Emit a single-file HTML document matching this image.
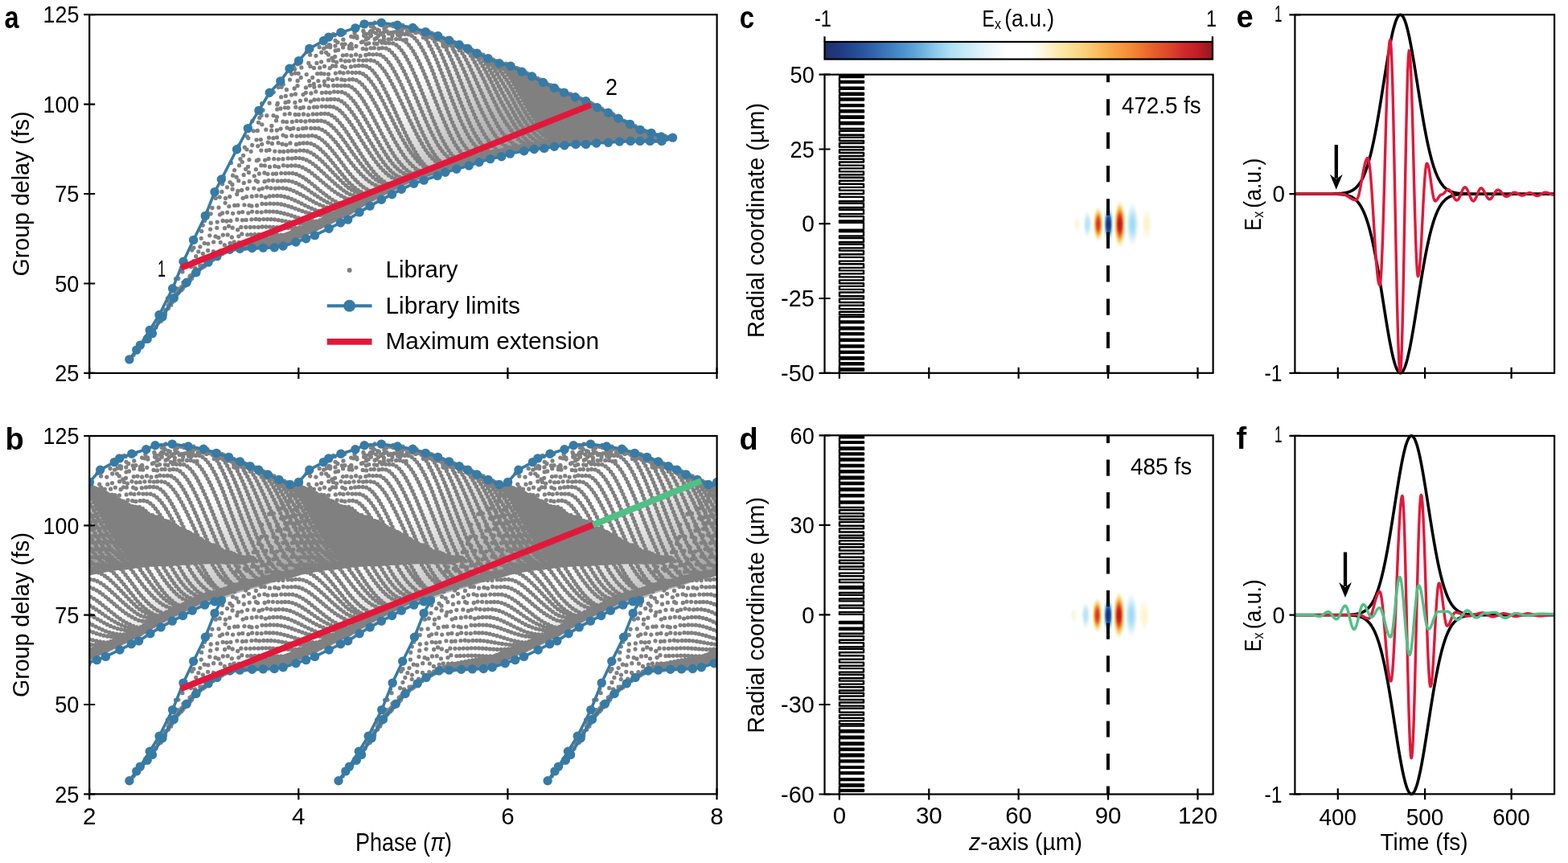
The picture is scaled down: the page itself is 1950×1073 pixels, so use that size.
<!DOCTYPE html>
<html><head><meta charset="utf-8"><title>figure</title>
<style>html,body{margin:0;padding:0;background:#fff;}body{width:1950px;height:1073px;overflow:hidden;}svg{display:block;}</style>
</head><body>
<svg width="1950" height="1073" viewBox="0 0 1950 1073" font-family="'Liberation Sans', Arial, sans-serif">
<defs><linearGradient id="dens" gradientUnits="userSpaceOnUse" x1="495" y1="125" x2="600" y2="215"><stop offset="0" stop-color="#808080" stop-opacity="0"/><stop offset="1" stop-color="#808080" stop-opacity="0.75"/></linearGradient>
<g id="lib"><path d="M160.9 446.9L169.8 435.1L174.3 429.3L186.2 410.5L198 391.5L214.6 358.8L228 325.3L240.6 298.4L255.3 268.4L267 238.6L275.3 223L294.5 185.7L308.3 159.6L321.9 137.4L335.2 115.2L348.8 100.9L360 85.2L371.5 75.6L384.8 60.4L402.3 50.8L408.8 46.1L423.9 40.4L441.9 34.9L453.1 29.9L474.3 28.3L494.2 31.2L513.3 34.5L529.2 39.6L544.6 44.6L558.6 50.2L571.1 55.8L581.8 60.5L593 66.1L607 72.6L620.9 78.7L634.9 82.1L648.9 89.1L661.5 95L675.4 102.5L689.4 109.5L701.5 115.1L715.4 120.7L728.6 125.7L742.6 133.8L756.5 140.2L769.1 147.2L783.5 154.4L796.1 161.4L810 165.4L822.3 170L836.6 171.1L822.9 175.4L808.4 175.4L796 175.4L784.2 175.4L770.5 176L756.5 177.2L741.7 178L728.6 179.4L716 179.4L702 180.8L689.4 182.2L676.8 184.4L664.3 185.5L651.7 187.8L634.3 191.1L623.7 194.8L609.7 197.6L595.8 201.8L583.2 206L567.8 210.2L553.8 214.3L544 218.5L527.2 224.1L514.7 228.3L499.3 235.3L487.5 241.7L474.4 248.3L460.1 256.1L447 263.9L432.7 273.1L423.5 277L409.1 284.2L391.5 292.6L380.6 296.8L368 301L352.1 306L341.2 307.7L327.3 308.1L313.5 308.5L298.4 309.3L285.8 310.2L269.9 318.6L259 326.1L243.9 338.7L232.2 351.3L216.2 370.6L202 394L189.4 414.6L183.2 421.4L160.9 446.9Z" fill="url(#dens)"/><path d="M166.1 441.3h0M175.2 427.7h0M185.9 416.8h0M188.3 416.5h0M193.4 405.9h0M196.3 401.5h0M198.9 397.2h0M202 393.3h0M205.8 387.1h0M209.2 383.5h0M210.5 377.7h0M214 373h0M217 368.7h0M221.1 364.5h0M224 360.6h0M227.3 356.5h0M230.8 352.9h0M233.9 349.5h0M237 346.1h0M240.1 342.7h0M243.2 339.4h0M246.7 336.3h0M250.1 333.3h0M253.6 330.2h0M257.1 327.2h0M260.6 324.3h0M264.2 321.5h0M267.9 318.6h0M271.6 316h0M275.5 313.5h0M279.4 311h0M283.2 308.5h0M287.2 306.4h0M291.7 305.3h0M296.1 304.1h0M300.6 303h0M305.1 301.9h0M309.5 300.8h0M314 299.7h0M318.5 298.8h0M323 297.9h0M327.5 297h0M332.1 296.3h0M336.6 295.8h0M341.2 295.3h0M345.7 294.4h0M350.2 293.4h0M354.6 292h0M358.9 290.4h0M363.2 288.8h0M367.6 287.3h0M371.9 285.7h0M376.2 284.1h0M380.5 282.4h0M384.7 280.6h0M389 278.9h0M393.2 277.1h0M397.4 275.1h0M401.5 273.1h0M405.6 271.1h0M409.8 269.1h0M413.9 267h0M418 265h0M422.1 263h0M426.3 261.1h0M430.6 259.3h0M434.7 257.2h0M438.6 254.8h0M442.5 252.4h0M446.4 249.9h0M450.3 247.6h0M454.3 245.3h0M458.3 243h0M462.4 240.8h0M466.4 238.7h0M470.5 236.6h0M474.6 234.5h0M478.8 232.6h0M483 230.6h0M487.1 228.7h0M491.3 226.7h0M495.4 224.6h0M499.5 222.6h0M503.8 220.8h0M508 219h0M512.3 217.3h0M516.6 215.7h0M521 214.4h0M525.4 213.1h0M529.8 211.8h0M534.2 210.5h0M538.6 209.2h0M543.1 207.9h0M547.4 206.4h0M551.7 204.8h0M556.1 203.4h0M560.5 202.3h0M565 201.2h0M569.5 200.1h0M574 199.1h0M578.4 198.1h0M582.9 197.1h0M587.4 195.8h0M591.8 194.6h0M596.2 193.3h0M600.7 192.2h0M605.1 191.1h0M609.6 189.9h0M614.1 189.2h0M618.7 188.5h0M623.2 187.7h0M627.6 186.4h0M632 185h0M636.5 184h0M641 183.3h0M645.6 182.6h0M650.1 182h0M654.7 181.3h0M659.2 180.7h0M663.8 180h0M668.4 179.8h0M673 179.5h0M677.6 179.2h0M682.1 178.6h0M686.7 178h0M691.3 177.5h0M695.9 177.2h0M700.4 176.8h0M705 176.5h0M709.6 176.2h0M714.2 175.9h0M718.8 175.8h0M723.4 175.9h0M728 176h0M732.6 175.8h0M737.2 175.5h0M741.8 175.2h0M746.4 175.1h0M751 175h0M755.6 174.9h0M760.2 174.7h0M764.8 174.5h0M769.4 174.3h0M774 174.2h0M778.6 174.2h0M783.2 174.1h0M787.7 174.2h0M792.3 174.4h0M796.9 174.5h0M801.5 174.6h0M806.1 174.7h0M810.7 174.8h0M815.3 174.9h0M819.9 175h0M824.5 174.6h0M828.9 173.3h0M833.3 172.1h0M172.1 435.5h0M181.1 421.4h0M185.5 417.3h0M188.8 412.2h0M193.5 407.3h0M198.3 400.1h0M200.1 399.4h0M203.6 393h0M210.7 379.5h0M212.7 375.6h0M214.6 370.6h0M218.5 365.4h0M223.1 362.4h0M226 357.8h0M229.5 354.1h0M232.9 350.4h0M236.3 346.9h0M239.7 343.3h0M242.8 339.8h0M246.2 336.7h0M249.7 333.8h0M253.2 330.8h0M256.7 327.8h0M260.3 324.9h0M264 322.1h0M267.7 319.4h0M271.4 316.8h0M275.4 314.4h0M279.3 311.9h0M283.2 309.5h0M287.2 307.5h0M291.7 306.5h0M296.2 305.5h0M300.7 304.5h0M305.2 303.5h0M309.7 302.5h0M314.2 301.5h0M318.7 300.6h0M323.2 299.7h0M327.7 298.9h0M332.3 298.1h0M336.8 297.4h0M341.4 297h0M345.9 296h0M350.4 295.1h0M354.8 293.7h0M359.1 292.1h0M363.4 290.6h0M367.8 289.1h0M372.1 287.5h0M376.4 285.9h0M380.7 284.3h0M384.9 282.5h0M389.2 280.8h0M393.4 279h0M397.6 277h0M401.7 275h0M405.9 273h0M410 270.9h0M414.1 268.9h0M418.2 266.9h0M422.4 264.8h0M426.6 263h0M430.8 261.2h0M434.9 259.1h0M438.8 256.6h0M442.7 254.2h0M446.6 251.7h0M450.5 249.4h0M454.5 247.1h0M458.5 244.8h0M462.6 242.6h0M466.6 240.5h0M470.7 238.4h0M474.8 236.3h0M479 234.3h0M483.1 232.4h0M487.3 230.4h0M491.4 228.3h0M495.5 226.3h0M499.6 224.2h0M503.9 222.4h0M508.1 220.7h0M512.4 218.9h0M516.7 217.3h0M521.1 216h0M525.5 214.7h0M529.9 213.3h0M534.3 212h0M538.7 210.7h0M543.1 209.4h0M547.4 207.8h0M551.7 206.2h0M556.1 204.8h0M560.6 203.6h0M565 202.5h0M569.5 201.4h0M574 200.4h0M578.4 199.3h0M582.9 198.3h0M587.3 197h0M591.8 195.7h0M596.2 194.5h0M600.6 193.3h0M605.1 192.1h0M609.5 191h0M614.1 190.2h0M618.6 189.5h0M623.1 188.7h0M627.6 187.4h0M631.9 186h0M636.4 184.9h0M640.9 184.2h0M645.5 183.5h0M650 182.8h0M654.6 182.1h0M659.1 181.5h0M663.7 180.8h0M668.3 180.5h0M672.9 180.2h0M677.5 179.9h0M682 179.3h0M686.6 178.7h0M691.1 178.1h0M695.7 177.8h0M700.3 177.4h0M704.9 177.1h0M709.5 176.7h0M714.1 176.4h0M718.7 176.3h0M723.3 176.4h0M727.9 176.5h0M732.5 176.2h0M737 175.9h0M741.6 175.6h0M746.2 175.5h0M750.8 175.4h0M755.4 175.2h0M760 175h0M764.6 174.8h0M769.2 174.6h0M773.8 174.4h0M778.4 174.4h0M783 174.3h0M787.6 174.4h0M792.2 174.5h0M796.8 174.7h0M801.4 174.7h0M806 174.8h0M810.6 174.9h0M815.2 175h0M819.8 175.1h0M824.3 174.7h0M828.8 173.4h0M833.2 172.1h0M183.2 417.2h0M198.4 396.3h0M203.1 391.6h0M205.6 390.5h0M209.7 382.5h0M212.3 378.1h0M216.4 370.5h0M219.1 369h0M223.3 362.2h0M225.7 356.9h0M229.2 355.3h0M233.2 349.8h0M236.5 346.3h0M240.2 342.6h0M243.4 339.2h0M247.2 335.9h0M250.8 333h0M254.3 330h0M257.8 327h0M261.5 324.3h0M265.2 321.6h0M268.9 318.9h0M272.8 316.5h0M276.8 314.2h0M280.8 311.9h0M284.7 309.5h0M289.1 308.3h0M293.6 307.5h0M298.2 306.7h0M302.7 305.9h0M307.2 305.1h0M311.8 304.3h0M316.3 303.5h0M320.8 302.8h0M325.4 302.1h0M329.9 301.4h0M334.5 300.7h0M339 300.1h0M343.6 299.4h0M348.1 298.5h0M352.6 297.5h0M356.9 296h0M361.2 294.4h0M365.6 293h0M370 291.5h0M374.3 289.9h0M378.6 288.4h0M382.9 286.7h0M387.2 285h0M391.4 283.3h0M395.6 281.3h0M399.7 279.3h0M403.9 277.3h0M408 275.3h0M412.1 273.3h0M416.3 271.2h0M420.4 269.2h0M424.5 267.2h0M428.8 265.4h0M433 263.6h0M436.9 261.1h0M440.8 258.7h0M444.7 256.2h0M448.6 253.8h0M452.5 251.5h0M456.5 249.2h0M460.5 246.9h0M464.6 244.7h0M468.7 242.6h0M472.7 240.5h0M476.8 238.4h0M481 236.4h0M485.1 234.4h0M489.3 232.4h0M493.4 230.3h0M497.4 228.2h0M501.6 226.3h0M505.8 224.4h0M510.1 222.6h0M514.3 220.8h0M518.7 219.4h0M523.1 218h0M527.5 216.7h0M531.9 215.3h0M536.3 214h0M540.7 212.6h0M545 211.2h0M549.3 209.5h0M553.6 207.8h0M558 206.6h0M562.5 205.4h0M566.9 204.3h0M571.4 203.1h0M575.8 202.1h0M580.3 201h0M584.8 199.8h0M589.2 198.5h0M593.6 197.1h0M598 195.9h0M602.4 194.7h0M606.9 193.5h0M611.3 192.4h0M615.9 191.6h0M620.4 190.8h0M624.9 189.8h0M629.3 188.4h0M633.6 187h0M638.2 186.1h0M642.7 185.4h0M647.2 184.7h0M651.8 183.9h0M656.3 183.2h0M660.9 182.5h0M665.4 181.9h0M670 181.6h0M674.6 181.3h0M679.2 180.8h0M683.7 180.2h0M688.3 179.5h0M692.8 179h0M697.4 178.6h0M702 178.2h0M706.6 177.8h0M711.2 177.5h0M715.8 177.1h0M720.4 177.1h0M725 177.2h0M729.6 177.2h0M734.1 176.8h0M738.7 176.5h0M743.3 176.2h0M747.9 176h0M752.5 175.9h0M757.1 175.7h0M761.7 175.4h0M766.3 175.1h0M770.9 174.9h0M775.5 174.8h0M780.1 174.7h0M784.7 174.6h0M789.3 174.7h0M793.9 174.8h0M798.5 174.9h0M803.1 174.9h0M807.7 175h0M812.3 175h0M816.9 175.1h0M821.5 175.2h0M826 174.3h0M830.4 173h0M834.8 171.6h0M184.2 417.1h0M201 396.6h0M202.7 394.4h0M205 387.3h0M209 383.3h0M212.7 379.2h0M216.9 371h0M218.4 368h0M222.4 362.5h0M227.3 358.8h0M230.9 354.6h0M233.8 349.7h0M237.5 345.4h0M241.5 341h0M244.2 338.1h0M248.9 334.6h0M252.5 331.5h0M256.1 328.5h0M259.7 325.6h0M263.5 322.9h0M267.2 320.3h0M271 317.7h0M275 315.4h0M279 313.1h0M282.9 310.7h0M287 308.8h0M291.6 308h0M296.1 307.2h0M300.6 306.3h0M305.1 305.4h0M309.6 304.5h0M314.2 303.6h0M318.7 302.7h0M323.2 301.9h0M327.7 301h0M332.2 300.1h0M336.8 299.3h0M341.3 298.7h0M345.8 297.5h0M350.2 296.5h0M354.6 295.1h0M358.9 293.6h0M363.3 292h0M367.7 290.6h0M372 289h0M376.3 287.4h0M380.6 285.8h0M384.8 284h0M389.1 282.4h0M393.3 280.5h0M397.5 278.5h0M401.6 276.5h0M405.8 274.5h0M409.9 272.5h0M414 270.5h0M418.2 268.4h0M422.3 266.4h0M426.5 264.5h0M430.7 262.8h0M434.8 260.6h0M438.7 258.2h0M442.6 255.7h0M446.5 253.3h0M450.4 250.9h0M454.4 248.6h0M458.4 246.3h0M462.4 244.1h0M466.5 242h0M470.6 239.9h0M474.7 237.7h0M478.8 235.8h0M483 233.8h0M487.1 231.8h0M491.2 229.8h0M495.3 227.7h0M499.4 225.6h0M503.7 223.8h0M507.9 222h0M512.1 220.2h0M516.5 218.6h0M520.9 217.3h0M525.3 215.9h0M529.7 214.6h0M534.1 213.3h0M538.5 211.9h0M542.9 210.6h0M547.2 209h0M551.5 207.3h0M555.8 205.9h0M560.3 204.7h0M564.7 203.6h0M569.2 202.5h0M573.7 201.4h0M578.1 200.3h0M582.6 199.3h0M587 198h0M591.5 196.7h0M595.9 195.4h0M600.3 194.2h0M604.8 193h0M609.2 191.9h0M613.7 191h0M618.3 190.3h0M622.8 189.5h0M627.2 188.2h0M631.6 186.8h0M636 185.6h0M640.6 184.9h0M645.1 184.2h0M649.7 183.5h0M654.2 182.8h0M658.8 182.1h0M663.3 181.4h0M667.9 181.1h0M672.5 180.8h0M677.1 180.5h0M681.6 179.9h0M686.2 179.2h0M690.7 178.6h0M695.3 178.3h0M699.9 177.9h0M704.5 177.5h0M709.1 177.2h0M713.7 176.8h0M718.3 176.7h0M722.9 176.8h0M727.5 176.8h0M732.1 176.6h0M736.6 176.3h0M741.2 175.9h0M745.8 175.8h0M750.4 175.6h0M755 175.5h0M759.6 175.3h0M764.2 175h0M768.8 174.8h0M773.4 174.6h0M778 174.5h0M782.6 174.4h0M787.2 174.5h0M791.8 174.6h0M796.4 174.7h0M801 174.8h0M805.6 174.9h0M810.2 174.9h0M814.8 175h0M819.4 175.1h0M823.9 174.8h0M828.4 173.5h0M832.8 172.2h0M194 406.7h0M203 393.1h0M205.7 385.1h0M216.5 369.2h0M220.7 365.5h0M225.1 360.7h0M228.9 355.7h0M232.5 351.4h0M235.5 347.5h0M239.9 342.3h0M242.4 339.5h0M247.3 335h0M250.7 332.3h0M255.1 329.4h0M258.8 326.4h0M262.6 323.6h0M266.4 321h0M270.1 318.3h0M274.1 316.1h0M278.1 313.8h0M282.1 311.4h0M286 309.1h0M290.5 308.3h0M295.1 307.3h0M299.5 306.4h0M304 305.4h0M308.5 304.3h0M313 303.2h0M317.4 302.1h0M321.9 301h0M326.4 299.8h0M330.8 298.7h0M335.3 297.5h0M339.8 296.5h0M344.2 295.3h0M348.6 294h0M353 292.5h0M357.2 290.8h0M361.5 289.1h0M365.8 287.6h0M370.2 286.1h0M374.5 284.4h0M378.8 282.8h0M383 281h0M387.3 279.3h0M391.5 277.6h0M395.7 275.6h0M399.8 273.6h0M404 271.6h0M408.1 269.6h0M412.2 267.5h0M416.4 265.5h0M420.5 263.5h0M424.6 261.5h0M428.9 259.7h0M433.1 257.9h0M437 255.5h0M440.9 253h0M444.8 250.6h0M448.7 248.2h0M452.7 245.9h0M456.7 243.6h0M460.7 241.4h0M464.8 239.3h0M468.9 237.2h0M473 235.1h0M477.1 233.1h0M481.3 231.1h0M485.5 229.2h0M489.6 227.2h0M493.8 225.2h0M497.9 223.1h0M502.1 221.2h0M506.3 219.5h0M510.6 217.7h0M514.8 216h0M519.2 214.7h0M523.7 213.4h0M528.1 212.1h0M532.5 210.8h0M536.9 209.5h0M541.3 208.2h0M545.7 206.8h0M550 205.2h0M554.3 203.6h0M558.8 202.5h0M563.3 201.4h0M567.7 200.3h0M572.2 199.3h0M576.7 198.3h0M581.2 197.3h0M585.6 196.1h0M590.1 194.9h0M594.5 193.6h0M598.9 192.5h0M603.4 191.3h0M607.9 190.2h0M612.4 189.3h0M616.9 188.6h0M621.4 187.9h0M625.9 186.8h0M630.3 185.4h0M634.7 184.1h0M639.3 183.4h0M643.8 182.8h0M648.4 182.1h0M652.9 181.4h0M657.5 180.8h0M662 180.2h0M666.6 179.7h0M671.2 179.5h0M675.8 179.3h0M680.4 178.8h0M684.9 178.2h0M689.5 177.6h0M694.1 177.2h0M698.7 176.9h0M703.2 176.6h0M707.8 176.2h0M712.4 175.9h0M717 175.7h0M721.6 175.8h0M726.2 175.9h0M730.8 175.9h0M735.4 175.6h0M740 175.3h0M744.6 175.1h0M749.2 175h0M753.8 174.9h0M758.4 174.8h0M763 174.6h0M767.6 174.4h0M772.2 174.2h0M776.8 174.2h0M781.4 174.1h0M786 174.2h0M790.6 174.3h0M795.2 174.5h0M799.8 174.6h0M804.4 174.7h0M809 174.7h0M813.6 174.8h0M818.2 175h0M822.8 175.1h0M827.2 173.8h0M831.6 172.5h0M836 171.3h0M196.3 397.3h0M204.2 389.8h0M205.7 386.2h0M209.2 379.7h0M214.4 375.5h0M215.6 370.8h0M220.8 364.1h0M224.1 361.1h0M227.7 354.9h0M232.6 350.9h0M236.7 348.3h0M239.3 342.4h0M244.8 338.7h0M248 335.2h0M252.4 331.3h0M257.2 327.7h0M260.8 324.6h0M265 321.9h0M268.8 319.3h0M272.8 317h0M276.8 314.8h0M280.8 312.5h0M284.8 310.2h0M289.2 309.1h0M293.7 308.4h0M298.3 307.6h0M302.8 306.7h0M307.3 305.8h0M311.8 304.8h0M316.3 303.9h0M320.8 302.9h0M325.3 301.9h0M329.8 300.8h0M334.2 299.8h0M338.7 298.8h0M343.2 297.6h0M347.6 296.3h0M351.9 294.9h0M356.2 293h0M360.4 291.2h0M364.7 289.6h0M369.1 288.1h0M373.4 286.5h0M377.7 284.9h0M381.9 283.2h0M386.2 281.4h0M390.5 279.8h0M394.7 277.8h0M398.8 275.8h0M402.9 273.8h0M407.1 271.8h0M411.2 269.8h0M415.3 267.8h0M419.4 265.7h0M423.6 263.7h0M427.8 261.9h0M432.1 260.1h0M436 257.8h0M439.9 255.4h0M443.8 252.9h0M447.7 250.5h0M451.7 248.2h0M455.7 245.9h0M459.7 243.6h0M463.8 241.5h0M467.8 239.3h0M471.9 237.2h0M476 235.2h0M480.2 233.2h0M484.4 231.3h0M488.5 229.3h0M492.6 227.2h0M496.7 225.2h0M500.9 223.2h0M505.1 221.4h0M509.4 219.7h0M513.6 217.9h0M518 216.5h0M522.4 215.1h0M526.8 213.8h0M531.2 212.5h0M535.6 211.2h0M540 209.9h0M544.4 208.6h0M548.7 206.9h0M553 205.3h0M557.5 204h0M561.9 202.9h0M566.4 201.8h0M570.9 200.7h0M575.3 199.7h0M579.8 198.6h0M584.3 197.6h0M588.7 196.3h0M593.1 195h0M597.6 193.8h0M602 192.6h0M606.5 191.5h0M610.9 190.4h0M615.5 189.7h0M620 189h0M624.5 188.1h0M628.9 186.7h0M633.3 185.3h0M637.8 184.4h0M642.4 183.7h0M646.9 183.1h0M651.5 182.4h0M656 181.7h0M660.6 181h0M665.1 180.5h0M669.7 180.2h0M674.3 180h0M678.9 179.6h0M683.4 178.9h0M688 178.3h0M692.6 177.9h0M697.2 177.5h0M701.8 177.1h0M706.3 176.8h0M710.9 176.5h0M715.5 176.2h0M720.1 176.2h0M724.7 176.3h0M729.3 176.3h0M733.9 176h0M738.5 175.7h0M743.1 175.5h0M747.7 175.3h0M752.3 175.2h0M756.9 175.1h0M761.5 174.9h0M766.1 174.6h0M770.7 174.4h0M775.3 174.4h0M779.9 174.3h0M784.5 174.3h0M789.1 174.4h0M793.7 174.5h0M798.3 174.6h0M802.9 174.7h0M807.5 174.8h0M812.1 174.9h0M816.7 175h0M821.3 175.1h0M825.7 174.3h0M830.2 173h0M834.6 171.7h0M199.6 391.6h0M210.5 375.5h0M215.2 373.9h0M213.1 371.1h0M222.8 363.2h0M226.9 358.4h0M231 353.5h0M234.9 349.4h0M243.1 339.3h0M246.8 336.3h0M251.7 332.5h0M255.6 328.8h0M260.2 326.2h0M264.2 322.6h0M267.9 319.7h0M272.2 317.4h0M276.3 315.2h0M280.4 313h0M284.4 310.8h0M288.8 309.7h0M293.4 309.2h0M297.9 308.7h0M302.5 308.2h0M307.1 307.6h0M311.6 307h0M316.2 306.4h0M320.7 305.8h0M325.3 305.2h0M329.8 304.5h0M334.4 303.9h0M339 303.2h0M343.5 302.3h0M347.9 301.2h0M352.4 300h0M356.6 298.3h0M360.9 296.7h0M365.2 295.1h0M369.6 293.6h0M373.9 292h0M378.2 290.5h0M382.5 288.8h0M386.8 287.1h0M391.1 285.4h0M395.3 283.5h0M399.4 281.5h0M403.6 279.5h0M407.7 277.5h0M411.8 275.5h0M415.9 273.4h0M420.1 271.4h0M424.2 269.4h0M428.4 267.6h0M432.7 265.8h0M436.6 263.3h0M440.5 260.9h0M444.3 258.4h0M448.2 256h0M452.2 253.6h0M456.2 251.3h0M460.2 249h0M464.2 246.9h0M468.3 244.7h0M472.4 242.6h0M476.5 240.5h0M480.6 238.5h0M484.7 236.5h0M488.9 234.4h0M492.9 232.3h0M497 230.2h0M501.2 228.2h0M505.4 226.3h0M509.6 224.5h0M513.8 222.7h0M518.2 221.2h0M522.6 219.8h0M526.9 218.4h0M531.3 217.1h0M535.7 215.7h0M540.1 214.3h0M544.5 212.9h0M548.8 211.2h0M553 209.5h0M557.4 208.2h0M561.9 207h0M566.3 205.8h0M570.8 204.6h0M575.2 203.5h0M579.7 202.4h0M584.1 201.2h0M588.5 199.9h0M592.9 198.5h0M597.3 197.2h0M601.8 196h0M606.2 194.7h0M610.7 193.6h0M615.2 192.8h0M619.7 192h0M624.2 191h0M628.6 189.6h0M632.9 188.2h0M637.4 187.2h0M642 186.4h0M646.5 185.7h0M651 184.9h0M655.6 184.1h0M660.1 183.4h0M664.7 182.7h0M669.3 182.4h0M673.8 182.1h0M678.4 181.6h0M683 180.9h0M687.5 180.2h0M692.1 179.7h0M696.7 179.3h0M701.2 178.8h0M705.8 178.4h0M710.4 178.1h0M715 177.7h0M719.6 177.6h0M724.2 177.7h0M728.8 177.7h0M733.4 177.3h0M738 176.9h0M742.5 176.6h0M747.1 176.4h0M751.7 176.2h0M756.3 176.1h0M760.9 175.8h0M765.5 175.5h0M770.1 175.2h0M774.7 175h0M779.3 174.9h0M783.9 174.8h0M788.5 174.8h0M793.1 174.9h0M797.7 175h0M802.3 175h0M806.9 175.1h0M811.5 175.1h0M816.1 175.2h0M820.7 175.2h0M825.2 174.5h0M829.6 173.2h0M834 171.9h0M214 375.7h0M216.3 370.9h0M221.5 364.4h0M223.5 361.9h0M228.7 356.2h0M233.3 350.9h0M238.6 346.2h0M242.9 339.5h0M245 336.5h0M252.5 332.1h0M254.5 331h0M258.5 325.4h0M263.7 322.4h0M267.9 320.2h0M272.5 317.3h0M276.6 315h0M280.8 312.8h0M284.8 310.6h0M289.3 309.7h0M293.9 309.1h0M298.4 308.4h0M302.9 307.6h0M307.5 306.7h0M312 305.8h0M316.4 304.8h0M320.9 303.8h0M325.4 302.6h0M329.8 301.5h0M334.3 300.2h0M338.7 299h0M343.1 297.7h0M347.4 296h0M351.7 294.4h0M355.8 292.3h0M359.9 290.2h0M364 288.2h0M368.3 286.4h0M372.5 284.6h0M376.7 282.9h0M381 281.2h0M385.3 279.3h0M389.5 277.7h0M393.7 275.8h0M397.9 273.8h0M402 271.8h0M406.1 269.8h0M410.3 267.7h0M414.4 265.7h0M418.5 263.7h0M422.7 261.6h0M426.9 259.8h0M431.1 258.1h0M435.2 255.9h0M439.1 253.5h0M443 251h0M446.9 248.6h0M450.8 246.2h0M454.8 243.9h0M458.8 241.7h0M462.9 239.5h0M467 237.4h0M471.1 235.3h0M475.2 233.3h0M479.4 231.3h0M483.5 229.4h0M487.7 227.5h0M491.8 225.4h0M496 223.4h0M500.1 221.4h0M504.4 219.7h0M508.6 217.9h0M512.9 216.2h0M517.2 214.7h0M521.6 213.4h0M526 212.1h0M530.5 210.8h0M534.9 209.5h0M539.3 208.3h0M543.7 207h0M548 205.4h0M552.3 203.8h0M556.8 202.5h0M561.2 201.4h0M565.7 200.3h0M570.2 199.3h0M574.7 198.3h0M579.2 197.3h0M583.6 196.2h0M588.1 195h0M592.5 193.8h0M596.9 192.6h0M601.4 191.4h0M605.9 190.3h0M610.3 189.2h0M614.9 188.5h0M619.4 187.8h0M624 187h0M628.3 185.7h0M632.7 184.3h0M637.2 183.4h0M641.8 182.7h0M646.3 182.1h0M650.9 181.4h0M655.5 180.8h0M660 180.2h0M664.6 179.6h0M669.2 179.3h0M673.8 179.1h0M678.3 178.8h0M682.9 178.2h0M687.5 177.6h0M692 177.2h0M696.6 176.8h0M701.2 176.5h0M705.8 176.2h0M710.4 175.9h0M715 175.6h0M719.6 175.6h0M724.2 175.7h0M728.8 175.8h0M733.4 175.5h0M738 175.2h0M742.6 175h0M747.2 174.9h0M751.8 174.8h0M756.4 174.7h0M761 174.5h0M765.5 174.3h0M770.1 174.1h0M774.7 174.1h0M779.3 174.1h0M783.9 174h0M788.5 174.2h0M793.1 174.4h0M797.7 174.5h0M802.3 174.6h0M806.9 174.7h0M811.5 174.8h0M816.1 174.9h0M820.7 175h0M825.2 174.4h0M829.7 173.1h0M834.1 171.8h0M208.4 371h0M221.2 364.7h0M225.7 360.7h0M230.1 355.4h0M233.8 348.6h0M237.5 343.6h0M244.5 337.9h0M247.6 335.4h0M252.3 332.3h0M256 328.5h0M266 320.8h0M269.7 318.6h0M275.2 316h0M279.3 313.7h0M283.5 311.4h0M287.8 310h0M292.4 309.6h0M296.9 309h0M301.5 308.5h0M306.1 307.8h0M310.6 307.1h0M315.1 306.3h0M319.7 305.5h0M324.2 304.6h0M328.7 303.6h0M333.2 302.6h0M337.6 301.6h0M342.1 300.4h0M346.4 298.9h0M350.8 297.4h0M354.9 295.5h0M359 293.4h0M363.2 291.4h0M367.4 289.6h0M371.6 287.7h0M375.8 285.9h0M380.1 284.1h0M384.3 282.3h0M388.6 280.6h0M392.8 278.8h0M397 276.9h0M401.1 274.9h0M405.3 272.8h0M409.4 270.8h0M413.5 268.8h0M417.6 266.7h0M421.8 264.7h0M426 262.8h0M430.2 261.1h0M434.3 259h0M438.2 256.6h0M442.1 254.1h0M446 251.7h0M450 249.3h0M453.9 247h0M457.9 244.7h0M462 242.5h0M466 240.4h0M470.1 238.3h0M474.2 236.2h0M478.4 234.2h0M482.5 232.3h0M486.7 230.3h0M490.8 228.3h0M494.9 226.2h0M499 224.1h0M503.3 222.3h0M507.5 220.6h0M511.8 218.8h0M516.1 217.1h0M520.5 215.8h0M524.9 214.5h0M529.3 213.2h0M533.7 211.9h0M538.1 210.6h0M542.5 209.3h0M546.8 207.7h0M551.1 206.1h0M555.5 204.6h0M560 203.5h0M564.4 202.4h0M568.9 201.3h0M573.4 200.2h0M577.8 199.2h0M582.3 198.2h0M586.8 196.9h0M591.2 195.7h0M595.6 194.4h0M600.1 193.2h0M604.5 192.1h0M609 190.9h0M613.5 190.1h0M618 189.4h0M622.6 188.6h0M627 187.3h0M631.4 186h0M635.8 184.8h0M640.4 184.1h0M644.9 183.4h0M649.4 182.7h0M654 182.1h0M658.5 181.4h0M663.1 180.7h0M667.7 180.4h0M672.3 180.1h0M676.9 179.9h0M681.4 179.3h0M686 178.6h0M690.6 178.1h0M695.1 177.7h0M699.7 177.3h0M704.3 177h0M708.9 176.7h0M713.5 176.3h0M718.1 176.2h0M722.7 176.3h0M727.3 176.4h0M731.9 176.2h0M736.5 175.9h0M741 175.6h0M745.6 175.4h0M750.2 175.3h0M754.8 175.2h0M759.4 175h0M764 174.8h0M768.6 174.5h0M773.2 174.4h0M777.8 174.3h0M782.4 174.3h0M787 174.3h0M791.6 174.5h0M796.2 174.6h0M800.8 174.7h0M805.4 174.8h0M810 174.8h0M814.6 174.9h0M819.2 175h0M823.8 174.8h0M828.2 173.6h0M832.6 172.3h0M221.2 358.9h0M222.6 362.3h0M228.8 355.7h0M233.2 351.1h0M240.2 339.6h0M260.3 324.6h0M264.9 322.9h0M269.7 318.9h0M274 315.4h0M279.5 313.9h0M283.8 311.4h0M288.1 310h0M292.7 309.7h0M297.3 309.2h0M301.9 308.8h0M306.5 308.3h0M311 307.7h0M315.6 307h0M320.1 306.3h0M324.7 305.6h0M329.2 304.8h0M333.7 303.9h0M338.2 303h0M342.7 301.9h0M347 300.4h0M351.4 299h0M355.6 297h0M359.7 295h0M363.9 293.1h0M368.1 291.2h0M372.2 289.3h0M376.4 287.4h0M380.7 285.6h0M384.9 283.7h0M389.1 282h0M393.4 280.2h0M397.5 278.2h0M401.7 276.2h0M405.8 274.2h0M409.9 272.1h0M414 270.1h0M418.2 268.1h0M422.3 266h0M426.5 264.2h0M430.7 262.4h0M434.8 260.3h0M438.7 257.8h0M442.6 255.4h0M446.5 252.9h0M450.4 250.6h0M454.4 248.3h0M458.4 246h0M462.5 243.8h0M466.5 241.7h0M470.6 239.5h0M474.7 237.4h0M478.8 235.4h0M483 233.5h0M487.2 231.5h0M491.3 229.4h0M495.4 227.4h0M499.5 225.3h0M503.7 223.5h0M508 221.7h0M512.2 219.9h0M516.5 218.3h0M520.9 217h0M525.3 215.6h0M529.7 214.3h0M534.1 213h0M538.5 211.6h0M542.9 210.3h0M547.2 208.7h0M551.5 207.1h0M555.9 205.6h0M560.3 204.5h0M564.8 203.3h0M569.3 202.2h0M573.7 201.2h0M578.2 200.1h0M582.7 199h0M587.1 197.8h0M591.5 196.5h0M595.9 195.2h0M600.4 194h0M604.8 192.8h0M609.3 191.7h0M613.8 190.9h0M618.3 190.1h0M622.9 189.3h0M627.3 188h0M631.7 186.6h0M636.1 185.5h0M640.7 184.8h0M645.2 184.1h0M649.7 183.3h0M654.3 182.6h0M658.8 182h0M663.4 181.3h0M668 180.9h0M672.6 180.7h0M677.2 180.4h0M681.7 179.7h0M686.3 179.1h0M690.8 178.5h0M695.4 178.1h0M700 177.8h0M704.6 177.4h0M709.2 177.1h0M713.8 176.7h0M718.3 176.6h0M722.9 176.7h0M727.5 176.8h0M732.1 176.5h0M736.7 176.2h0M741.3 175.8h0M745.9 175.7h0M750.5 175.6h0M755.1 175.4h0M759.7 175.2h0M764.3 175h0M768.9 174.7h0M773.5 174.6h0M778.1 174.5h0M782.7 174.4h0M787.3 174.5h0M791.9 174.6h0M796.5 174.7h0M801.1 174.8h0M805.7 174.9h0M810.3 174.9h0M814.9 175h0M819.5 175.1h0M824 174.8h0M828.4 173.5h0M832.9 172.2h0M218.5 346.7h0M227.9 351.1h0M231.2 350h0M236 343.7h0M241.4 341.8h0M251.3 330.1h0M259.2 326.1h0M263.2 323.1h0M267.3 320.2h0M276.8 315.5h0M280.7 313.2h0M285.9 310.4h0M290 310.1h0M294.9 309.5h0M299.4 309.2h0M304 308.7h0M308.6 308.2h0M313.1 307.5h0M317.7 306.8h0M322.2 306.1h0M326.7 305.2h0M331.2 304.2h0M335.7 303.2h0M340.2 302.1h0M344.5 300.6h0M348.8 299h0M353.1 297.2h0M357.1 295h0M361.2 292.8h0M365.3 290.7h0M369.4 288.7h0M373.5 286.6h0M377.6 284.5h0M381.7 282.5h0M385.9 280.5h0M390.1 278.7h0M394.3 276.8h0M398.4 274.8h0M402.6 272.8h0M406.7 270.8h0M410.8 268.8h0M415 266.7h0M419.1 264.7h0M423.2 262.7h0M427.4 260.9h0M431.7 259.1h0M435.7 256.8h0M439.6 254.4h0M443.5 252h0M447.4 249.5h0M451.3 247.2h0M455.3 244.9h0M459.3 242.6h0M463.4 240.5h0M467.5 238.4h0M471.6 236.3h0M475.7 234.2h0M479.9 232.3h0M484 230.3h0M488.2 228.4h0M492.3 226.3h0M496.4 224.3h0M500.6 222.3h0M504.8 220.5h0M509.1 218.8h0M513.3 217h0M517.7 215.6h0M522.1 214.3h0M526.5 213h0M530.9 211.7h0M535.4 210.4h0M539.8 209.1h0M544.2 207.8h0M548.5 206.1h0M552.8 204.5h0M557.2 203.3h0M561.7 202.2h0M566.1 201.1h0M570.6 200h0M575.1 199h0M579.6 198h0M584.1 196.9h0M588.5 195.6h0M592.9 194.4h0M597.3 193.2h0M601.8 192h0M606.3 190.9h0M610.7 189.8h0M615.3 189.1h0M619.8 188.4h0M624.3 187.5h0M628.7 186.2h0M633.1 184.8h0M637.6 183.9h0M642.2 183.2h0M646.7 182.6h0M651.3 181.9h0M655.8 181.2h0M660.4 180.6h0M664.9 180h0M669.5 179.8h0M674.1 179.6h0M678.7 179.2h0M683.3 178.6h0M687.8 178h0M692.4 177.5h0M697 177.2h0M701.6 176.8h0M706.2 176.5h0M710.8 176.2h0M715.3 175.9h0M719.9 175.9h0M724.5 176h0M729.1 176.1h0M733.7 175.8h0M738.3 175.5h0M742.9 175.2h0M747.5 175.1h0M752.1 175h0M756.7 174.9h0M761.3 174.7h0M765.9 174.5h0M770.5 174.3h0M775.1 174.2h0M779.7 174.2h0M784.3 174.1h0M788.9 174.3h0M793.5 174.5h0M798.1 174.6h0M802.7 174.7h0M807.3 174.7h0M811.9 174.8h0M816.5 174.9h0M821.1 175h0M825.6 174.3h0M830 173h0M834.4 171.7h0M221.8 346.3h0M226.9 337.9h0M237.5 342.5h0M241.1 340.5h0M251.2 331.7h0M257.8 328.3h0M262.3 324.5h0M265.6 321.3h0M272.6 318.2h0M276.6 315h0M281.5 312.6h0M285.4 310.1h0M291.4 309.8h0M295.9 309.5h0M300.6 309.2h0M305.2 308.8h0M309.7 308.3h0M314.3 307.8h0M318.9 307.2h0M323.4 306.5h0M327.9 305.6h0M332.4 304.7h0M336.9 303.7h0M341.4 302.7h0M345.7 301.1h0M350.1 299.5h0M354.2 297.6h0M358.3 295.4h0M362.3 293.2h0M366.4 291.1h0M370.5 289h0M374.6 286.9h0M378.7 284.8h0M382.8 282.7h0M386.9 280.7h0M391.1 278.8h0M395.2 276.7h0M399.3 274.7h0M403.5 272.7h0M407.6 270.7h0M411.7 268.7h0M415.9 266.6h0M420 264.6h0M424.1 262.6h0M428.4 260.8h0M432.6 259h0M436.5 256.6h0M440.4 254.2h0M444.3 251.8h0M448.3 249.3h0M452.2 247h0M456.2 244.7h0M460.2 242.5h0M464.3 240.4h0M468.4 238.3h0M472.5 236.1h0M476.6 234.1h0M480.8 232.2h0M485 230.2h0M489.1 228.3h0M493.2 226.2h0M497.3 224.1h0M501.5 222.2h0M505.8 220.5h0M510 218.7h0M514.3 216.9h0M518.7 215.6h0M523.1 214.3h0M527.5 213h0M531.9 211.7h0M536.3 210.4h0M540.7 209.1h0M545.1 207.7h0M549.4 206h0M553.7 204.4h0M558.2 203.3h0M562.6 202.2h0M567.1 201.1h0M571.6 200h0M576 199h0M580.5 198h0M585 196.8h0M589.4 195.6h0M593.8 194.3h0M598.3 193.1h0M602.7 192h0M607.2 190.8h0M611.7 189.9h0M616.2 189.1h0M620.8 188.4h0M625.3 187.4h0M629.6 186h0M634 184.7h0M638.6 183.9h0M643.1 183.3h0M647.7 182.6h0M652.2 181.9h0M656.8 181.2h0M661.3 180.6h0M665.9 180.1h0M670.5 179.9h0M675.1 179.6h0M679.7 179.2h0M684.2 178.6h0M688.8 177.9h0M693.4 177.6h0M697.9 177.2h0M702.5 176.8h0M707.1 176.5h0M711.7 176.2h0M716.3 175.9h0M720.9 176h0M725.5 176.1h0M730.1 176.1h0M734.7 175.8h0M739.3 175.5h0M743.9 175.3h0M748.5 175.2h0M753.1 175.1h0M757.7 174.9h0M762.3 174.7h0M766.9 174.5h0M771.4 174.3h0M776 174.3h0M780.6 174.2h0M785.2 174.2h0M789.8 174.4h0M794.4 174.5h0M799 174.6h0M803.6 174.7h0M808.2 174.8h0M812.8 174.9h0M817.4 175h0M822 175.1h0M826.5 174h0M830.9 172.8h0M835.3 171.5h0M225.5 332.8h0M237.5 331.7h0M242.6 333.1h0M248.9 330.3h0M255.4 329h0M261.7 325h0M264.3 322.2h0M269.8 319.1h0M275.2 316.1h0M280.9 312.9h0M284.7 310.2h0M291.1 310h0M295.8 309.5h0M300.4 309.1h0M305.1 308.9h0M309.6 308.6h0M314.2 308.2h0M318.8 307.8h0M323.4 307.4h0M328 306.9h0M332.5 306.3h0M337.1 305.6h0M341.6 304.9h0M346 303.6h0M350.4 302.3h0M354.7 300.6h0M358.9 298.6h0M363.1 296.7h0M367.2 294.8h0M371.4 292.9h0M375.6 291h0M379.8 289.1h0M383.9 287.1h0M388.1 285.1h0M392.3 283.2h0M396.4 281.1h0M400.5 279.1h0M404.6 277.1h0M408.8 275.1h0M412.9 273h0M417 271h0M421.1 269h0M425.3 267h0M429.6 265.2h0M433.7 263.3h0M437.6 260.8h0M441.5 258.4h0M445.4 255.9h0M449.3 253.5h0M453.3 251.2h0M457.3 248.9h0M461.3 246.6h0M465.3 244.5h0M469.4 242.4h0M473.5 240.2h0M477.6 238.2h0M481.8 236.2h0M485.9 234.2h0M490 232.2h0M494.1 230.1h0M498.2 227.9h0M502.4 226.1h0M506.6 224.2h0M510.8 222.4h0M515.1 220.6h0M519.5 219.3h0M523.9 217.9h0M528.3 216.6h0M532.7 215.2h0M537.1 213.9h0M541.5 212.5h0M545.8 211h0M550.1 209.3h0M554.4 207.7h0M558.8 206.5h0M563.3 205.3h0M567.7 204.1h0M572.2 203.1h0M576.7 202h0M581.1 200.9h0M585.6 199.6h0M590 198.3h0M594.4 197h0M598.8 195.7h0M603.2 194.5h0M607.7 193.3h0M612.2 192.3h0M616.7 191.6h0M621.2 190.8h0M625.7 189.7h0M630.1 188.2h0M634.4 186.8h0M639 186.1h0M643.5 185.3h0M648 184.6h0M652.6 183.9h0M657.1 183.2h0M661.7 182.4h0M666.2 181.9h0M670.8 181.6h0M675.4 181.3h0M680 180.8h0M684.5 180.1h0M689.1 179.4h0M693.7 179h0M698.3 178.6h0M702.8 178.2h0M707.4 177.8h0M712 177.4h0M716.6 177.1h0M721.2 177.2h0M725.8 177.3h0M730.4 177.2h0M735 176.8h0M739.6 176.4h0M744.1 176.2h0M748.7 176h0M753.3 175.9h0M757.9 175.7h0M762.5 175.4h0M767.1 175.1h0M771.7 174.9h0M776.3 174.8h0M780.9 174.7h0M785.5 174.6h0M790.1 174.7h0M794.7 174.8h0M799.3 174.9h0M803.9 174.9h0M808.5 175h0M813.1 175.1h0M817.7 175.1h0M822.3 175.2h0M826.7 174h0M831.1 172.7h0M835.6 171.4h0M230.5 323.6h0M240.8 324.6h0M243.7 318.7h0M252.1 320.8h0M260.6 320.3h0M266.4 320.9h0M272.1 318.3h0M274.1 313.1h0M281.3 311.9h0M286.7 310.2h0M292.2 309.8h0M296.3 308.8h0M301.6 309.1h0M306.3 308.9h0M310.9 308.6h0M315.5 308.3h0M320.1 308h0M324.6 307.7h0M329.2 307.3h0M333.8 306.8h0M338.4 306.3h0M342.9 305.5h0M347.4 304.4h0M351.8 303.2h0M356 301.4h0M360.3 299.6h0M364.5 297.8h0M368.7 296h0M372.9 294.2h0M377.1 292.3h0M381.3 290.4h0M385.5 288.4h0M389.7 286.6h0M393.8 284.5h0M397.9 282.4h0M402 280.4h0M406.2 278.4h0M410.3 276.3h0M414.4 274.3h0M418.5 272.3h0M422.7 270.2h0M426.9 268.4h0M431.1 266.6h0M435.1 264.4h0M439 261.9h0M442.9 259.5h0M446.8 257h0M450.7 254.6h0M454.7 252.3h0M458.7 250h0M462.7 247.8h0M466.8 245.6h0M470.8 243.5h0M474.9 241.3h0M479.1 239.3h0M483.2 237.3h0M487.3 235.3h0M491.4 233.2h0M495.5 231.1h0M499.6 229h0M503.8 227.1h0M508 225.3h0M512.2 223.5h0M516.5 221.8h0M520.9 220.4h0M525.3 219.1h0M529.7 217.7h0M534.1 216.3h0M538.5 214.9h0M542.9 213.5h0M547.2 211.9h0M551.4 210.2h0M555.8 208.7h0M560.2 207.5h0M564.7 206.3h0M569.1 205.1h0M573.6 204h0M578 202.9h0M582.5 201.8h0M586.9 200.4h0M591.3 199.1h0M595.7 197.7h0M600.1 196.5h0M604.5 195.3h0M609 194h0M613.5 193.1h0M618 192.3h0M622.5 191.5h0M626.9 190.2h0M631.3 188.8h0M635.7 187.5h0M640.3 186.8h0M644.8 186h0M649.3 185.2h0M653.9 184.5h0M658.4 183.7h0M663 183h0M667.5 182.6h0M672.1 182.2h0M676.7 181.9h0M681.3 181.2h0M685.8 180.5h0M690.4 179.9h0M694.9 179.5h0M699.5 179h0M704.1 178.6h0M708.7 178.2h0M713.3 177.8h0M717.9 177.6h0M722.5 177.7h0M727.1 177.7h0M731.7 177.5h0M736.2 177.1h0M740.8 176.7h0M745.4 176.5h0M750 176.3h0M754.6 176.1h0M759.2 175.9h0M763.8 175.6h0M768.4 175.3h0M773 175.1h0M777.6 175h0M782.2 174.8h0M786.8 174.8h0M791.4 174.9h0M796 175h0M800.6 175h0M805.2 175.1h0M809.8 175.1h0M814.4 175.1h0M819 175.2h0M823.5 175h0M827.9 173.7h0M832.3 172.4h0M238.8 311h0M246.8 312.9h0M252.3 315.3h0M258.6 311.5h0M265.4 312.7h0M273.7 311.8h0M278.4 313.1h0M284.2 311.2h0M287.7 310.8h0M295 310h0M299.7 309.3h0M304.5 309.3h0M309.2 308.8h0M313.8 308.5h0M318.4 308.2h0M323 307.9h0M327.6 307.4h0M332.2 306.8h0M336.7 306.2h0M341.3 305.4h0M345.7 304.1h0M350 302.7h0M354.3 300.9h0M358.4 298.8h0M362.5 296.7h0M366.6 294.6h0M370.7 292.5h0M374.7 290.4h0M378.8 288.3h0M382.9 286.1h0M386.9 283.9h0M391 281.8h0M395 279.5h0M399 277.2h0M403 275h0M407.1 272.9h0M411.2 270.9h0M415.4 268.8h0M419.5 266.8h0M423.6 264.8h0M427.9 263h0M432.1 261.2h0M436 258.9h0M439.9 256.4h0M443.8 254h0M447.7 251.5h0M451.7 249.2h0M455.7 246.9h0M459.7 244.6h0M463.8 242.5h0M467.8 240.4h0M471.9 238.3h0M476 236.2h0M480.2 234.2h0M484.4 232.3h0M488.5 230.3h0M492.6 228.2h0M496.7 226.1h0M500.9 224.2h0M505.1 222.4h0M509.3 220.6h0M513.6 218.8h0M517.9 217.4h0M522.4 216h0M526.8 214.7h0M531.2 213.4h0M535.6 212.1h0M540 210.7h0M544.4 209.4h0M548.7 207.7h0M553 206.1h0M557.4 204.8h0M561.8 203.7h0M566.3 202.6h0M570.8 201.5h0M575.2 200.4h0M579.7 199.4h0M584.2 198.3h0M588.6 197h0M593 195.7h0M597.4 194.4h0M601.9 193.3h0M606.3 192.1h0M610.8 191h0M615.4 190.3h0M619.9 189.5h0M624.4 188.6h0M628.8 187.2h0M633.2 185.8h0M637.7 184.9h0M642.2 184.2h0M646.8 183.5h0M651.3 182.8h0M655.9 182.2h0M660.4 181.5h0M665 180.9h0M669.6 180.6h0M674.1 180.4h0M678.7 179.9h0M683.3 179.3h0M687.8 178.7h0M692.4 178.2h0M697 177.8h0M701.6 177.5h0M706.2 177.1h0M710.8 176.8h0M715.3 176.4h0M719.9 176.5h0M724.5 176.6h0M729.1 176.6h0M733.7 176.3h0M738.3 175.9h0M742.9 175.7h0M747.5 175.5h0M752.1 175.4h0M756.7 175.3h0M761.3 175h0M765.9 174.8h0M770.5 174.6h0M775.1 174.5h0M779.7 174.4h0M784.3 174.3h0M788.9 174.5h0M793.5 174.6h0M798.1 174.7h0M802.7 174.8h0M807.3 174.8h0M811.9 174.9h0M816.5 175h0M821.1 175.1h0M825.6 174.3h0M830 173h0M834.4 171.8h0M240.8 307.9h0M248.9 306.8h0M254.2 302.4h0M258.8 303.1h0M265.6 300.9h0M274.2 301.3h0M279.3 304.7h0M286.1 302.5h0M291.1 301h0M297.2 301.3h0M302.1 301.1h0M307.4 301.3h0M311.9 300.9h0M317 300.9h0M321.6 300.8h0M326.2 300.7h0M330.8 300.5h0M335.4 300.3h0M340 300.1h0M344.6 299.7h0M349.1 299.2h0M353.7 298.6h0M358.2 297.5h0M362.6 296.3h0M367 295h0M371.3 293.3h0M375.4 291.2h0M379.4 289h0M383.4 286.8h0M387.5 284.6h0M391.5 282.4h0M395.5 280.1h0M399.5 277.7h0M403.5 275.5h0M407.5 273.3h0M411.6 271.1h0M415.7 269.1h0M419.8 267h0M424 265h0M428.2 263.3h0M432.4 261.5h0M436.4 259.1h0M440.3 256.6h0M444.2 254.2h0M448.1 251.8h0M452 249.4h0M456 247.1h0M460 244.9h0M464.1 242.7h0M468.2 240.6h0M472.2 238.5h0M476.4 236.4h0M480.5 234.5h0M484.7 232.5h0M488.8 230.5h0M492.9 228.4h0M497 226.3h0M501.2 224.4h0M505.4 222.6h0M509.7 220.8h0M513.9 219h0M518.3 217.6h0M522.7 216.3h0M527.1 214.9h0M531.5 213.6h0M535.9 212.3h0M540.3 210.9h0M544.7 209.6h0M549 207.9h0M553.3 206.2h0M557.7 205h0M562.2 203.9h0M566.6 202.7h0M571.1 201.7h0M575.6 200.6h0M580 199.5h0M584.5 198.4h0M588.9 197.1h0M593.3 195.8h0M597.7 194.6h0M602.2 193.4h0M606.6 192.2h0M611.1 191.2h0M615.7 190.4h0M620.2 189.7h0M624.7 188.7h0M629.1 187.3h0M633.5 185.9h0M638 185.1h0M642.5 184.4h0M647.1 183.7h0M651.6 183h0M656.2 182.3h0M660.7 181.6h0M665.3 181h0M669.9 180.8h0M674.4 180.5h0M679 180h0M683.6 179.4h0M688.1 178.8h0M692.7 178.3h0M697.3 177.9h0M701.9 177.6h0M706.5 177.2h0M711 176.9h0M715.6 176.5h0M720.2 176.6h0M724.8 176.7h0M729.4 176.7h0M734 176.3h0M738.6 176h0M743.2 175.7h0M747.8 175.6h0M752.4 175.5h0M757 175.3h0M761.6 175.1h0M766.2 174.8h0M770.8 174.6h0M775.4 174.5h0M780 174.4h0M784.6 174.4h0M789.2 174.5h0M793.8 174.6h0M798.4 174.7h0M803 174.8h0M807.6 174.9h0M812.2 174.9h0M816.8 175h0M821.4 175.1h0M825.8 174.3h0M830.3 173h0M834.7 171.7h0M250.2 296.3h0M260.8 292.8h0M268 293.9h0M271.8 295.4h0M277.3 292.2h0M283.1 291.9h0M288.3 295h0M296.8 293.8h0M300.8 290.9h0M307.7 291.8h0M312.1 291.6h0M316.9 291.5h0M321.9 291.4h0M326.5 291.4h0M331.1 291.4h0M335.7 291.6h0M340.3 291.8h0M344.9 292h0M349.5 292.1h0M354.1 292.1h0M358.7 291.8h0M363.2 291.4h0M367.8 290.8h0M372.3 290h0M376.8 288.9h0M381.2 287.6h0M385.5 286h0M389.8 284.3h0M393.9 282.3h0M397.9 280h0M401.9 277.7h0M405.9 275.4h0M409.9 273.2h0M414 271h0M418 268.9h0M422.2 266.8h0M426.4 265h0M430.6 263.2h0M434.7 261.1h0M438.6 258.6h0M442.5 256.2h0M446.4 253.7h0M450.3 251.4h0M454.3 249h0M458.3 246.8h0M462.3 244.6h0M466.4 242.4h0M470.5 240.3h0M474.5 238.2h0M478.7 236.2h0M482.9 234.2h0M487 232.2h0M491.1 230.2h0M495.2 228.1h0M499.3 226h0M503.5 224.2h0M507.8 222.4h0M512 220.6h0M516.3 219h0M520.7 217.6h0M525.1 216.3h0M529.5 214.9h0M533.9 213.6h0M538.3 212.3h0M542.7 210.9h0M547 209.3h0M551.3 207.7h0M555.7 206.2h0M560.1 205.1h0M564.6 203.9h0M569 202.8h0M573.5 201.7h0M578 200.6h0M582.4 199.5h0M586.9 198.3h0M591.3 197h0M595.7 195.7h0M600.1 194.5h0M604.6 193.3h0M609 192.1h0M613.5 191.3h0M618.1 190.5h0M622.6 189.7h0M627 188.4h0M631.4 187h0M635.8 185.9h0M640.4 185.1h0M644.9 184.4h0M649.5 183.7h0M654 183h0M658.6 182.3h0M663.1 181.6h0M667.7 181.2h0M672.3 181h0M676.9 180.7h0M681.4 180h0M686 179.4h0M690.5 178.8h0M695.1 178.4h0M699.7 178h0M704.3 177.6h0M708.9 177.3h0M713.5 176.9h0M718.1 176.8h0M722.7 176.8h0M727.3 176.9h0M731.8 176.7h0M736.4 176.3h0M741 176h0M745.6 175.8h0M750.2 175.7h0M754.8 175.6h0M759.4 175.3h0M764 175.1h0M768.6 174.8h0M773.2 174.7h0M777.8 174.6h0M782.4 174.5h0M787 174.5h0M791.6 174.6h0M796.2 174.8h0M800.8 174.8h0M805.4 174.9h0M810 174.9h0M814.6 175h0M819.2 175.1h0M823.7 174.9h0M828.2 173.6h0M832.6 172.3h0M250.6 287.4h0M252.2 280h0M261.6 285.1h0M269.8 283.3h0M279.5 283.7h0M284.5 281.2h0M289.2 283.2h0M295.6 285.7h0M299.8 282.4h0M305.8 282.5h0M311.2 282.5h0M316.2 282.3h0M321.3 282.4h0M326.1 282h0M330.8 282h0M335.4 282.1h0M340 282.4h0M344.6 282.7h0M349.1 283.1h0M353.7 283.4h0M358.3 283.6h0M362.9 283.6h0M367.5 283.4h0M372.1 283h0M376.7 282.4h0M381.2 281.5h0M385.6 280.3h0M390 278.9h0M394.3 277.2h0M398.4 275.3h0M402.5 273.2h0M406.6 271h0M410.6 268.7h0M414.6 266.5h0M418.6 264.3h0M422.7 262.1h0M426.9 260.3h0M431.2 258.5h0M435.2 256.3h0M439.1 253.9h0M443 251.5h0M446.9 249h0M450.9 246.7h0M454.9 244.4h0M458.9 242.1h0M462.9 240h0M467 237.9h0M471.1 235.8h0M475.2 233.7h0M479.4 231.8h0M483.6 229.9h0M487.7 227.9h0M491.9 225.9h0M496 223.8h0M500.1 221.8h0M504.4 220.1h0M508.6 218.3h0M512.9 216.6h0M517.2 215.1h0M521.6 213.8h0M526 212.5h0M530.5 211.2h0M534.9 209.9h0M539.3 208.6h0M543.7 207.3h0M548 205.7h0M552.3 204.1h0M556.7 202.8h0M561.2 201.7h0M565.7 200.6h0M570.2 199.6h0M574.6 198.6h0M579.1 197.6h0M583.6 196.5h0M588 195.3h0M592.5 194.1h0M596.9 192.8h0M601.4 191.7h0M605.8 190.6h0M610.3 189.5h0M614.8 188.8h0M619.4 188.1h0M623.9 187.3h0M628.3 185.9h0M632.7 184.5h0M637.2 183.6h0M641.8 183h0M646.3 182.3h0M650.9 181.6h0M655.4 181h0M660 180.3h0M664.5 179.7h0M669.1 179.5h0M673.7 179.3h0M678.3 179h0M682.9 178.4h0M687.4 177.8h0M692 177.3h0M696.6 177h0M701.2 176.6h0M705.8 176.3h0M710.3 176h0M714.9 175.7h0M719.5 175.7h0M724.1 175.8h0M728.7 175.9h0M733.3 175.6h0M737.9 175.3h0M742.5 175.1h0M747.1 175h0M751.7 174.9h0M756.3 174.8h0M760.9 174.6h0M765.5 174.4h0M770.1 174.2h0M774.7 174.1h0M779.3 174.1h0M783.9 174.1h0M788.5 174.2h0M793.1 174.4h0M797.7 174.5h0M802.3 174.6h0M806.9 174.7h0M811.5 174.8h0M816.1 174.9h0M820.7 175h0M825.2 174.4h0M829.6 173.1h0M834 171.8h0M254.5 274.4h0M262.2 277.2h0M270.2 276.1h0M277.1 274.5h0M281.9 275h0M286.9 274.5h0M294.8 273h0M301.4 273.7h0M306.1 273.4h0M312.8 272.8h0M318.1 272.4h0M322.6 273h0M327.8 272.6h0M332.5 272.6h0M337.1 272.7h0M341.7 273h0M346.3 273.7h0M350.8 274.4h0M355.3 275.2h0M359.9 276h0M364.4 276.7h0M369 277.3h0M373.6 277.8h0M378.1 278h0M382.7 277.9h0M387.3 277.6h0M391.9 277h0M396.3 275.9h0M400.7 274.5h0M405 272.9h0M409.3 271.1h0M413.4 269.1h0M417.6 267.1h0M421.7 265h0M425.8 263h0M430.1 261.2h0M434.2 259.2h0M438.1 256.8h0M442 254.3h0M445.9 251.9h0M449.8 249.5h0M453.8 247.2h0M457.8 244.9h0M461.8 242.7h0M465.9 240.6h0M470 238.5h0M474.1 236.3h0M478.2 234.4h0M482.4 232.4h0M486.6 230.5h0M490.7 228.4h0M494.8 226.4h0M498.9 224.3h0M503.1 222.5h0M507.4 220.7h0M511.6 218.9h0M515.9 217.3h0M520.3 216h0M524.7 214.6h0M529.1 213.3h0M533.5 212h0M537.9 210.7h0M542.3 209.4h0M546.7 207.9h0M551 206.2h0M555.3 204.8h0M559.8 203.6h0M564.2 202.5h0M568.7 201.4h0M573.2 200.3h0M577.7 199.3h0M582.1 198.3h0M586.6 197h0M591 195.8h0M595.4 194.5h0M599.9 193.3h0M604.3 192.2h0M608.8 191h0M613.3 190.2h0M617.8 189.4h0M622.4 188.7h0M626.8 187.5h0M631.2 186.1h0M635.6 184.9h0M640.2 184.2h0M644.7 183.5h0M649.3 182.8h0M653.8 182.1h0M658.4 181.4h0M662.9 180.8h0M667.5 180.4h0M672.1 180.2h0M676.7 179.9h0M681.2 179.3h0M685.8 178.7h0M690.4 178.1h0M695 177.7h0M699.5 177.4h0M704.1 177h0M708.7 176.7h0M713.3 176.4h0M717.9 176.2h0M722.5 176.3h0M727.1 176.4h0M731.7 176.2h0M736.3 175.9h0M740.9 175.6h0M745.5 175.4h0M750.1 175.3h0M754.7 175.2h0M759.2 175h0M763.8 174.8h0M768.4 174.6h0M773 174.4h0M777.6 174.4h0M782.2 174.3h0M786.8 174.3h0M791.4 174.5h0M796 174.6h0M800.6 174.7h0M805.2 174.8h0M809.8 174.8h0M814.4 174.9h0M819 175h0M823.6 174.9h0M828 173.6h0M832.4 172.3h0M258 264.4h0M262.1 265.8h0M273.4 266.8h0M276.6 265h0M282.6 264.1h0M289.6 265.3h0M297 264.3h0M301.7 263.6h0M308.8 264.8h0M313.6 263.1h0M319.7 263.7h0M325.2 263.8h0M330.7 262.9h0M335.3 263.1h0M339.9 263.1h0M344.5 263.5h0M349 264.4h0M353.5 265.5h0M357.9 266.7h0M362.3 268h0M366.7 269.4h0M371.1 270.8h0M375.5 272.1h0M380 273.2h0M384.5 274.1h0M389 274.8h0M393.6 275.1h0M398.2 274.9h0M402.8 274.4h0M407.3 273.5h0M411.7 272.3h0M416.1 270.9h0M420.4 269.2h0M424.6 267.4h0M428.9 265.7h0M433.1 263.9h0M437 261.4h0M440.9 259h0M444.8 256.5h0M448.7 254.1h0M452.6 251.8h0M456.6 249.5h0M460.6 247.2h0M464.7 245h0M468.8 242.9h0M472.8 240.7h0M476.9 238.7h0M481.1 236.7h0M485.2 234.7h0M489.4 232.7h0M493.4 230.6h0M497.5 228.5h0M501.7 226.5h0M505.9 224.7h0M510.2 222.9h0M514.4 221.1h0M518.8 219.7h0M523.2 218.3h0M527.5 216.9h0M531.9 215.6h0M536.3 214.2h0M540.7 212.9h0M545.1 211.4h0M549.4 209.7h0M553.7 208h0M558.1 206.8h0M562.5 205.6h0M567 204.5h0M571.4 203.4h0M575.9 202.3h0M580.4 201.2h0M584.8 200h0M589.2 198.7h0M593.6 197.3h0M598.1 196.1h0M602.5 194.8h0M606.9 193.6h0M611.4 192.6h0M615.9 191.8h0M620.5 191h0M624.9 190h0M629.3 188.6h0M633.7 187.1h0M638.2 186.3h0M642.7 185.5h0M647.3 184.8h0M651.8 184.1h0M656.4 183.3h0M660.9 182.6h0M665.5 182h0M670.1 181.7h0M674.7 181.4h0M679.2 180.9h0M683.8 180.3h0M688.3 179.6h0M692.9 179.1h0M697.5 178.7h0M702.1 178.3h0M706.6 177.9h0M711.2 177.6h0M715.8 177.2h0M720.4 177.2h0M725 177.3h0M729.6 177.3h0M734.2 176.9h0M738.8 176.5h0M743.4 176.2h0M748 176.1h0M752.6 175.9h0M757.2 175.7h0M761.8 175.5h0M766.3 175.2h0M770.9 174.9h0M775.5 174.8h0M780.1 174.7h0M784.7 174.6h0M789.3 174.7h0M793.9 174.8h0M798.5 174.9h0M803.1 174.9h0M807.7 175h0M812.3 175.1h0M816.9 175.1h0M821.5 175.2h0M826 174.3h0M830.4 173h0M834.8 171.6h0M263.9 258.5h0M272 258.1h0M280.1 252.3h0M284.9 256.6h0M291.7 255.4h0M295.8 255.2h0M303.9 254.8h0M310 255.3h0M313 256.1h0M319.5 255.5h0M325.9 253.5h0M330.8 253.6h0M335.8 253.2h0M340.5 253.3h0M345.1 253.4h0M349.6 254h0M354.1 255h0M358.6 256.3h0M362.9 257.7h0M367.2 259.3h0M371.6 260.9h0M375.9 262.4h0M380.2 263.9h0M384.7 265.2h0M389.1 266.4h0M393.6 267.2h0M398.2 267.6h0M402.8 267.6h0M407.4 267.3h0M411.9 266.5h0M416.4 265.5h0M420.8 264.1h0M425.2 262.6h0M429.5 261.1h0M433.7 259.3h0M437.6 256.9h0M441.5 254.4h0M445.4 252h0M449.4 249.6h0M453.3 247.3h0M457.3 245h0M461.4 242.8h0M465.4 240.7h0M469.5 238.5h0M473.6 236.4h0M477.8 234.4h0M481.9 232.5h0M486.1 230.5h0M490.2 228.5h0M494.3 226.4h0M498.4 224.4h0M502.6 222.5h0M506.9 220.8h0M511.1 219h0M515.4 217.3h0M519.8 216h0M524.2 214.6h0M528.6 213.3h0M533 212h0M537.4 210.7h0M541.9 209.4h0M546.2 207.9h0M550.5 206.3h0M554.8 204.8h0M559.3 203.6h0M563.8 202.5h0M568.2 201.4h0M572.7 200.4h0M577.2 199.3h0M581.7 198.3h0M586.1 197.1h0M590.5 195.8h0M594.9 194.5h0M599.4 193.4h0M603.8 192.2h0M608.3 191h0M612.8 190.2h0M617.4 189.4h0M621.9 188.7h0M626.3 187.5h0M630.7 186.1h0M635.1 184.9h0M639.7 184.2h0M644.2 183.5h0M648.8 182.8h0M653.3 182.1h0M657.9 181.5h0M662.4 180.8h0M667 180.4h0M671.6 180.1h0M676.2 179.9h0M680.8 179.3h0M685.3 178.7h0M689.9 178.1h0M694.5 177.7h0M699.1 177.4h0M703.6 177h0M708.2 176.7h0M712.8 176.4h0M717.4 176.2h0M722 176.3h0M726.6 176.4h0M731.2 176.2h0M735.8 175.9h0M740.4 175.6h0M745 175.4h0M749.6 175.3h0M754.2 175.2h0M758.8 175h0M763.4 174.8h0M768 174.6h0M772.5 174.4h0M777.1 174.3h0M781.7 174.3h0M786.3 174.3h0M790.9 174.5h0M795.5 174.6h0M800.1 174.7h0M804.7 174.8h0M809.3 174.8h0M813.9 174.9h0M818.5 175h0M823.1 175h0M827.5 173.7h0M832 172.5h0M836.4 171.2h0M268.2 246.4h0M273.2 245.1h0M280.4 246.4h0M285.7 244.4h0M294.7 241.5h0M302 246.3h0M306.5 244.7h0M313.2 244.2h0M319.1 243.4h0M325 243.7h0M330.3 245.3h0M335.1 244h0M340 243.6h0M344.8 243.5h0M349.4 243.7h0M353.9 244.5h0M358.3 245.7h0M362.6 247.3h0M366.8 249.2h0M371 251.1h0M375.1 253.2h0M379.2 255.3h0M383.4 257.3h0M387.5 259.2h0M391.7 261h0M396.1 262.5h0M400.5 263.7h0M405.1 264.6h0M409.6 265h0M414.2 265h0M418.8 264.6h0M423.3 263.8h0M427.9 262.9h0M432.3 261.7h0M436.4 259.6h0M440.4 257.3h0M444.2 254.8h0M448.2 252.4h0M452.1 250.1h0M456.1 247.8h0M460.1 245.5h0M464.2 243.4h0M468.3 241.2h0M472.3 239.1h0M476.4 237h0M480.6 235.1h0M484.8 233.1h0M488.9 231.1h0M493 229h0M497.1 226.9h0M501.3 225h0M505.5 223.2h0M509.7 221.4h0M514 219.6h0M518.3 218.2h0M522.7 216.8h0M527.1 215.5h0M531.5 214.1h0M535.9 212.8h0M540.3 211.5h0M544.7 210.1h0M549 208.4h0M553.3 206.7h0M557.7 205.5h0M562.2 204.4h0M566.6 203.2h0M571.1 202.1h0M575.6 201.1h0M580 200h0M584.5 198.8h0M588.9 197.5h0M593.3 196.2h0M597.8 195h0M602.2 193.8h0M606.6 192.6h0M611.1 191.6h0M615.6 190.8h0M620.2 190h0M624.7 189.1h0M629.1 187.7h0M633.4 186.3h0M638 185.4h0M642.5 184.7h0M647 184h0M651.6 183.3h0M656.1 182.6h0M660.7 181.9h0M665.2 181.3h0M669.8 181h0M674.4 180.7h0M679 180.3h0M683.5 179.6h0M688.1 179h0M692.7 178.5h0M697.3 178.1h0M701.8 177.8h0M706.4 177.4h0M711 177h0M715.6 176.7h0M720.2 176.7h0M724.8 176.8h0M729.4 176.8h0M734 176.5h0M738.6 176.1h0M743.2 175.9h0M747.8 175.7h0M752.4 175.6h0M757 175.4h0M761.5 175.2h0M766.1 174.9h0M770.7 174.7h0M775.3 174.6h0M779.9 174.5h0M784.5 174.4h0M789.1 174.6h0M793.7 174.7h0M798.3 174.8h0M802.9 174.8h0M807.5 174.9h0M812.1 175h0M816.7 175.1h0M821.3 175.1h0M825.8 174.3h0M830.2 173h0M834.6 171.7h0M269.2 236.9h0M275.9 238.5h0M282.5 232.8h0M289.1 235.2h0M295.8 237.5h0M300.6 236.5h0M307.7 234.5h0M315.8 234.1h0M322.2 235.6h0M326.4 234.3h0M331.8 233h0M337 233.9h0M342.4 234.2h0M346.9 233.8h0M351.9 233.9h0M356.4 234.5h0M360.9 235.7h0M365.2 237.3h0M369.3 239.3h0M373.4 241.4h0M377.4 243.6h0M381.4 246h0M385.4 248.2h0M389.4 250.5h0M393.4 252.7h0M397.6 254.6h0M401.9 256.3h0M406.3 257.8h0M410.7 258.8h0M415.3 259.5h0M419.9 259.7h0M424.5 259.5h0M429.1 259.2h0M433.5 258.3h0M437.7 256.4h0M441.8 254.2h0M445.8 251.9h0M449.7 249.5h0M453.7 247.2h0M457.7 244.9h0M461.7 242.7h0M465.8 240.6h0M469.9 238.5h0M473.9 236.3h0M478.1 234.4h0M482.3 232.4h0M486.4 230.5h0M490.6 228.4h0M494.7 226.4h0M498.8 224.3h0M503 222.5h0M507.2 220.7h0M511.5 218.9h0M515.8 217.3h0M520.2 215.9h0M524.6 214.6h0M529 213.3h0M533.4 212h0M537.8 210.7h0M542.2 209.4h0M546.6 207.9h0M550.9 206.2h0M555.2 204.7h0M559.7 203.6h0M564.1 202.5h0M568.6 201.4h0M573.1 200.3h0M577.6 199.3h0M582 198.2h0M586.5 197h0M590.9 195.8h0M595.3 194.5h0M599.8 193.3h0M604.2 192.2h0M608.7 191h0M613.2 190.2h0M617.7 189.4h0M622.3 188.7h0M626.7 187.5h0M631.1 186.1h0M635.5 184.9h0M640.1 184.2h0M644.6 183.5h0M649.1 182.8h0M653.7 182.1h0M658.2 181.4h0M662.8 180.8h0M667.4 180.4h0M672 180.2h0M676.6 179.9h0M681.1 179.3h0M685.7 178.7h0M690.2 178.1h0M694.8 177.7h0M699.4 177.4h0M704 177h0M708.6 176.7h0M713.2 176.4h0M717.8 176.2h0M722.4 176.3h0M727 176.4h0M731.6 176.2h0M736.2 175.9h0M740.7 175.6h0M745.3 175.4h0M749.9 175.3h0M754.5 175.2h0M759.1 175h0M763.7 174.8h0M768.3 174.6h0M772.9 174.4h0M777.5 174.3h0M782.1 174.3h0M786.7 174.3h0M791.3 174.5h0M795.9 174.6h0M800.5 174.7h0M805.1 174.8h0M809.7 174.8h0M814.3 174.9h0M818.9 175h0M823.5 174.9h0M827.9 173.6h0M832.3 172.4h0M276.6 228.8h0M286 226.6h0M288.9 229.4h0M296.7 224.7h0M303.3 227.4h0M310.2 225.4h0M318.3 224.6h0M320.5 225.9h0M329.1 225.7h0M333.9 224.3h0M339.4 224.5h0M345.1 224.9h0M350.1 224.8h0M354.5 224.6h0M359.1 224.8h0M363.6 225.8h0M367.9 227.4h0M372.1 229.4h0M376.1 231.7h0M379.9 234.1h0M383.8 236.7h0M387.5 239.3h0M391.3 242h0M395.1 244.5h0M399 247h0M403 249.3h0M407 251.5h0M411.2 253.4h0M415.5 255h0M420 256.2h0M424.5 257h0M429.1 257.6h0M433.6 257.6h0M438.1 256.3h0M442.3 254.7h0M446.5 252.6h0M450.5 250.4h0M454.5 248.1h0M458.5 245.9h0M462.5 243.7h0M466.6 241.5h0M470.7 239.4h0M474.8 237.3h0M478.9 235.3h0M483.1 233.4h0M487.3 231.4h0M491.4 229.3h0M495.5 227.3h0M499.6 225.2h0M503.8 223.4h0M508.1 221.6h0M512.3 219.8h0M516.6 218.2h0M521 216.9h0M525.4 215.5h0M529.8 214.2h0M534.2 212.9h0M538.6 211.6h0M543 210.2h0M547.3 208.6h0M551.6 207h0M556 205.6h0M560.5 204.4h0M564.9 203.3h0M569.4 202.2h0M573.8 201.1h0M578.3 200h0M582.8 199h0M587.2 197.7h0M591.6 196.4h0M596 195.1h0M600.5 194h0M604.9 192.8h0M609.4 191.6h0M613.9 190.8h0M618.5 190h0M623 189.3h0M627.4 187.9h0M631.8 186.5h0M636.2 185.4h0M640.8 184.7h0M645.3 184h0M649.9 183.3h0M654.4 182.6h0M659 181.9h0M663.5 181.2h0M668.1 180.9h0M672.7 180.6h0M677.3 180.3h0M681.8 179.7h0M686.4 179.1h0M690.9 178.5h0M695.5 178.1h0M700.1 177.7h0M704.7 177.4h0M709.3 177h0M713.9 176.7h0M718.5 176.6h0M723.1 176.7h0M727.7 176.7h0M732.3 176.5h0M736.8 176.2h0M741.4 175.8h0M746 175.7h0M750.6 175.6h0M755.2 175.4h0M759.8 175.2h0M764.4 175h0M769 174.7h0M773.6 174.6h0M778.2 174.5h0M782.8 174.4h0M787.4 174.5h0M792 174.6h0M796.6 174.7h0M801.2 174.8h0M805.8 174.8h0M810.4 174.9h0M815 175h0M819.6 175.1h0M824.1 174.8h0M828.6 173.5h0M833 172.2h0M278.2 220.1h0M289.6 218.2h0M294.1 220.2h0M303.1 217.4h0M309.4 214.5h0M316.2 218.8h0M322.3 216h0M328.9 215h0M333 216.3h0M339.4 216.1h0M343.6 216h0M349.7 215.3h0M354.9 215.4h0M359.4 215.3h0M364 215.4h0M368.5 216.5h0M372.7 218.3h0M376.8 220.5h0M380.6 223h0M384.3 225.7h0M387.9 228.6h0M391.5 231.5h0M395 234.4h0M398.6 237.3h0M402.2 240.2h0M405.8 243h0M409.5 245.7h0M413.4 248.3h0M417.3 250.6h0M421.5 252.6h0M425.7 254.5h0M430 256h0M434.5 256.8h0M439.1 256.4h0M443.6 255.5h0M448 254h0M452.2 252.2h0M456.3 250.1h0M460.3 247.8h0M464.3 245.7h0M468.4 243.5h0M472.5 241.4h0M476.6 239.3h0M480.7 237.3h0M484.9 235.3h0M489 233.3h0M493.1 231.2h0M497.2 229h0M501.3 227.1h0M505.6 225.3h0M509.8 223.4h0M514 221.6h0M518.4 220.2h0M522.8 218.8h0M527.1 217.4h0M531.5 216.1h0M535.9 214.7h0M540.3 213.3h0M544.7 211.9h0M549 210.2h0M553.2 208.5h0M557.7 207.3h0M562.1 206.1h0M566.6 204.9h0M571 203.8h0M575.5 202.7h0M580 201.6h0M584.4 200.4h0M588.8 199.1h0M593.2 197.7h0M597.6 196.4h0M602.1 195.2h0M606.5 194h0M611 192.9h0M615.5 192.1h0M620 191.3h0M624.5 190.4h0M628.9 188.9h0M633.3 187.5h0M637.8 186.6h0M642.3 185.8h0M646.8 185.1h0M651.4 184.3h0M655.9 183.6h0M660.5 182.9h0M665 182.2h0M669.6 181.9h0M674.2 181.6h0M678.8 181.2h0M683.3 180.5h0M687.9 179.8h0M692.4 179.3h0M697 178.9h0M701.6 178.5h0M706.2 178.1h0M710.8 177.7h0M715.3 177.3h0M719.9 177.3h0M724.5 177.4h0M729.1 177.4h0M733.7 177h0M738.3 176.7h0M742.9 176.3h0M747.5 176.2h0M752.1 176h0M756.7 175.9h0M761.3 175.6h0M765.9 175.3h0M770.5 175h0M775.1 174.9h0M779.7 174.8h0M784.3 174.7h0M788.9 174.7h0M793.5 174.8h0M798.1 174.9h0M802.7 175h0M807.3 175h0M811.9 175.1h0M816.5 175.1h0M821.1 175.2h0M825.5 174.4h0M830 173.1h0M834.4 171.8h0M291.6 211.6h0M297.5 205.7h0M305.6 210.3h0M308.5 207.3h0M318.3 210.6h0M324.8 205.7h0M329.3 205.9h0M335.5 207.4h0M341.8 206.7h0M346.5 207.6h0M352.4 205.7h0M357.6 206.3h0M362.5 206h0M367.3 205.9h0M371.8 206.6h0M376.2 208.2h0M380.3 210.3h0M384.2 212.7h0M387.9 215.4h0M391.5 218.3h0M395 221.2h0M398.6 224.2h0M402.1 227.2h0M405.6 230.1h0M409.1 233h0M412.8 235.9h0M416.5 238.6h0M420.3 241.1h0M424.3 243.4h0M428.3 245.6h0M432.5 247.5h0M437 248.4h0M441.6 248.5h0M446.2 248h0M450.7 247h0M455 245.5h0M459.2 243.7h0M463.3 241.6h0M467.4 239.5h0M471.5 237.4h0M475.6 235.3h0M479.8 233.3h0M484 231.4h0M488.1 229.4h0M492.2 227.4h0M496.3 225.3h0M500.5 223.3h0M504.7 221.5h0M509 219.8h0M513.2 218h0M517.6 216.5h0M522 215.2h0M526.4 213.9h0M530.8 212.6h0M535.2 211.3h0M539.6 210h0M544 208.6h0M548.3 207h0M552.6 205.4h0M557 204.1h0M561.5 203h0M565.9 201.8h0M570.4 200.8h0M574.9 199.7h0M579.4 198.7h0M583.9 197.6h0M588.3 196.4h0M592.7 195.1h0M597.1 193.9h0M601.6 192.7h0M606 191.5h0M610.5 190.5h0M615 189.7h0M619.6 189h0M624.1 188.1h0M628.5 186.8h0M632.9 185.4h0M637.4 184.5h0M641.9 183.8h0M646.5 183.1h0M651 182.4h0M655.6 181.7h0M660.1 181.1h0M664.7 180.4h0M669.3 180.2h0M673.9 180h0M678.4 179.6h0M683 179h0M687.6 178.3h0M692.1 177.9h0M696.7 177.5h0M701.3 177.2h0M705.9 176.8h0M710.5 176.5h0M715.1 176.2h0M719.7 176.2h0M724.3 176.3h0M728.9 176.3h0M733.5 176h0M738 175.7h0M742.6 175.5h0M747.2 175.3h0M751.8 175.2h0M756.4 175.1h0M761 174.9h0M765.6 174.7h0M770.2 174.4h0M774.8 174.4h0M779.4 174.3h0M784 174.2h0M788.6 174.4h0M793.2 174.5h0M797.8 174.6h0M802.4 174.7h0M807 174.8h0M811.6 174.9h0M816.2 175h0M820.8 175.1h0M825.3 174.4h0M829.7 173.1h0M834.1 171.8h0M287.4 202.4h0M298.9 197.7h0M301.2 201.3h0M309.9 198.6h0M319.3 199.7h0M321.4 198.7h0M329.6 199.1h0M334.1 197.5h0M340.7 197.6h0M346.3 197.8h0M351.9 197.7h0M358.2 196.9h0M363.1 197.1h0M367.7 196.5h0M372.4 196.6h0M376.9 197.3h0M381.2 198.9h0M385.3 201.1h0M389.1 203.7h0M392.7 206.5h0M396.2 209.5h0M399.6 212.6h0M403 215.7h0M406.4 218.9h0M409.7 222h0M413.1 225.1h0M416.5 228.2h0M420 231.2h0M423.6 234h0M427.3 236.8h0M431.1 239.5h0M435.1 241.6h0M439.5 243h0M444 243.9h0M448.6 244.1h0M453.2 243.7h0M457.7 242.8h0M462.1 241.3h0M466.3 239.5h0M470.4 237.4h0M474.5 235.3h0M478.6 233.4h0M482.8 231.4h0M487 229.5h0M491.1 227.4h0M495.2 225.4h0M499.3 223.3h0M503.6 221.5h0M507.8 219.8h0M512.1 218h0M516.4 216.4h0M520.8 215.1h0M525.2 213.8h0M529.6 212.5h0M534 211.2h0M538.4 209.9h0M542.8 208.6h0M547.2 207h0M551.5 205.4h0M555.8 204h0M560.3 202.9h0M564.8 201.8h0M569.2 200.7h0M573.7 199.7h0M578.2 198.6h0M582.7 197.6h0M587.1 196.4h0M591.5 195.1h0M596 193.8h0M600.4 192.7h0M604.9 191.5h0M609.3 190.4h0M613.9 189.6h0M618.4 188.9h0M622.9 188.1h0M627.4 186.9h0M631.7 185.5h0M636.2 184.4h0M640.7 183.7h0M645.3 183h0M649.8 182.3h0M654.4 181.7h0M658.9 181h0M663.5 180.4h0M668.1 180.1h0M672.7 179.8h0M677.3 179.6h0M681.8 178.9h0M686.4 178.3h0M691 177.8h0M695.5 177.4h0M700.1 177.1h0M704.7 176.7h0M709.3 176.4h0M713.9 176.1h0M718.5 176h0M723.1 176.1h0M727.7 176.2h0M732.3 176h0M736.9 175.7h0M741.5 175.4h0M746.1 175.3h0M750.7 175.2h0M755.3 175h0M759.9 174.9h0M764.4 174.6h0M769 174.4h0M773.6 174.3h0M778.2 174.3h0M782.8 174.2h0M787.4 174.3h0M792 174.4h0M796.6 174.6h0M801.2 174.7h0M805.8 174.7h0M810.4 174.8h0M815 174.9h0M819.6 175h0M824.2 174.7h0M828.6 173.4h0M833 172.1h0M294.1 186.4h0M302.6 193.3h0M306.9 185.8h0M312.1 188.3h0M324.8 187.1h0M331.4 187.2h0M335.1 186.6h0M341.8 188.1h0M347.9 188.3h0M352.8 188.5h0M358.1 188h0M363 187.5h0M368 187.8h0M373 187.1h0M377.8 187.2h0M382.3 188h0M386.5 189.8h0M390.4 192.2h0M394.1 194.9h0M397.6 197.9h0M401 201h0M404.3 204.3h0M407.5 207.6h0M410.7 210.9h0M413.8 214.2h0M417 217.6h0M420.2 220.9h0M423.4 224.1h0M426.7 227.4h0M430 230.5h0M433.5 233.5h0M437.4 236h0M441.5 238.2h0M445.7 239.8h0M450.2 241h0M454.8 241.6h0M459.3 241.4h0M463.9 240.7h0M468.3 239.4h0M472.5 237.5h0M476.6 235.5h0M480.8 233.5h0M484.9 231.6h0M489.1 229.6h0M493.2 227.5h0M497.3 225.4h0M501.5 223.5h0M505.7 221.7h0M509.9 219.9h0M514.2 218.2h0M518.6 216.8h0M523 215.5h0M527.4 214.1h0M531.8 212.8h0M536.2 211.5h0M540.6 210.2h0M545 208.8h0M549.3 207.1h0M553.6 205.5h0M558 204.3h0M562.5 203.2h0M566.9 202.1h0M571.4 201h0M575.9 200h0M580.4 198.9h0M584.8 197.8h0M589.2 196.5h0M593.7 195.2h0M598.1 194h0M602.6 192.8h0M607 191.7h0M611.5 190.7h0M616 189.9h0M620.6 189.2h0M625.1 188.2h0M629.4 186.8h0M633.8 185.4h0M638.4 184.6h0M642.9 183.9h0M647.4 183.2h0M652 182.5h0M656.5 181.9h0M661.1 181.2h0M665.7 180.7h0M670.3 180.4h0M674.8 180.2h0M679.4 179.7h0M684 179.1h0M688.5 178.4h0M693.1 178h0M697.7 177.6h0M702.3 177.3h0M706.9 176.9h0M711.5 176.6h0M716 176.3h0M720.6 176.4h0M725.2 176.5h0M729.8 176.4h0M734.4 176.1h0M739 175.8h0M743.6 175.6h0M748.2 175.4h0M752.8 175.3h0M757.4 175.2h0M762 174.9h0M766.6 174.7h0M771.2 174.5h0M775.8 174.4h0M780.4 174.4h0M785 174.3h0M789.6 174.5h0M794.2 174.6h0M798.8 174.7h0M803.4 174.8h0M808 174.8h0M812.6 174.9h0M817.2 175h0M821.8 175.1h0M826.2 174.1h0M830.7 172.8h0M835.1 171.5h0M297.1 181h0M304.3 183.2h0M313.6 180.5h0M320.7 181.6h0M325.7 179.3h0M333.3 177.1h0M338.4 178.5h0M346.1 177.7h0M351.1 179.2h0M355.9 180.1h0M360.9 177.9h0M368.4 179.5h0M372.6 178.4h0M377.4 178h0M382.2 177.9h0M386.8 178.6h0M391 180.4h0M394.9 182.8h0M398.4 185.7h0M401.8 188.9h0M405 192.2h0M408.1 195.6h0M411.1 199.1h0M414 202.6h0M416.9 206.2h0M419.8 209.8h0M422.7 213.4h0M425.6 216.9h0M428.5 220.5h0M431.4 224h0M434.5 227.4h0M437.9 230.6h0M441.4 233.6h0M445.1 236.3h0M449 238.7h0M453.1 240.8h0M457.5 242.2h0M462 243.1h0M466.6 243.2h0M471.1 242.4h0M475.5 241h0M479.6 239.1h0M483.8 237h0M487.9 235h0M492 232.9h0M496.1 230.8h0M500.2 228.7h0M504.4 226.9h0M508.6 225h0M512.8 223.2h0M517.1 221.6h0M521.5 220.2h0M525.9 218.9h0M530.3 217.5h0M534.7 216.1h0M539.1 214.7h0M543.5 213.4h0M547.8 211.7h0M552 209.9h0M556.4 208.5h0M560.8 207.3h0M565.3 206.1h0M569.7 205h0M574.2 203.8h0M578.6 202.7h0M583.1 201.6h0M587.5 200.3h0M591.9 198.9h0M596.3 197.6h0M600.7 196.3h0M605.2 195.1h0M609.6 193.9h0M614.1 193h0M618.6 192.2h0M623.2 191.4h0M627.6 190h0M631.9 188.6h0M636.4 187.4h0M640.9 186.7h0M645.4 185.9h0M650 185.1h0M654.5 184.4h0M659 183.6h0M663.6 182.9h0M668.2 182.5h0M672.8 182.2h0M677.3 181.8h0M681.9 181.1h0M686.4 180.4h0M691 179.8h0M695.6 179.4h0M700.2 179h0M704.7 178.6h0M709.3 178.2h0M713.9 177.8h0M718.5 177.6h0M723.1 177.7h0M727.7 177.8h0M732.3 177.4h0M736.9 177.1h0M741.5 176.7h0M746 176.5h0M750.6 176.3h0M755.2 176.1h0M759.8 175.9h0M764.4 175.5h0M769 175.2h0M773.6 175.1h0M778.2 174.9h0M782.8 174.8h0M787.4 174.8h0M792 174.9h0M796.6 175h0M801.2 175h0M805.8 175.1h0M810.4 175.1h0M815 175.2h0M819.6 175.2h0M824.1 174.9h0M828.6 173.5h0M833 172.2h0M307.4 169.8h0M308.8 171.8h0M319 173.8h0M324.3 173.6h0M334.4 171.2h0M339.9 171.7h0M344.4 170.9h0M352 168.1h0M355.9 169.6h0M362.9 168.7h0M369 169.3h0M373.9 169h0M378.5 169.1h0M383.5 168.9h0M388.2 168.6h0M392.7 169.5h0M396.8 171.5h0M400.6 174.1h0M404.1 177.1h0M407.3 180.4h0M410.4 183.8h0M413.3 187.3h0M416.2 190.9h0M419 194.6h0M421.8 198.2h0M424.5 201.9h0M427.3 205.7h0M430 209.4h0M432.7 213.1h0M435.6 216.6h0M438.6 220.1h0M441.8 223.5h0M445 226.7h0M448.5 229.8h0M452 232.7h0M455.9 235.2h0M459.9 237.3h0M464.2 239h0M468.7 240h0M473.3 240h0M477.8 239.3h0M482.2 237.8h0M486.3 235.8h0M490.4 233.7h0M494.5 231.6h0M498.6 229.5h0M502.8 227.6h0M507 225.7h0M511.2 223.9h0M515.5 222.1h0M519.8 220.8h0M524.2 219.4h0M528.6 218h0M533 216.6h0M537.4 215.2h0M541.8 213.9h0M546.1 212.3h0M550.4 210.6h0M554.7 209h0M559.1 207.8h0M563.6 206.6h0M568 205.4h0M572.5 204.3h0M576.9 203.1h0M581.4 202h0M585.8 200.8h0M590.2 199.4h0M594.6 198.1h0M599 196.8h0M603.5 195.6h0M607.9 194.3h0M612.4 193.3h0M616.9 192.5h0M621.4 191.7h0M625.9 190.6h0M630.2 189.1h0M634.6 187.7h0M639.2 186.9h0M643.7 186.2h0M648.2 185.4h0M652.8 184.6h0M657.3 183.9h0M661.8 183.2h0M666.4 182.6h0M671 182.3h0M675.6 182h0M680.1 181.4h0M684.7 180.7h0M689.2 180h0M693.8 179.6h0M698.4 179.1h0M703 178.7h0M707.6 178.3h0M712.1 177.9h0M716.7 177.6h0M721.3 177.7h0M725.9 177.7h0M730.5 177.6h0M735.1 177.2h0M739.7 176.8h0M744.3 176.5h0M748.9 176.4h0M753.5 176.2h0M758.1 176h0M762.7 175.7h0M767.2 175.4h0M771.8 175.1h0M776.4 175h0M781 174.9h0M785.6 174.8h0M790.2 174.9h0M794.8 175h0M799.4 175h0M804 175h0M808.6 175.1h0M813.2 175.1h0M817.8 175.2h0M822.4 175.2h0M826.9 174h0M831.3 172.7h0M835.7 171.4h0M315.3 162.8h0M320.3 162.4h0M330.8 161.2h0M337.7 162.2h0M344.3 162h0M349.1 160.1h0M357 158.9h0M360.9 160.4h0M364.8 159.5h0M371 160.4h0M376.6 159.7h0M380.8 159.2h0M386.7 159.4h0M391.6 159.4h0M396.3 159.7h0M400.6 161.3h0M404.5 163.7h0M408 166.6h0M411.3 169.8h0M414.4 173.2h0M417.4 176.7h0M420.3 180.3h0M423.1 183.9h0M425.8 187.6h0M428.5 191.3h0M431.2 195.1h0M433.9 198.8h0M436.7 202.4h0M439.6 206h0M442.5 209.6h0M445.6 213h0M448.7 216.4h0M452 219.6h0M455.4 222.7h0M459 225.5h0M462.8 228.1h0M466.9 230.2h0M471.2 231.8h0M475.8 232.6h0M480.4 232.6h0M484.9 231.7h0M489.1 229.9h0M493.2 227.8h0M497.3 225.7h0M501.5 223.8h0M505.7 222h0M510 220.2h0M514.2 218.5h0M518.6 217.1h0M523 215.7h0M527.4 214.4h0M531.8 213.1h0M536.2 211.8h0M540.6 210.5h0M545 209.1h0M549.3 207.4h0M553.6 205.8h0M558 204.6h0M562.5 203.4h0M566.9 202.3h0M571.4 201.2h0M575.9 200.2h0M580.4 199.1h0M584.8 198h0M589.2 196.7h0M593.7 195.4h0M598.1 194.2h0M602.5 193h0M607 191.9h0M611.5 190.9h0M616 190.1h0M620.5 189.4h0M625 188.4h0M629.4 187h0M633.8 185.6h0M638.3 184.8h0M642.9 184.1h0M647.4 183.4h0M652 182.7h0M656.5 182h0M661.1 181.3h0M665.6 180.8h0M670.2 180.5h0M674.8 180.3h0M679.4 179.8h0M683.9 179.2h0M688.5 178.5h0M693.1 178.1h0M697.7 177.7h0M702.2 177.4h0M706.8 177h0M711.4 176.7h0M716 176.4h0M720.6 176.4h0M725.2 176.5h0M729.8 176.5h0M734.4 176.2h0M739 175.9h0M743.6 175.6h0M748.2 175.5h0M752.8 175.4h0M757.4 175.2h0M762 175h0M766.6 174.7h0M771.2 174.5h0M775.8 174.5h0M780.4 174.4h0M785 174.3h0M789.5 174.5h0M794.1 174.6h0M798.7 174.7h0M803.3 174.8h0M807.9 174.8h0M812.5 174.9h0M817.1 175h0M821.7 175.1h0M826.2 174.2h0M830.6 172.9h0M835 171.6h0M313.8 150.4h0M321.4 152.3h0M325.8 154.8h0M337.8 156.5h0M343.5 149.9h0M351.9 151.2h0M356.6 151.6h0M363.3 151.4h0M369 150.4h0M374.3 150.6h0M379.8 151h0M385.3 150.1h0M390 150.4h0M394.8 150.2h0M399.5 150.2h0M404 151.2h0M408.1 153.3h0M411.8 156h0M415.1 159.2h0M418.3 162.6h0M421.2 166.1h0M424.1 169.7h0M426.8 173.4h0M429.5 177.1h0M432.1 180.9h0M434.7 184.7h0M437.3 188.5h0M440 192.2h0M442.7 195.9h0M445.5 199.6h0M448.3 203.3h0M451.1 206.9h0M454.1 210.4h0M457.2 213.8h0M460.4 217.1h0M463.8 220.2h0M467.4 223.1h0M471.2 225.6h0M475.4 227.6h0M479.7 229.1h0M484.3 229.7h0M488.8 229.2h0M493.2 227.7h0M497.3 225.6h0M501.4 223.7h0M505.7 221.9h0M509.9 220.1h0M514.2 218.4h0M518.5 217h0M523 215.6h0M527.4 214.3h0M531.8 213h0M536.2 211.7h0M540.6 210.4h0M545 209h0M549.3 207.3h0M553.5 205.7h0M558 204.5h0M562.4 203.4h0M566.9 202.2h0M571.4 201.2h0M575.9 200.1h0M580.3 199.1h0M584.8 197.9h0M589.2 196.6h0M593.6 195.4h0M598.1 194.1h0M602.5 193h0M607 191.8h0M611.4 190.8h0M616 190h0M620.5 189.3h0M625 188.3h0M629.4 186.9h0M633.8 185.5h0M638.3 184.7h0M642.9 184h0M647.4 183.3h0M651.9 182.6h0M656.5 182h0M661 181.3h0M665.6 180.7h0M670.2 180.5h0M674.8 180.2h0M679.4 179.8h0M683.9 179.1h0M688.5 178.5h0M693.1 178.1h0M697.6 177.7h0M702.2 177.3h0M706.8 177h0M711.4 176.7h0M716 176.3h0M720.6 176.4h0M725.2 176.5h0M729.8 176.5h0M734.4 176.2h0M739 175.8h0M743.6 175.6h0M748.2 175.5h0M752.8 175.4h0M757.4 175.2h0M761.9 175h0M766.5 174.7h0M771.1 174.5h0M775.7 174.4h0M780.3 174.4h0M784.9 174.3h0M789.5 174.5h0M794.1 174.6h0M798.7 174.7h0M803.3 174.8h0M807.9 174.8h0M812.5 174.9h0M817.1 175h0M821.7 175.1h0M826.2 174.2h0M830.6 172.9h0M835 171.6h0M322.8 146.5h0M325.1 143.6h0M331.8 143.7h0M340.1 143.7h0M344.5 145.3h0M354.1 142.1h0M360.3 141.4h0M367.1 142.4h0M371.6 142.5h0M377.5 142h0M383.2 142.8h0M389.1 141.9h0M394.1 141.9h0M399.2 141.5h0M403.8 141.3h0M408.3 141.7h0M412.5 143.6h0M416.3 146.2h0M419.6 149.4h0M422.7 152.8h0M425.6 156.4h0M428.3 160.1h0M430.9 163.9h0M433.5 167.7h0M436 171.6h0M438.5 175.4h0M440.9 179.3h0M443.4 183.2h0M445.9 187h0M448.4 190.9h0M450.9 194.8h0M453.5 198.6h0M456.1 202.4h0M458.8 206.1h0M461.6 209.7h0M464.5 213.3h0M467.5 216.8h0M470.7 220.1h0M474.1 223.2h0M477.7 226h0M481.7 228.4h0M485.9 230.1h0M490.4 230.8h0M495 230.4h0M499.3 228.8h0M503.5 227h0M507.8 225.2h0M512 223.3h0M516.3 221.7h0M520.7 220.3h0M525 218.9h0M529.4 217.5h0M533.8 216.1h0M538.2 214.8h0M542.6 213.4h0M546.9 211.8h0M551.2 210.1h0M555.5 208.6h0M559.9 207.4h0M564.4 206.2h0M568.8 205h0M573.3 203.9h0M577.8 202.7h0M582.2 201.6h0M586.6 200.3h0M591 199h0M595.4 197.6h0M599.9 196.4h0M604.3 195.2h0M608.7 193.9h0M613.2 193h0M617.8 192.2h0M622.3 191.4h0M626.7 190.1h0M631.1 188.7h0M635.5 187.4h0M640 186.7h0M644.6 185.9h0M649.1 185.1h0M653.6 184.4h0M658.2 183.7h0M662.7 182.9h0M667.3 182.5h0M671.9 182.2h0M676.5 181.8h0M681 181.2h0M685.6 180.5h0M690.1 179.8h0M694.7 179.4h0M699.3 179h0M703.9 178.6h0M708.4 178.2h0M713 177.8h0M717.6 177.6h0M722.2 177.6h0M726.8 177.7h0M731.4 177.5h0M736 177.1h0M740.6 176.7h0M745.2 176.4h0M749.8 176.3h0M754.4 176.1h0M759 175.9h0M763.5 175.6h0M768.1 175.3h0M772.7 175h0M777.3 174.9h0M781.9 174.8h0M786.5 174.8h0M791.1 174.9h0M795.7 174.9h0M800.3 175h0M804.9 175h0M809.5 175.1h0M814.1 175.1h0M818.7 175.2h0M823.3 175.1h0M827.7 173.8h0M832.1 172.5h0M325.6 128.6h0M327 137h0M344.7 135.9h0M348.9 135h0M354.4 133.8h0M358.3 134h0M367.8 133.2h0M373.5 134.4h0M377.3 133.5h0M384.4 134h0M390.4 133.2h0M394.5 133.1h0M400.2 132.3h0M405.3 132.5h0M410.2 132.4h0M414.8 132.9h0M418.9 134.8h0M422.6 137.5h0M425.9 140.7h0M429 144.2h0M431.8 147.8h0M434.5 151.5h0M437.2 155.3h0M439.7 159.1h0M442.2 162.9h0M444.7 166.8h0M447.2 170.7h0M449.6 174.6h0M452.1 178.5h0M454.6 182.4h0M457.1 186.2h0M459.6 190.1h0M462.2 193.9h0M464.8 197.6h0M467.6 201.3h0M470.4 204.9h0M473.4 208.4h0M476.5 211.8h0M479.8 215h0M483.3 218h0M487.2 220.5h0M491.4 222.3h0M495.9 223.2h0M500.5 223h0M505 221.9h0M509.2 220.2h0M513.5 218.4h0M517.8 216.9h0M522.2 215.6h0M526.6 214.3h0M531 213h0M535.4 211.7h0M539.8 210.4h0M544.2 209h0M548.5 207.4h0M552.8 205.7h0M557.3 204.5h0M561.7 203.3h0M566.2 202.2h0M570.6 201.1h0M575.1 200.1h0M579.6 199h0M584.1 197.9h0M588.5 196.7h0M592.9 195.4h0M597.3 194.2h0M601.8 193h0M606.2 191.8h0M610.7 190.8h0M615.3 190h0M619.8 189.3h0M624.3 188.4h0M628.7 187h0M633.1 185.6h0M637.6 184.7h0M642.1 184h0M646.7 183.3h0M651.2 182.6h0M655.8 182h0M660.3 181.3h0M664.9 180.7h0M669.5 180.4h0M674.1 180.2h0M678.6 179.8h0M683.2 179.1h0M687.8 178.5h0M692.3 178h0M696.9 177.7h0M701.5 177.3h0M706.1 177h0M710.7 176.6h0M715.3 176.3h0M719.9 176.3h0M724.5 176.4h0M729.1 176.5h0M733.6 176.2h0M738.2 175.8h0M742.8 175.6h0M747.4 175.4h0M752 175.3h0M756.6 175.2h0M761.2 175h0M765.8 174.7h0M770.4 174.5h0M775 174.4h0M779.6 174.4h0M784.2 174.3h0M788.8 174.4h0M793.4 174.6h0M798 174.7h0M802.6 174.7h0M807.2 174.8h0M811.8 174.9h0M816.4 175h0M821 175.1h0M825.5 174.4h0M829.9 173.1h0M834.3 171.8h0M335.1 128.2h0M344.8 130.1h0M345.3 128.3h0M355 127.4h0M358.9 126.5h0M366.9 127.4h0M373.4 125.3h0M380.5 124h0M386.3 126.1h0M390.9 124h0M395.9 123.8h0M401.5 123.6h0M407 123.7h0M411.5 123.4h0M416.1 123.3h0M420.7 123.9h0M424.8 125.9h0M428.4 128.7h0M431.7 132h0M434.6 135.5h0M437.4 139.2h0M440.1 142.9h0M442.6 146.7h0M445.1 150.6h0M447.5 154.5h0M449.9 158.5h0M452.2 162.4h0M454.6 166.4h0M456.9 170.4h0M459.2 174.3h0M461.6 178.3h0M463.9 182.2h0M466.3 186.1h0M468.8 190h0M471.3 193.9h0M473.9 197.7h0M476.6 201.4h0M479.4 205.1h0M482.4 208.6h0M485.5 212h0M488.9 215.1h0M492.6 217.8h0M496.7 219.9h0M501.1 221.2h0M505.6 221.7h0M510.2 220.8h0M514.4 219.1h0M518.8 217.7h0M523.2 216.4h0M527.6 215.1h0M532 213.7h0M536.4 212.4h0M540.8 211.1h0M545.2 209.7h0M549.5 208h0M553.8 206.3h0M558.2 205.2h0M562.7 204h0M567.1 202.9h0M571.6 201.8h0M576.1 200.7h0M580.6 199.7h0M585 198.5h0M589.4 197.2h0M593.8 195.9h0M598.3 194.7h0M602.7 193.5h0M607.2 192.3h0M611.6 191.3h0M616.2 190.5h0M620.7 189.8h0M625.2 188.8h0M629.6 187.4h0M633.9 186h0M638.5 185.2h0M643 184.5h0M647.6 183.8h0M652.1 183.1h0M656.7 182.4h0M661.2 181.7h0M665.8 181.1h0M670.4 180.9h0M675 180.6h0M679.5 180.1h0M684.1 179.5h0M688.6 178.8h0M693.2 178.4h0M697.8 178h0M702.4 177.6h0M707 177.3h0M711.6 176.9h0M716.1 176.6h0M720.7 176.7h0M725.3 176.8h0M729.9 176.7h0M734.5 176.4h0M739.1 176h0M743.7 175.8h0M748.3 175.7h0M752.9 175.5h0M757.5 175.4h0M762.1 175.1h0M766.7 174.9h0M771.3 174.6h0M775.9 174.6h0M780.5 174.5h0M785.1 174.4h0M789.7 174.6h0M794.3 174.7h0M798.9 174.8h0M803.5 174.8h0M808.1 174.9h0M812.7 175h0M817.3 175h0M821.9 175.1h0M826.3 174.1h0M830.7 172.8h0M835.1 171.5h0M334.7 115.4h0M340.3 114.6h0M349.6 120.7h0M355.3 119.4h0M362.5 118.1h0M367.5 117h0M377 117.6h0M380.3 115.3h0M386.9 116h0M392.8 113.9h0M400.3 115.3h0M405.4 115h0M410.3 115.2h0M415.5 114.1h0M420.3 114.3h0M425.1 114.5h0M429.3 116.1h0M433.1 118.7h0M436.4 121.9h0M439.4 125.4h0M442.2 129h0M444.9 132.8h0M447.4 136.6h0M449.8 140.5h0M452.2 144.5h0M454.5 148.4h0M456.8 152.4h0M459.1 156.4h0M461.3 160.5h0M463.6 164.5h0M465.8 168.5h0M468.1 172.5h0M470.4 176.5h0M472.7 180.4h0M475.1 184.4h0M477.5 188.3h0M480 192.2h0M482.5 196h0M485.2 199.7h0M488.1 203.3h0M491.1 206.8h0M494.4 210h0M498 212.9h0M501.8 215.4h0M506 217.3h0M510.5 218.2h0M515.1 217.7h0M519.5 216.6h0M523.9 215.3h0M528.3 213.9h0M532.7 212.6h0M537.2 211.3h0M541.6 210h0M545.9 208.5h0M550.2 206.9h0M554.5 205.3h0M559 204.2h0M563.4 203h0M567.9 201.9h0M572.4 200.9h0M576.9 199.8h0M581.3 198.8h0M585.8 197.6h0M590.2 196.3h0M594.6 195h0M599.1 193.8h0M603.5 192.7h0M608 191.5h0M612.5 190.6h0M617 189.8h0M621.5 189.1h0M626 188h0M630.4 186.6h0M634.8 185.2h0M639.3 184.5h0M643.9 183.8h0M648.4 183.1h0M653 182.4h0M657.5 181.8h0M662.1 181.1h0M666.6 180.7h0M671.2 180.4h0M675.8 180.1h0M680.4 179.6h0M684.9 179h0M689.5 178.3h0M694.1 178h0M698.7 177.6h0M703.3 177.2h0M707.8 176.9h0M712.4 176.6h0M717 176.3h0M721.6 176.4h0M726.2 176.5h0M730.8 176.4h0M735.4 176.1h0M740 175.7h0M744.6 175.6h0M749.2 175.4h0M753.8 175.3h0M758.4 175.1h0M763 174.9h0M767.6 174.7h0M772.2 174.5h0M776.8 174.4h0M781.4 174.3h0M786 174.4h0M790.6 174.5h0M795.2 174.6h0M799.8 174.7h0M804.4 174.8h0M809 174.9h0M813.6 174.9h0M818.2 175h0M822.8 175.1h0M827.2 173.9h0M831.6 172.6h0M836 171.3h0M346.2 108.6h0M350.1 108.3h0M356.4 111.5h0M366.1 110h0M370 106.7h0M380.4 108.9h0M385.4 106.3h0M390.8 108.2h0M397.5 106.9h0M403.7 105.8h0M408.1 106.9h0M414.7 106.4h0M419.5 106.4h0M424.2 106.6h0M428.9 106.4h0M433.5 106.7h0M437.6 108.6h0M441.2 111.5h0M444.4 114.8h0M447.3 118.4h0M450 122.1h0M452.5 125.9h0M454.9 129.8h0M457.3 133.8h0M459.6 137.8h0M461.8 141.8h0M464 145.9h0M466.1 149.9h0M468.3 154h0M470.4 158.1h0M472.6 162.1h0M474.7 166.2h0M476.9 170.3h0M479.1 174.3h0M481.3 178.3h0M483.6 182.3h0M485.9 186.3h0M488.3 190.2h0M490.8 194.1h0M493.5 197.8h0M496.3 201.5h0M499.3 205h0M502.4 208.4h0M505.8 211.5h0M509.5 214.2h0M513.6 216.1h0M518 217.4h0M522.6 217.5h0M527.1 216.3h0M531.5 214.9h0M535.9 213.6h0M540.3 212.3h0M544.6 210.9h0M548.9 209.2h0M553.2 207.5h0M557.6 206.2h0M562.1 205.1h0M566.5 203.9h0M571 202.8h0M575.5 201.7h0M579.9 200.6h0M584.4 199.5h0M588.8 198.2h0M593.2 196.9h0M597.6 195.6h0M602.1 194.4h0M606.5 193.2h0M611 192.1h0M615.5 191.3h0M620 190.6h0M624.5 189.6h0M628.9 188.2h0M633.3 186.8h0M637.8 185.9h0M642.3 185.2h0M646.9 184.4h0M651.4 183.7h0M656 183h0M660.5 182.3h0M665.1 181.7h0M669.7 181.4h0M674.3 181.1h0M678.8 180.7h0M683.4 180h0M687.9 179.3h0M692.5 178.8h0M697.1 178.4h0M701.7 178.1h0M706.3 177.7h0M710.8 177.3h0M715.4 177h0M720 177h0M724.6 177.1h0M729.2 177.1h0M733.8 176.7h0M738.4 176.4h0M743 176.1h0M747.6 175.9h0M752.2 175.8h0M756.8 175.6h0M761.4 175.3h0M766 175.1h0M770.6 174.8h0M775.2 174.7h0M779.8 174.6h0M784.3 174.5h0M788.9 174.6h0M793.5 174.7h0M798.1 174.8h0M802.7 174.9h0M807.3 174.9h0M811.9 175h0M816.5 175.1h0M821.1 175.2h0M825.6 174.4h0M830 173.1h0M834.4 171.7h0M350.2 101.2h0M352.2 104.8h0M360.5 99.1h0M370.1 100.4h0M374.2 96.4h0M384.5 100.6h0M390.3 104.4h0M395.8 100.6h0M403.3 101.2h0M408.2 98.2h0M413.6 99.6h0M419.1 98.1h0M424.8 98.9h0M429 99.6h0M434.3 98.8h0M438.7 98.7h0M443.2 99.7h0M447.1 102.1h0M450.5 105.2h0M453.5 108.6h0M456.3 112.3h0M458.9 116.1h0M461.4 120h0M463.7 123.9h0M466 127.9h0M468.2 132h0M470.4 136h0M472.5 140.1h0M474.7 144.2h0M476.8 148.3h0M478.9 152.4h0M480.9 156.5h0M483 160.5h0M485.2 164.6h0M487.3 168.7h0M489.5 172.7h0M491.8 176.8h0M494.1 180.7h0M496.5 184.7h0M498.9 188.5h0M501.5 192.4h0M504.1 196.1h0M506.9 199.8h0M510 203.2h0M513.3 206.4h0M516.8 209.4h0M520.6 212h0M524.8 213.8h0M529.4 214.2h0M533.8 213.3h0M538.2 212h0M542.7 210.6h0M547 209.1h0M551.3 207.4h0M555.6 205.9h0M560.1 204.8h0M564.5 203.6h0M569 202.5h0M573.5 201.4h0M577.9 200.4h0M582.4 199.3h0M586.8 198h0M591.2 196.7h0M595.7 195.4h0M600.1 194.3h0M604.5 193.1h0M609 191.9h0M613.5 191.1h0M618 190.3h0M622.6 189.5h0M627 188.3h0M631.4 186.8h0M635.8 185.7h0M640.4 184.9h0M644.9 184.2h0M649.4 183.5h0M654 182.8h0M658.5 182.1h0M663.1 181.4h0M667.7 181.1h0M672.3 180.8h0M676.9 180.5h0M681.4 179.9h0M686 179.2h0M690.5 178.6h0M695.1 178.3h0M699.7 177.9h0M704.3 177.5h0M708.9 177.2h0M713.4 176.8h0M718 176.7h0M722.6 176.7h0M727.2 176.8h0M731.8 176.6h0M736.4 176.3h0M741 175.9h0M745.6 175.8h0M750.2 175.6h0M754.8 175.5h0M759.4 175.3h0M764 175h0M768.6 174.8h0M773.2 174.6h0M777.8 174.5h0M782.4 174.5h0M787 174.5h0M791.6 174.6h0M796.2 174.7h0M800.8 174.8h0M805.4 174.9h0M810 174.9h0M814.6 175h0M819.2 175.1h0M823.7 174.9h0M828.1 173.6h0M832.6 172.3h0M362.7 92.1h0M367.3 91.1h0M371.2 91.3h0M381.2 92.6h0M388.7 96.4h0M394.6 91.6h0M399.1 91.4h0M403.1 91.8h0M408.5 92.2h0M417.3 91.1h0M422.7 90h0M427.1 90.8h0M432.7 89.9h0M438 90.3h0M442.5 90.3h0M447.3 90.4h0M451.6 92h0M455.3 94.7h0M458.5 98h0M461.4 101.5h0M464.1 105.3h0M466.6 109.1h0M469 113h0M471.3 117h0M473.6 121h0M475.8 125.1h0M477.9 129.2h0M480 133.3h0M482 137.4h0M484.1 141.5h0M486.2 145.6h0M488.2 149.7h0M490.3 153.8h0M492.4 157.9h0M494.5 162h0M496.7 166h0M498.9 170.1h0M501.2 174.1h0M503.5 178.1h0M505.8 182h0M508.3 185.9h0M510.9 189.7h0M513.7 193.4h0M516.5 197h0M519.5 200.5h0M522.8 203.7h0M526.4 206.5h0M530.5 208.6h0M535 209.6h0M539.5 209h0M544 207.7h0M548.3 206.1h0M552.6 204.4h0M557 203.2h0M561.4 202.1h0M565.9 201h0M570.4 199.9h0M574.9 198.9h0M579.4 197.9h0M583.8 196.8h0M588.3 195.6h0M592.7 194.3h0M597.1 193.1h0M601.6 192h0M606 190.8h0M610.5 189.8h0M615.1 189h0M619.6 188.3h0M624.1 187.5h0M628.5 186.1h0M632.9 184.7h0M637.4 183.8h0M642 183.2h0M646.5 182.5h0M651.1 181.8h0M655.6 181.2h0M660.2 180.5h0M664.7 179.9h0M669.3 179.7h0M673.9 179.5h0M678.5 179.1h0M683.1 178.5h0M687.6 177.9h0M692.2 177.5h0M696.8 177.1h0M701.4 176.8h0M706 176.5h0M710.5 176.1h0M715.1 175.8h0M719.7 175.9h0M724.3 176h0M728.9 176h0M733.5 175.7h0M738.1 175.4h0M742.7 175.2h0M747.3 175.1h0M751.9 175h0M756.5 174.9h0M761.1 174.7h0M765.7 174.5h0M770.3 174.3h0M774.9 174.2h0M779.5 174.2h0M784.1 174.1h0M788.7 174.3h0M793.3 174.4h0M797.9 174.6h0M802.5 174.6h0M807.1 174.7h0M811.7 174.8h0M816.3 174.9h0M820.9 175h0M825.4 174.4h0M829.8 173.1h0M834.2 171.8h0M361.9 86.1h0M365.8 84.4h0M374.8 83.9h0M385.9 82.4h0M390.4 84.4h0M397.7 84.2h0M403.5 82.4h0M410.2 84.7h0M413.6 82h0M417.5 82.2h0M425.7 82.3h0M429.3 83.8h0M436.4 82.9h0M441.6 82.1h0M446.2 81.7h0M451.1 81.7h0M455.6 82.3h0M459.6 84.5h0M463.1 87.6h0M466 91.1h0M468.8 94.8h0M471.3 98.6h0M473.6 102.6h0M475.9 106.6h0M478 110.7h0M480.1 114.8h0M482.2 118.9h0M484.1 123h0M486.1 127.2h0M488.1 131.4h0M490 135.5h0M491.9 139.7h0M493.8 143.9h0M495.8 148.1h0M497.7 152.2h0M499.7 156.4h0M501.6 160.6h0M503.6 164.7h0M505.6 168.8h0M507.7 173h0M509.8 177h0M512 181.1h0M514.3 185.1h0M516.6 189.1h0M519 193h0M521.5 196.8h0M524.2 200.6h0M527.1 204.1h0M530.3 207.4h0M533.9 210.3h0M538 212.4h0M542.5 213.1h0M546.9 212h0M551.2 210.3h0M555.5 208.8h0M560 207.6h0M564.4 206.4h0M568.9 205.2h0M573.3 204.1h0M577.8 202.9h0M582.3 201.8h0M586.7 200.5h0M591.1 199.2h0M595.5 197.8h0M599.9 196.6h0M604.3 195.3h0M608.7 194.1h0M613.3 193.2h0M617.8 192.4h0M622.3 191.5h0M626.7 190.3h0M631.1 188.8h0M635.5 187.6h0M640 186.8h0M644.6 186h0M649.1 185.3h0M653.6 184.5h0M658.2 183.8h0M662.7 183h0M667.3 182.6h0M671.9 182.3h0M676.5 182h0M681 181.3h0M685.6 180.6h0M690.1 179.9h0M694.7 179.5h0M699.3 179.1h0M703.9 178.6h0M708.4 178.3h0M713 177.9h0M717.6 177.6h0M722.2 177.7h0M726.8 177.7h0M731.4 177.5h0M736 177.1h0M740.6 176.7h0M745.2 176.5h0M749.8 176.3h0M754.4 176.2h0M759 175.9h0M763.5 175.6h0M768.1 175.3h0M772.7 175.1h0M777.3 175h0M781.9 174.8h0M786.5 174.8h0M791.1 174.9h0M795.7 175h0M800.3 175h0M804.9 175.1h0M809.5 175.1h0M814.1 175.1h0M818.7 175.2h0M823.3 175.1h0M827.7 173.8h0M832.1 172.5h0M836.5 171.1h0M366.5 86h0M370.2 79.8h0M383.8 78.4h0M393.9 78.4h0M399.6 76.8h0M408.7 74.9h0M414.4 75.6h0M418.6 77.3h0M424.1 74.8h0M429.5 76h0M434.3 75.8h0M440 75h0M446.3 74.8h0M451.5 75.3h0M455.8 74.9h0M460.9 75h0M465.3 75.8h0M469.3 78.2h0M472.6 81.3h0M475.6 84.8h0M478.3 88.5h0M480.9 92.4h0M483.2 96.3h0M485.5 100.3h0M487.7 104.4h0M489.8 108.4h0M491.9 112.5h0M493.9 116.7h0M495.9 120.8h0M497.9 124.9h0M499.9 129.1h0M501.8 133.3h0M503.8 137.4h0M505.7 141.6h0M507.7 145.8h0M509.7 149.9h0M511.7 154h0M513.8 158.2h0M515.8 162.3h0M517.9 166.4h0M520 170.5h0M522.2 174.5h0M524.5 178.5h0M526.8 182.5h0M529.3 186.3h0M531.9 190.1h0M534.8 193.7h0M537.9 197.1h0M541.3 200.2h0M545.2 202.6h0M549.7 203.6h0M554.2 203h0M558.7 201.9h0M563.2 200.8h0M567.6 199.7h0M572.1 198.7h0M576.6 197.7h0M581.1 196.7h0M585.6 195.6h0M590 194.4h0M594.4 193.1h0M598.9 192h0M603.3 190.9h0M607.8 189.7h0M612.3 188.8h0M616.9 188.1h0M621.4 187.4h0M625.9 186.4h0M630.3 185h0M634.7 183.7h0M639.2 183h0M643.8 182.4h0M648.3 181.7h0M652.9 181.1h0M657.4 180.4h0M662 179.8h0M666.6 179.4h0M671.2 179.2h0M675.8 179h0M680.3 178.5h0M684.9 177.9h0M689.5 177.3h0M694 177h0M698.6 176.6h0M703.2 176.3h0M707.8 176h0M712.4 175.7h0M717 175.5h0M721.6 175.6h0M726.2 175.7h0M730.8 175.6h0M735.4 175.4h0M740 175.1h0M744.6 174.9h0M749.2 174.8h0M753.8 174.8h0M758.4 174.6h0M763 174.4h0M767.5 174.2h0M772.1 174.1h0M776.7 174.1h0M781.3 174h0M785.9 174.1h0M790.5 174.2h0M795.1 174.4h0M799.7 174.5h0M804.3 174.6h0M808.9 174.7h0M813.5 174.8h0M818.1 174.9h0M822.7 175h0M827.2 173.8h0M831.6 172.5h0M836 171.3h0M385.7 68.2h0M392.9 69.3h0M399.8 65.2h0M408.4 68.1h0M412.9 72.1h0M416.6 70.5h0M426.4 68.8h0M431.1 68.3h0M436.8 69.2h0M442.6 67.9h0M448.1 69.4h0M454.8 68.5h0M459 67.4h0M463.8 67.8h0M468.4 67.6h0M473 68.2h0M477 70.6h0M480.3 73.7h0M483.2 77.3h0M485.9 81h0M488.3 84.9h0M490.6 88.9h0M492.8 92.9h0M494.9 97h0M497 101.1h0M499 105.3h0M500.9 109.5h0M502.8 113.6h0M504.7 117.9h0M506.5 122.1h0M508.4 126.3h0M510.2 130.5h0M512 134.7h0M513.9 138.9h0M515.7 143.1h0M517.5 147.4h0M519.4 151.6h0M521.2 155.8h0M523.1 160h0M525.1 164.2h0M527 168.3h0M529.1 172.4h0M531.1 176.5h0M533.3 180.6h0M535.6 184.6h0M538 188.5h0M540.5 192.4h0M543.2 196.1h0M546.3 199.5h0M549.8 202.5h0M553.8 204.7h0M558.2 206.1h0M562.7 205.8h0M567.2 204.7h0M571.6 203.5h0M576.1 202.4h0M580.6 201.3h0M585 200.1h0M589.4 198.8h0M593.8 197.5h0M598.2 196.2h0M602.7 195h0M607.1 193.8h0M611.6 192.7h0M616.1 191.9h0M620.6 191.1h0M625.1 190.1h0M629.5 188.7h0M633.9 187.2h0M638.4 186.4h0M642.9 185.7h0M647.5 184.9h0M652 184.2h0M656.6 183.5h0M661.1 182.7h0M665.7 182.2h0M670.2 181.9h0M674.8 181.6h0M679.4 181h0M683.9 180.4h0M688.5 179.7h0M693.1 179.2h0M697.7 178.8h0M702.2 178.4h0M706.8 178h0M711.4 177.6h0M716 177.3h0M720.6 177.3h0M725.2 177.4h0M729.8 177.3h0M734.4 177h0M739 176.6h0M743.5 176.3h0M748.1 176.1h0M752.7 176h0M757.3 175.8h0M761.9 175.5h0M766.5 175.2h0M771.1 175h0M775.7 174.8h0M780.3 174.7h0M784.9 174.7h0M789.5 174.8h0M794.1 174.8h0M798.7 174.9h0M803.3 175h0M807.9 175h0M812.5 175.1h0M817.1 175.1h0M821.7 175.2h0M826.2 174.2h0M830.6 172.9h0M835 171.6h0M381.3 64.6h0M397.2 58.7h0M402.7 60.3h0M410.5 58.7h0M417.1 63h0M420.6 62.2h0M426.6 58.9h0M434.3 60h0M437.8 60.2h0M442.9 57.5h0M451.2 60.6h0M455.6 61.1h0M461.1 59.8h0M465.3 59.7h0M471.1 60.2h0M475.5 59.7h0M480.1 60.1h0M484.1 62.2h0M487.5 65.3h0M490.5 68.8h0M493.2 72.5h0M495.7 76.4h0M498 80.4h0M500.2 84.4h0M502.3 88.5h0M504.4 92.6h0M506.3 96.8h0M508.3 100.9h0M510.2 105.1h0M512.1 109.3h0M513.9 113.5h0M515.7 117.8h0M517.5 122h0M519.3 126.2h0M521.1 130.5h0M522.9 134.7h0M524.7 138.9h0M526.5 143.2h0M528.4 147.4h0M530.2 151.6h0M532.1 155.8h0M534.1 159.9h0M536 164.1h0M538.1 168.2h0M540.2 172.3h0M542.4 176.3h0M544.7 180.3h0M547.3 184.1h0M550 187.8h0M553 191.3h0M556.2 194.6h0M559.8 197.5h0M563.8 199.6h0M568.4 200.2h0M572.9 199.3h0M577.4 198.3h0M581.9 197.3h0M586.3 196.1h0M590.7 194.9h0M595.2 193.6h0M599.6 192.5h0M604.1 191.3h0M608.5 190.2h0M613 189.3h0M617.6 188.6h0M622.1 187.9h0M626.6 186.7h0M631 185.3h0M635.4 184.1h0M639.9 183.5h0M644.5 182.8h0M649 182.1h0M653.6 181.5h0M658.1 180.8h0M662.7 180.2h0M667.3 179.8h0M671.9 179.6h0M676.5 179.4h0M681 178.8h0M685.6 178.2h0M690.2 177.6h0M694.7 177.3h0M699.3 176.9h0M703.9 176.6h0M708.5 176.3h0M713.1 176h0M717.7 175.8h0M722.3 175.9h0M726.9 176h0M731.5 175.9h0M736.1 175.6h0M740.7 175.3h0M745.3 175.1h0M749.9 175h0M754.5 174.9h0M759.1 174.8h0M763.7 174.6h0M768.2 174.4h0M772.8 174.2h0M777.4 174.2h0M782 174.1h0M786.6 174.2h0M791.2 174.4h0M795.8 174.5h0M800.4 174.6h0M805 174.7h0M809.6 174.8h0M814.2 174.9h0M818.8 175h0M823.4 174.9h0M827.8 173.6h0M832.2 172.4h0M406.3 58.2h0M409.3 55.7h0M416.9 57.1h0M419.9 52.7h0M429 54.8h0M434.6 56.7h0M437 55.7h0M449.5 52.6h0M455.3 55h0M458.7 53.8h0M465.6 54h0M468.9 54.5h0M475.2 53.2h0M479.6 53.5h0M484.2 53.7h0M488.9 53.9h0M493 56h0M496.4 59h0M499.4 62.6h0M502 66.3h0M504.5 70.2h0M506.7 74.2h0M508.9 78.3h0M510.9 82.4h0M512.9 86.6h0M514.8 90.8h0M516.7 95h0M518.5 99.2h0M520.3 103.4h0M522 107.7h0M523.8 111.9h0M525.5 116.2h0M527.2 120.5h0M528.9 124.7h0M530.6 129h0M532.3 133.3h0M534 137.6h0M535.8 141.8h0M537.5 146.1h0M539.3 150.3h0M541.1 154.5h0M543 158.8h0M544.9 162.9h0M546.8 167.1h0M548.9 171.2h0M551.1 175.3h0M553.3 179.3h0M555.6 183.2h0M558.1 187.1h0M560.7 190.9h0M563.6 194.5h0M566.8 197.8h0M570.5 200.6h0M574.7 202.2h0M579.3 202.1h0M583.7 200.9h0M588.1 199.6h0M592.5 198.2h0M597 196.9h0M601.4 195.7h0M605.8 194.5h0M610.3 193.3h0M614.8 192.5h0M619.3 191.7h0M623.8 190.8h0M628.2 189.4h0M632.6 188h0M637.1 186.9h0M641.6 186.2h0M646.1 185.4h0M650.7 184.7h0M655.2 183.9h0M659.8 183.2h0M664.3 182.5h0M668.9 182.2h0M673.5 181.9h0M678.1 181.5h0M682.6 180.8h0M687.1 180.1h0M691.7 179.5h0M696.3 179.1h0M700.9 178.7h0M705.5 178.3h0M710 177.9h0M714.6 177.5h0M719.2 177.5h0M723.8 177.5h0M728.4 177.6h0M733 177.2h0M737.6 176.8h0M742.2 176.5h0M746.8 176.3h0M751.4 176.1h0M756 176h0M760.6 175.7h0M765.2 175.4h0M769.7 175.1h0M774.3 174.9h0M778.9 174.8h0M783.5 174.7h0M788.1 174.8h0M792.7 174.9h0M797.3 174.9h0M801.9 175h0M806.5 175h0M811.1 175.1h0M815.7 175.1h0M820.3 175.2h0M824.8 174.6h0M829.3 173.3h0M833.7 172h0M405.6 65.3h0M410.7 56.4h0M425.4 55.1h0M426.9 49.2h0M436.7 54.7h0M444 47.3h0M451.1 51.9h0M455.4 49.1h0M458.2 47.3h0M466.2 48.4h0M472.5 50.8h0M477.3 49.1h0M482.9 48.8h0M486.9 48.4h0M492.6 48.6h0M497.3 48.6h0M501.6 49.9h0M505.3 52.6h0M508.5 56h0M511.2 59.6h0M513.8 63.5h0M516.1 67.4h0M518.3 71.5h0M520.4 75.6h0M522.4 79.7h0M524.3 83.9h0M526.2 88.1h0M528 92.3h0M529.8 96.5h0M531.6 100.8h0M533.3 105h0M535.1 109.3h0M536.8 113.6h0M538.5 117.8h0M540.2 122.1h0M541.9 126.4h0M543.7 130.6h0M545.4 134.9h0M547.2 139.1h0M549 143.4h0M550.9 147.6h0M552.7 151.8h0M554.6 156h0M556.4 160.2h0M558.3 164.4h0M560.3 168.5h0M562.4 172.6h0M564.6 176.7h0M566.9 180.6h0M569.4 184.5h0M572.2 188.2h0M575.3 191.6h0M578.8 194.5h0M582.9 196.6h0M587.4 197h0M591.9 195.8h0M596.3 194.6h0M600.7 193.4h0M605.2 192.2h0M609.6 191.1h0M614.2 190.3h0M618.7 189.6h0M623.2 188.8h0M627.6 187.5h0M632 186.1h0M636.5 185h0M641 184.3h0M645.6 183.6h0M650.1 182.9h0M654.7 182.2h0M659.2 181.5h0M663.8 180.9h0M668.4 180.6h0M673 180.3h0M677.6 180h0M682.1 179.4h0M686.7 178.7h0M691.2 178.2h0M695.8 177.8h0M700.4 177.5h0M705 177.1h0M709.6 176.8h0M714.2 176.4h0M718.8 176.4h0M723.4 176.5h0M728 176.6h0M732.6 176.3h0M737.1 176h0M741.7 175.6h0M746.3 175.5h0M750.9 175.4h0M755.5 175.3h0M760.1 175.1h0M764.7 174.8h0M769.3 174.6h0M773.9 174.5h0M778.5 174.4h0M783.1 174.3h0M787.7 174.4h0M792.3 174.5h0M796.9 174.7h0M801.5 174.7h0M806.1 174.8h0M810.7 174.9h0M815.3 175h0M819.9 175.1h0M824.4 174.7h0M828.8 173.4h0M833.3 172.1h0M414.5 42.5h0M417.1 50.5h0M425.5 42.3h0M436.7 45.3h0M439.8 46h0M451.9 38.5h0M452.6 44.2h0M461.4 44.4h0M468.4 47.3h0M473.5 42.6h0M477.5 45.5h0M483.3 41.7h0M487.9 44.4h0M494.7 43.4h0M498.6 42.9h0M503.5 42.6h0M508 42.8h0M512.2 44.6h0M515.7 47.5h0M518.7 51h0M521.4 54.7h0M523.9 58.7h0M526.1 62.7h0M528.3 66.7h0M530.3 70.9h0M532.2 75h0M534.1 79.2h0M536 83.4h0M537.7 87.7h0M539.4 92h0M541 96.3h0M542.6 100.6h0M544.2 104.9h0M545.8 109.2h0M547.4 113.5h0M549 117.8h0M550.6 122.1h0M552.3 126.4h0M553.9 130.7h0M555.6 135h0M557.3 139.3h0M559 143.6h0M560.7 147.8h0M562.5 152.1h0M564.4 156.3h0M566.3 160.5h0M568.3 164.6h0M570.3 168.7h0M572.5 172.8h0M574.8 176.8h0M577.3 180.6h0M580 184.4h0M582.9 187.9h0M586.3 191h0M590.3 193.3h0M594.8 194.3h0M599.3 193.7h0M603.7 192.5h0M608.2 191.4h0M612.7 190.5h0M617.2 189.7h0M621.8 189h0M626.2 187.8h0M630.6 186.4h0M635 185.2h0M639.6 184.5h0M644.1 183.8h0M648.7 183.1h0M653.2 182.4h0M657.8 181.7h0M662.3 181h0M666.9 180.6h0M671.5 180.4h0M676.1 180.1h0M680.6 179.5h0M685.2 178.9h0M689.7 178.3h0M694.3 177.9h0M698.9 177.6h0M703.5 177.2h0M708.1 176.9h0M712.7 176.5h0M717.3 176.3h0M721.9 176.4h0M726.5 176.5h0M731.1 176.4h0M735.7 176h0M740.2 175.7h0M744.8 175.5h0M749.4 175.4h0M754 175.3h0M758.6 175.1h0M763.2 174.9h0M767.8 174.6h0M772.4 174.5h0M777 174.4h0M781.6 174.3h0M786.2 174.4h0M790.8 174.5h0M795.4 174.6h0M800 174.7h0M804.6 174.8h0M809.2 174.9h0M813.8 174.9h0M818.4 175h0M823 175.1h0M827.4 173.8h0M831.8 172.5h0M416.2 43.9h0M423.2 39.5h0M428.7 40.8h0M452.2 39.6h0M454.2 45.3h0M459.5 41.7h0M463.4 37.8h0M467.7 41.2h0M477.2 40.2h0M485.9 40.6h0M489.7 40.1h0M495.8 38.3h0M499.8 39.3h0M506.2 39.2h0M511.3 39.1h0M516.1 39h0M520.6 39.5h0M524.5 41.9h0M527.7 45.2h0M530.2 49.1h0M532.5 53h0M534.6 57.1h0M536.7 61.2h0M538.6 65.4h0M540.5 69.6h0M542.4 73.8h0M544.2 78h0M545.9 82.3h0M547.6 86.6h0M549.3 90.8h0M551 95.1h0M552.7 99.4h0M554.3 103.7h0M556 108h0M557.6 112.3h0M559.3 116.6h0M560.9 120.9h0M562.6 125.2h0M564.3 129.4h0M566 133.7h0M567.8 137.9h0M569.5 142.2h0M571.4 146.4h0M573.2 150.6h0M575.2 154.8h0M577.2 158.9h0M579.2 163h0M581.4 167.1h0M583.7 171.1h0M586.2 174.9h0M588.9 178.7h0M591.9 182.2h0M595.2 185.3h0M599 188h0M603.3 189.6h0M607.8 189.8h0M612.4 189h0M616.9 188.2h0M621.5 187.5h0M625.9 186.5h0M630.3 185.1h0M634.7 183.8h0M639.3 183.1h0M643.8 182.5h0M648.4 181.8h0M652.9 181.2h0M657.5 180.5h0M662 179.9h0M666.6 179.5h0M671.2 179.3h0M675.8 179.1h0M680.4 178.5h0M684.9 178h0M689.5 177.4h0M694.1 177h0M698.7 176.7h0M703.3 176.4h0M707.9 176.1h0M712.5 175.8h0M717 175.5h0M721.6 175.7h0M726.2 175.8h0M730.8 175.7h0M735.4 175.4h0M740 175.1h0M744.6 175h0M749.2 174.9h0M753.8 174.8h0M758.4 174.7h0M763 174.5h0M767.6 174.3h0M772.2 174.1h0M776.8 174.1h0M781.4 174.1h0M786 174.1h0M790.6 174.3h0M795.2 174.4h0M799.8 174.5h0M804.4 174.6h0M809 174.7h0M813.6 174.8h0M818.2 174.9h0M822.8 175h0M827.2 173.8h0M831.6 172.5h0M836.1 171.3h0M441 41.1h0M443.7 45.3h0M455.3 42.5h0M460 39.8h0M465.3 34.8h0M469.6 36.8h0M481.2 38.9h0M485.1 31.5h0M493.5 39.1h0M497.9 39.3h0M505.1 34.1h0M510.2 35.6h0M512.8 35.2h0M518.1 36.4h0M522.9 38.2h0M527.4 39.1h0M531.6 41h0M535 44.1h0M537.9 47.7h0M540.5 51.5h0M542.8 55.4h0M545 59.5h0M547.1 63.6h0M549 67.8h0M550.9 72h0M552.7 76.2h0M554.5 80.4h0M556.3 84.7h0M558 88.9h0M559.7 93.2h0M561.4 97.5h0M563 101.8h0M564.7 106.1h0M566.3 110.4h0M568 114.7h0M569.6 119h0M571.3 123.2h0M573 127.5h0M574.7 131.8h0M576.5 136h0M578.2 140.3h0M580 144.5h0M581.9 148.7h0M583.8 152.9h0M585.7 157.1h0M587.8 161.2h0M589.9 165.3h0M592.2 169.3h0M594.6 173.2h0M597.2 177h0M600 180.7h0M603 184.1h0M606.5 187.1h0M610.3 189.6h0M614.6 191.3h0M619.2 191.6h0M623.7 190.7h0M628.1 189.3h0M632.4 187.9h0M636.9 186.8h0M641.4 186.1h0M646 185.3h0M650.5 184.6h0M655.1 183.8h0M659.6 183.1h0M664.1 182.4h0M668.7 182.1h0M673.3 181.8h0M677.9 181.4h0M682.5 180.7h0M687 180h0M691.6 179.5h0M696.1 179h0M700.7 178.6h0M705.3 178.2h0M709.9 177.9h0M714.5 177.5h0M719.1 177.4h0M723.7 177.5h0M728.3 177.5h0M732.9 177.2h0M737.4 176.8h0M742 176.4h0M746.6 176.3h0M751.2 176.1h0M755.8 175.9h0M760.4 175.7h0M765 175.4h0M769.6 175.1h0M774.2 174.9h0M778.8 174.8h0M783.4 174.7h0M788 174.8h0M792.6 174.8h0M797.2 174.9h0M801.8 175h0M806.4 175h0M811 175.1h0M815.6 175.1h0M820.2 175.2h0M824.7 174.7h0M829.1 173.3h0M833.5 172h0M442.4 34.6h0M463.5 32.3h0M463.4 39.5h0M466.1 28.2h0M480.4 33.3h0M477.9 35.3h0M488.8 32.6h0M500.1 34.4h0M502.1 34.9h0M505.8 34.3h0M513.1 34.2h0M518.1 34.8h0M522.3 39.1h0M529.5 38.4h0M532 41.1h0M537.2 42.2h0M541.6 43.9h0M545.2 46.7h0M548.2 50.2h0M550.8 54h0M553.2 57.9h0M555.5 61.9h0M557.6 66h0M559.6 70.1h0M561.5 74.3h0M563.4 78.5h0M565.2 82.7h0M567 87h0M568.7 91.2h0M570.5 95.5h0M572.2 99.8h0M573.9 104h0M575.6 108.3h0M577.4 112.6h0M579.1 116.8h0M580.8 121.1h0M582.5 125.4h0M584.3 129.6h0M586.1 133.8h0M587.9 138.1h0M589.7 142.3h0M591.6 146.5h0M593.6 150.6h0M595.7 154.7h0M597.8 158.8h0M600 162.9h0M602.3 166.9h0M604.7 170.8h0M607.3 174.5h0M610.2 178.2h0M613.1 181.7h0M616.4 184.9h0M620.1 187.6h0M624.3 189.4h0M628.9 189.3h0M633.3 187.9h0M637.8 187h0M642.3 186.3h0M646.9 185.5h0M651.4 184.7h0M656 184h0M660.5 183.3h0M665 182.6h0M669.6 182.3h0M674.2 182h0M678.8 181.5h0M683.3 180.8h0M687.9 180.1h0M692.5 179.6h0M697 179.2h0M701.6 178.7h0M706.2 178.4h0M710.8 178h0M715.4 177.6h0M720 177.6h0M724.6 177.6h0M729.2 177.6h0M733.8 177.2h0M738.3 176.9h0M742.9 176.5h0M747.5 176.4h0M752.1 176.2h0M756.7 176h0M761.3 175.7h0M765.9 175.4h0M770.5 175.1h0M775.1 175h0M779.7 174.9h0M784.3 174.7h0M788.9 174.8h0M793.5 174.9h0M798.1 175h0M802.7 175h0M807.3 175.1h0M811.9 175.1h0M816.5 175.2h0M821.1 175.2h0M825.6 174.4h0M830 173.1h0M834.4 171.8h0M460.3 29.6h0M477.9 35.4h0M515.8 36.6h0M515.9 39.6h0M522 38.5h0M536.8 42.2h0M541.6 43.8h0M546.7 46h0M551.1 47.2h0M554.9 49.8h0M558.1 53.2h0M560.8 56.8h0M563.3 60.7h0M565.6 64.7h0M567.8 68.7h0M569.9 72.8h0M572 76.9h0M573.9 81.1h0M575.9 85.3h0M577.7 89.5h0M579.6 93.7h0M581.4 97.9h0M583.2 102.1h0M585 106.4h0M586.8 110.6h0M588.6 114.8h0M590.4 119h0M592.3 123.3h0M594.1 127.5h0M596 131.7h0M598 135.8h0M599.9 140h0M602 144.1h0M604 148.2h0M606.2 152.3h0M608.4 156.3h0M610.7 160.3h0M613.1 164.2h0M615.6 168.1h0M618.3 171.8h0M621.2 175.4h0M624.4 178.6h0M628.2 181.3h0M632.4 183.1h0M636.9 184.2h0M641.5 184.1h0M646 183.4h0M650.6 182.7h0M655.1 182h0M659.7 181.4h0M664.2 180.7h0M668.8 180.5h0M673.4 180.2h0M678 179.9h0M682.5 179.2h0M687.1 178.6h0M691.7 178.1h0M696.3 177.7h0M700.8 177.4h0M705.4 177h0M710 176.7h0M714.6 176.3h0M719.2 176.3h0M723.8 176.4h0M728.4 176.5h0M733 176.2h0M737.6 175.9h0M742.2 175.6h0M746.8 175.5h0M751.4 175.3h0M756 175.2h0M760.6 175h0M765.2 174.8h0M769.7 174.5h0M774.3 174.4h0M778.9 174.4h0M783.5 174.3h0M788.1 174.4h0M792.7 174.5h0M797.3 174.7h0M801.9 174.7h0M806.5 174.8h0M811.1 174.9h0M815.7 175h0M820.3 175.1h0M824.9 174.5h0M829.3 173.2h0M833.7 172h0M461.2 32.6h0M473.2 27.3h0M473.5 41.3h0M471.4 37.9h0M488.8 29.7h0M499 36.2h0M533.7 40h0M534.4 41.4h0M538.9 45.8h0M545.9 48.3h0M550.6 46.8h0M553.5 49.2h0M559.1 50.3h0M563.2 52.5h0M566.8 55.4h0M569.9 58.8h0M572.6 62.5h0M575.1 66.3h0M577.5 70.3h0M579.7 74.3h0M581.8 78.4h0M583.9 82.5h0M585.8 86.7h0M587.8 90.8h0M589.7 95h0M591.6 99.2h0M593.5 103.4h0M595.4 107.6h0M597.3 111.8h0M599.2 116h0M601.1 120.2h0M603 124.4h0M604.9 128.5h0M606.9 132.7h0M608.9 136.8h0M611 140.9h0M613 145h0M615.2 149.1h0M617.4 153.2h0M619.6 157.2h0M622.1 161.1h0M624.7 164.9h0M627.5 168.5h0M630.6 171.9h0M634 175h0M637.4 178.1h0M641.2 180.6h0M645.4 182.4h0M650 183h0M654.6 182.5h0M659.1 181.8h0M663.7 181.1h0M668.2 180.8h0M672.8 180.5h0M677.4 180.2h0M682 179.6h0M686.5 178.9h0M691.1 178.4h0M695.7 178h0M700.3 177.6h0M704.9 177.3h0M709.4 176.9h0M714 176.6h0M718.6 176.5h0M723.2 176.6h0M727.8 176.7h0M732.4 176.4h0M737 176.1h0M741.6 175.8h0M746.2 175.6h0M750.8 175.5h0M755.4 175.4h0M760 175.1h0M764.6 174.9h0M769.2 174.7h0M773.8 174.5h0M778.4 174.5h0M783 174.4h0M787.6 174.5h0M792.2 174.6h0M796.8 174.7h0M801.4 174.8h0M806 174.8h0M810.6 174.9h0M815.1 175h0M819.7 175.1h0M824.3 174.7h0M828.7 173.4h0M833.1 172.1h0M461.4 38.4h0M470.6 44.5h0M493.2 34.1h0M499 34.8h0M514.9 39.1h0M513.2 36.4h0M524.8 38.5h0M532.6 43.9h0M544.6 43.5h0M556.7 49.4h0M558.2 49.8h0M563.8 52.5h0M569 54.7h0M572.7 56.5h0M576.6 58.9h0M580 62h0M582.9 65.5h0M585.5 69.3h0M588 73.2h0M590.3 77.2h0M592.5 81.2h0M594.7 85.3h0M596.8 89.4h0M598.8 93.5h0M600.9 97.6h0M602.9 101.7h0M604.9 105.9h0M606.8 110h0M608.8 114.2h0M610.8 118.3h0M612.8 122.5h0M614.8 126.6h0M616.9 130.7h0M618.9 134.9h0M621 139h0M623.2 143h0M625.6 146.9h0M628 150.9h0M630.5 154.7h0M633.2 158.5h0M635.9 162.2h0M638.6 165.9h0M641.5 169.5h0M644.6 172.8h0M648.1 175.8h0M651.9 178.4h0M656.2 180.2h0M660.7 180.9h0M665.3 180.5h0M669.9 180.3h0M674.5 180h0M679 179.6h0M683.6 179h0M688.1 178.3h0M692.7 177.9h0M697.3 177.5h0M701.9 177.2h0M706.5 176.8h0M711.1 176.5h0M715.7 176.2h0M720.3 176.2h0M724.9 176.3h0M729.5 176.4h0M734 176h0M738.6 175.7h0M743.2 175.5h0M747.8 175.4h0M752.4 175.3h0M757 175.1h0M761.6 174.9h0M766.2 174.7h0M770.8 174.4h0M775.4 174.4h0M780 174.3h0M784.6 174.3h0M789.2 174.4h0M793.8 174.6h0M798.4 174.7h0M803 174.7h0M807.6 174.8h0M812.2 174.9h0M816.8 175h0M821.4 175.1h0M825.9 174.2h0M830.3 172.9h0M834.7 171.7h0M491.8 39.8h0M497.3 44.8h0M526.6 38.6h0M521.9 40h0M530.7 45.1h0M548.6 49.8h0M553.4 49.3h0M566 53.1h0M570.1 54.4h0M573 56.4h0M578.4 58.8h0M582.8 61h0M586.6 63.5h0M589.8 66.8h0M592.7 70.3h0M595.4 74.1h0M597.9 77.9h0M600.3 81.9h0M602.6 85.9h0M604.8 89.9h0M606.9 94h0M609.1 98h0M611.1 102.1h0M613.2 106.3h0M615.2 110.4h0M617.2 114.5h0M619.3 118.7h0M621.3 122.8h0M623.4 126.9h0M625.6 130.9h0M627.9 134.9h0M630.2 138.9h0M632.5 142.9h0M634.9 146.8h0M637.2 150.8h0M639.5 154.7h0M642 158.6h0M644.6 162.4h0M647.4 166.1h0M650.3 169.6h0M653.5 172.9h0M657 175.9h0M660.9 178.4h0M665.1 180.2h0M669.6 181.3h0M674.2 181.2h0M678.8 180.8h0M683.3 180.1h0M687.9 179.4h0M692.4 178.9h0M697 178.5h0M701.6 178.1h0M706.2 177.8h0M710.8 177.4h0M715.3 177h0M719.9 177h0M724.5 177.1h0M729.1 177.1h0M733.7 176.8h0M738.3 176.4h0M742.9 176.1h0M747.5 176h0M752.1 175.8h0M756.7 175.7h0M761.3 175.4h0M765.9 175.1h0M770.5 174.8h0M775.1 174.7h0M779.7 174.6h0M784.3 174.6h0M788.9 174.7h0M793.5 174.8h0M798.1 174.8h0M802.7 174.9h0M807.3 175h0M811.9 175h0M816.5 175.1h0M821.1 175.2h0M825.6 174.4h0M830 173.1h0M834.4 171.8h0M497.3 38.8h0M517 40.7h0M528.7 43.9h0M534.1 42.1h0M542.3 44h0M558 49h0M562.1 51h0M569.8 57.1h0M575.5 56.8h0M583.7 60.7h0M588.3 64h0M592.1 65.8h0M595.8 68.6h0M599 71.9h0M601.8 75.5h0M604.5 79.2h0M607 83.1h0M609.4 87h0M611.7 91h0M614 95h0M616.1 99.1h0M618.3 103.1h0M620.4 107.2h0M622.6 111.2h0M624.8 115.3h0M627.1 119.3h0M629.3 123.3h0M631.6 127.3h0M633.9 131.3h0M636.1 135.3h0M638.3 139.4h0M640.5 143.4h0M642.8 147.4h0M645.2 151.3h0M647.7 155.1h0M650.4 158.9h0M653.1 162.6h0M656.1 166.1h0M659.3 169.4h0M662.7 172.4h0M666.5 175.2h0M670.5 177.4h0M674.8 178.8h0M679.4 178.9h0M684 178.3h0M688.5 177.7h0M693.1 177.3h0M697.7 176.9h0M702.3 176.6h0M706.9 176.3h0M711.5 176h0M716.1 175.7h0M720.7 175.8h0M725.3 175.9h0M729.9 175.9h0M734.4 175.6h0M739 175.3h0M743.6 175.1h0M748.2 175h0M752.8 174.9h0M757.4 174.8h0M762 174.6h0M766.6 174.4h0M771.2 174.2h0M775.8 174.2h0M780.4 174.1h0M785 174.1h0M789.6 174.3h0M794.2 174.4h0M798.8 174.6h0M803.4 174.6h0M808 174.7h0M812.6 174.8h0M817.2 174.9h0M821.8 175h0M826.3 174.1h0M830.7 172.8h0M835.1 171.5h0M505.1 49.5h0M500.9 31.3h0M523.7 38.5h0M530.9 39.9h0M533.7 45.9h0M544.1 45.2h0M545.6 44.3h0M552.2 50.5h0M562.2 54.1h0M560.4 50h0M570.6 55.2h0M576.9 58.7h0M579 60.3h0M583.6 62.1h0M588.2 63.3h0M593.6 66.7h0M597.3 68.4h0M601.5 70.4h0M604.9 73.4h0M608 76.8h0M610.9 80.4h0M613.5 84.2h0M616.1 88h0M618.5 91.9h0M620.8 95.9h0M623.2 99.8h0M625.6 103.8h0M628 107.7h0M630.3 111.7h0M632.6 115.6h0M634.9 119.6h0M637.1 123.7h0M639.2 127.8h0M641.4 131.8h0M643.6 135.8h0M645.9 139.8h0M648.2 143.8h0M650.7 147.7h0M653.2 151.5h0M655.8 155.3h0M658.6 159h0M661.6 162.5h0M664.7 165.9h0M667.9 169.1h0M671.5 172h0M675.4 174.5h0M679.7 176h0M684.3 176.4h0M688.8 176h0M693.4 175.6h0M698 175.4h0M702.6 175.1h0M707.2 174.8h0M711.8 174.6h0M716.4 174.3h0M721 174.5h0M725.6 174.6h0M730.2 174.7h0M734.8 174.5h0M739.4 174.2h0M744 174.1h0M748.6 174.1h0M753.2 174h0M757.8 174h0M762.4 173.8h0M767 173.7h0M771.6 173.6h0M776.2 173.6h0M780.8 173.6h0M785.4 173.7h0M790 173.9h0M794.6 174.1h0M799.2 174.3h0M803.7 174.4h0M808.3 174.5h0M812.9 174.6h0M817.5 174.8h0M822.1 174.9h0M826.6 173.9h0M831 172.7h0M835.5 171.4h0M522.5 38.4h0M535.6 42h0M536.7 42.3h0M554.8 48.9h0M572.2 58.4h0M578.3 60.9h0M581.6 59.8h0M587.4 63.4h0M593.4 67.1h0M598.5 68h0M601.3 69.4h0M605.7 72h0M609.7 74.3h0M613.2 77.3h0M616.3 80.7h0M619.2 84.3h0M622 87.9h0M624.7 91.6h0M627.4 95.4h0M629.9 99.2h0M632.4 103.1h0M634.9 107h0M637.1 111h0M639.3 115h0M641.5 119.1h0M643.7 123.1h0M645.9 127.1h0M648.2 131.1h0M650.5 135.1h0M652.9 139.1h0M655.3 143h0M657.8 146.8h0M660.4 150.6h0M663.2 154.3h0M666 157.9h0M668.9 161.5h0M672.1 164.8h0M675.4 167.9h0M679.2 170.6h0M683.4 172.5h0M687.8 173.6h0M692.4 173.9h0M697 173.6h0M701.6 173.4h0M706.2 173.2h0M710.8 173h0M715.4 172.8h0M720 173h0M724.6 173.2h0M729.2 173.3h0M733.8 173.2h0M738.4 173.1h0M743 173h0M747.6 173h0M752.2 173h0M756.8 173h0M761.4 173h0M766 172.9h0M770.6 172.8h0M775.2 172.9h0M779.8 173h0M784.4 173.1h0M789 173.4h0M793.5 173.7h0M798.1 173.9h0M802.7 174h0M807.3 174.2h0M811.9 174.4h0M816.5 174.5h0M821.1 174.7h0M825.6 174.1h0M830.1 172.9h0M834.5 171.7h0M526.4 46.7h0M526.7 43.2h0M536.5 40.9h0M538.4 41.9h0M546.6 47.1h0M564.5 54.9h0M569.1 57h0M578.7 57.6h0M586.3 62.4h0M587.5 62.1h0M594.3 68.5h0M598.8 68.3h0M603.3 71.9h0M607.6 73.1h0M611.7 74.7h0M616 76.7h0M619.6 79.5h0M623.1 82.5h0M626.3 85.8h0M629.3 89.3h0M632.1 92.9h0M634.8 96.7h0M637.1 100.6h0M639.4 104.6h0M641.7 108.6h0M643.9 112.6h0M646.2 116.7h0M648.4 120.7h0M650.7 124.7h0M653 128.6h0M655.3 132.6h0M657.7 136.5h0M660.2 140.4h0M662.7 144.3h0M665.2 148.1h0M667.8 151.9h0M670.5 155.6h0M673.4 159.2h0M676.5 162.7h0M679.8 165.8h0M683.5 168.6h0M687.5 170.8h0M691.8 172.5h0M696.3 173.3h0M700.9 173.3h0M705.5 173.1h0M710.1 172.9h0M714.7 172.7h0M719.3 172.8h0M723.9 173h0M728.5 173.2h0M733.1 173.1h0M737.7 173h0M742.3 172.9h0M746.9 172.9h0M751.5 172.9h0M756.1 172.9h0M760.7 172.9h0M765.3 172.8h0M769.9 172.8h0M774.5 172.8h0M779.1 172.9h0M783.7 173h0M788.3 173.3h0M792.8 173.6h0M797.4 173.8h0M802 174h0M806.6 174.1h0M811.2 174.3h0M815.8 174.5h0M820.4 174.7h0M824.9 174.2h0M829.4 173h0M833.8 171.8h0M525.3 41.1h0M552.7 49.3h0M560.1 50.7h0M564.1 52.2h0M573.4 55.8h0M587.1 63.2h0M601.9 71.6h0M606.7 72.2h0M611.1 73.7h0M614.8 76h0M619 78.1h0M622.8 80.6h0M626.4 83.5h0M629.7 86.7h0M632.7 90.2h0M635.5 93.8h0M638 97.7h0M640.4 101.6h0M642.8 105.5h0M645.2 109.5h0M647.5 113.5h0M649.9 117.4h0M652.2 121.3h0M654.6 125.3h0M657.1 129.2h0M659.5 133h0M662.1 136.9h0M664.6 140.7h0M667.2 144.5h0M669.9 148.3h0M672.7 151.9h0M675.6 155.4h0M678.8 158.7h0M682.3 161.8h0M686 164.5h0M690.1 166.7h0M694.3 168.4h0M698.8 169.3h0M703.4 169.3h0M708 169.3h0M712.6 169.2h0M717.2 169.3h0M721.8 169.6h0M726.4 169.9h0M731 170.1h0M735.6 170.1h0M740.2 170.2h0M744.8 170.3h0M749.4 170.5h0M754 170.6h0M758.6 170.8h0M763.2 170.9h0M767.8 171h0M772.4 171.2h0M777 171.4h0M781.6 171.7h0M786.2 172h0M790.7 172.4h0M795.3 172.9h0M799.9 173.1h0M804.5 173.4h0M809.1 173.6h0M813.7 173.9h0M818.3 174.2h0M822.9 174.4h0M827.3 173.4h0M831.8 172.3h0M836.3 171.2h0M534.1 57.1h0M552.3 54.1h0M551.4 49.6h0M556.1 50.8h0M568.1 57.1h0M569 54.5h0M579.7 62.6h0M585.3 64.3h0M588.3 68.1h0M592 66.2h0M601.3 72.7h0M608.2 73.7h0M612 74.3h0M616.6 76.9h0M621.2 78.9h0M625.2 81.1h0M628.7 84h0M632 87.3h0M634.9 90.8h0M637.5 94.6h0M639.9 98.5h0M642.3 102.5h0M644.6 106.5h0M646.9 110.4h0M649.2 114.4h0M651.5 118.4h0M653.8 122.4h0M656.1 126.4h0M658.5 130.3h0M660.9 134.2h0M663.3 138.2h0M665.7 142.1h0M668.2 145.9h0M670.8 149.7h0M673.5 153.5h0M676.3 157.1h0M679.4 160.5h0M682.6 163.8h0M686.2 166.7h0M690.1 169.2h0M694.2 171.3h0M698.5 172.6h0M703.1 173h0M707.7 172.8h0M712.3 172.6h0M716.9 172.5h0M721.5 172.7h0M726.1 172.9h0M730.7 173h0M735.3 172.9h0M739.9 172.7h0M744.5 172.7h0M749.1 172.8h0M753.7 172.8h0M758.3 172.8h0M762.9 172.7h0M767.5 172.7h0M772.1 172.7h0M776.7 172.8h0M781.3 172.9h0M785.9 173.1h0M790.5 173.4h0M795.1 173.7h0M799.7 173.9h0M804.3 174h0M808.9 174.2h0M813.5 174.4h0M818.1 174.6h0M822.6 174.8h0M827.1 173.6h0M831.5 172.5h0M836 171.3h0M535.5 41.1h0M550.1 47.9h0M579.6 62.5h0M583.7 60.8h0M586.4 65.6h0M592 67.6h0M597.4 69.4h0M607.9 72.3h0M613.4 74.2h0M616.8 77.3h0M620.9 78.7h0M625.3 80.2h0M629.1 82.7h0M632.6 85.7h0M635.6 89.2h0M638.2 93h0M640.8 96.8h0M643.2 100.7h0M645.6 104.7h0M647.9 108.6h0M650.2 112.6h0M652.5 116.6h0M654.9 120.5h0M657.2 124.5h0M659.5 128.5h0M661.9 132.4h0M664.3 136.3h0M666.7 140.3h0M669.1 144.1h0M671.7 148h0M674.3 151.8h0M677.1 155.4h0M680.1 158.9h0M683.3 162.2h0M686.7 165.3h0M690.4 168h0M694.3 170.4h0M698.6 172.1h0M703.1 173h0M707.7 172.9h0M712.3 172.7h0M716.9 172.6h0M721.5 172.8h0M726.1 173h0M730.7 173.1h0M735.3 173h0M739.9 172.8h0M744.5 172.8h0M749.1 172.8h0M753.7 172.9h0M758.3 172.9h0M762.9 172.8h0M767.5 172.8h0M772.1 172.8h0M776.7 172.8h0M781.3 172.9h0M785.9 173.1h0M790.5 173.4h0M795.1 173.7h0M799.7 173.9h0M804.3 174h0M808.9 174.2h0M813.5 174.4h0M818 174.6h0M822.6 174.8h0M827.1 173.7h0M831.5 172.5h0M836 171.3h0M544.4 49.2h0M552.3 48.1h0M568.6 55.3h0M571.4 56.1h0M580.7 61h0M585.4 60.9h0M593 64.7h0M598.4 68.8h0M601.5 70.1h0M607.9 71.7h0M612.3 74.8h0M616.5 77.2h0M620.8 78.2h0M625.5 79.8h0M629.6 81.7h0M633.4 84.4h0M636.5 87.7h0M639.3 91.4h0M642 95.1h0M644.5 99h0M647 102.8h0M649.5 106.7h0M651.9 110.6h0M654.4 114.5h0M656.8 118.4h0M659.2 122.3h0M661.6 126.2h0M664.1 130.2h0M666.5 134.1h0M669 137.9h0M671.5 141.8h0M674.2 145.5h0M676.9 149.2h0M679.8 152.8h0M682.9 156.2h0M686.2 159.4h0M689.8 162.3h0M693.5 165h0M697.6 167.2h0M701.9 168.7h0M706.4 169.4h0M711 169.4h0M715.6 169.4h0M720.2 169.6h0M724.8 169.9h0M729.4 170.2h0M734 170.2h0M738.6 170.3h0M743.2 170.4h0M747.8 170.6h0M752.4 170.7h0M757 170.9h0M761.6 171h0M766.2 171.1h0M770.8 171.2h0M775.4 171.4h0M780 171.6h0M784.6 171.9h0M789.1 172.3h0M793.7 172.8h0M798.3 173.1h0M802.9 173.3h0M807.5 173.6h0M812.1 173.8h0M816.7 174.1h0M821.3 174.4h0M825.8 173.8h0M830.3 172.7h0M834.7 171.6h0M546 44.4h0M552.1 51.9h0M564.1 56.9h0M571.7 57.3h0M574.7 59.9h0M583.2 60.6h0M592.2 64.7h0M595.3 68.2h0M601.1 68.2h0M604.7 71.5h0M610.2 74.1h0M613.5 76.5h0M620.1 77.2h0M624 79.4h0M628.7 80.7h0M632.8 82.7h0M636.3 85.7h0M639.3 89.2h0M642 92.9h0M644.7 96.6h0M647.2 100.5h0M649.7 104.3h0M652.2 108.2h0M654.6 112.1h0M657 116h0M659.4 120h0M661.8 123.9h0M664.2 127.8h0M666.6 131.8h0M669 135.7h0M671.5 139.5h0M674 143.4h0M676.7 147.2h0M679.5 150.8h0M682.4 154.3h0M685.5 157.7h0M688.9 160.9h0M692.4 163.9h0M696.1 166.5h0M700.2 168.6h0M704.5 170.1h0M709.1 170.7h0M713.7 170.7h0M718.3 170.7h0M722.9 171h0M727.5 171.3h0M732.1 171.3h0M736.7 171.3h0M741.3 171.3h0M745.9 171.4h0M750.5 171.5h0M755.1 171.6h0M759.7 171.7h0M764.3 171.7h0M768.9 171.8h0M773.5 171.9h0M778.1 172.1h0M782.7 172.2h0M787.2 172.6h0M791.8 172.9h0M796.4 173.3h0M801 173.5h0M805.6 173.7h0M810.2 173.9h0M814.8 174.2h0M819.4 174.4h0M824 174.3h0M828.4 173.2h0M832.9 172.1h0M542.4 48.5h0M546.5 46.6h0M566.3 53h0M565.9 54.1h0M570.8 59.4h0M591.4 64.9h0M594.9 69.8h0M603.2 71h0M605.6 73.3h0M613.1 76.1h0M615.8 76.5h0M622.1 78.3h0M626.3 80.3h0M631.1 81.2h0M635.3 83.2h0M638.6 86.4h0M641.7 89.8h0M644.5 93.4h0M647.3 97.1h0M649.9 100.9h0M652.5 104.6h0M655.1 108.5h0M657.6 112.3h0M660.1 116.2h0M662.6 120.1h0M665.1 123.9h0M667.5 127.8h0M670 131.7h0M672.5 135.5h0M675.1 139.3h0M677.8 143.1h0M680.7 146.7h0M683.7 150.2h0M686.8 153.5h0M690.1 156.7h0M693.6 159.7h0M697.4 162.4h0M701.4 164.6h0M705.6 166.3h0M710.1 167.2h0M714.7 167.4h0M719.3 167.7h0M723.9 168h0M728.5 168.4h0M733.1 168.5h0M737.7 168.7h0M742.3 168.9h0M746.9 169.1h0M751.5 169.3h0M756.1 169.6h0M760.7 169.8h0M765.3 170h0M769.9 170.2h0M774.5 170.5h0M779 170.8h0M783.6 171.1h0M788.2 171.6h0M792.8 172.1h0M797.3 172.6h0M801.9 172.9h0M806.5 173.1h0M811.1 173.4h0M815.7 173.8h0M820.3 174.1h0M824.8 173.8h0M829.3 172.8h0M833.8 171.8h0M565.3 54.2h0M579.3 58.5h0M580.9 62.4h0M590.3 66.5h0M601.2 68.7h0M608.3 75.4h0M609.6 73.7h0M614.5 77.4h0M621.1 77.6h0M625.7 79.9h0M630 80.9h0M634.8 82.3h0M638.5 85.1h0M641.7 88.3h0M644.7 91.8h0M647.5 95.5h0M650.2 99.2h0M652.8 103h0M655.3 106.8h0M657.8 110.7h0M660.3 114.6h0M662.7 118.5h0M665.1 122.4h0M667.5 126.3h0M669.9 130.3h0M672.3 134.2h0M674.8 138h0M677.4 141.9h0M680 145.6h0M682.8 149.2h0M685.8 152.8h0M688.9 156.2h0M692.1 159.5h0M695.5 162.5h0M699.2 165.3h0M703.2 167.6h0M707.4 169.3h0M711.9 170.3h0M716.5 170.4h0M721.1 170.7h0M725.7 171h0M730.3 171.1h0M734.9 171.1h0M739.5 171.1h0M744.1 171.2h0M748.7 171.3h0M753.3 171.4h0M757.9 171.5h0M762.5 171.6h0M767.1 171.6h0M771.7 171.7h0M776.3 171.9h0M780.9 172.1h0M785.5 172.3h0M790.1 172.7h0M794.7 173.1h0M799.2 173.4h0M803.8 173.6h0M808.4 173.8h0M813 174h0M817.6 174.3h0M822.2 174.6h0M826.7 173.6h0M831.2 172.5h0M835.6 171.3h0M556 48h0M556 47.9h0M567.5 53.9h0M574.7 58.2h0M579.9 63.1h0M586.5 65.1h0M595.2 69.7h0M598 68.8h0M606.2 71.2h0M610.5 74.8h0M616.4 75.9h0M621.6 79.2h0M626.1 79.5h0M631.1 80.8h0M635.4 82.4h0M639.3 84.8h0M642.8 87.8h0M646 91.2h0M648.9 94.7h0M651.8 98.3h0M654.5 102h0M657.2 105.7h0M659.8 109.5h0M662.4 113.3h0M664.8 117.2h0M667.3 121.1h0M669.8 125h0M672.3 128.8h0M674.8 132.7h0M677.5 136.4h0M680.2 140.1h0M683 143.8h0M685.9 147.3h0M689 150.8h0M692.2 154.1h0M695.6 157.2h0M699.1 160.1h0M703 162.6h0M707.1 164.7h0M711.4 166.1h0M716 166.8h0M720.6 167.2h0M725.1 167.6h0M729.7 167.9h0M734.3 168.1h0M738.9 168.3h0M743.5 168.5h0M748.1 168.8h0M752.7 169.1h0M757.3 169.3h0M761.9 169.5h0M766.5 169.8h0M771.1 170h0M775.7 170.4h0M780.3 170.7h0M784.8 171.1h0M789.4 171.6h0M794 172.1h0M798.6 172.6h0M803.2 172.8h0M807.7 173.1h0M812.3 173.4h0M816.9 173.8h0M821.5 174.2h0M826 173.5h0M830.5 172.5h0M835 171.5h0M553.5 49h0M555.6 57.7h0M584.7 61.8h0M587.8 63.4h0M591.5 67h0M597 67.9h0M602.1 71.9h0M607.6 71.4h0M615.4 76.3h0M618.6 77.1h0M624.2 80.4h0M627.6 81.1h0M633.7 81.6h0M637.6 83.4h0M641.6 85.8h0M645.1 88.8h0M648.3 92.1h0M651.3 95.5h0M654.2 99.1h0M657 102.8h0M659.7 106.5h0M662.3 110.3h0M664.8 114.1h0M667.3 118h0M669.8 121.8h0M672.4 125.7h0M674.9 129.5h0M677.5 133.3h0M680.2 137h0M683 140.7h0M685.8 144.3h0M688.8 147.8h0M691.9 151.2h0M695.2 154.5h0M698.6 157.5h0M702.3 160.3h0M706.2 162.7h0M710.4 164.6h0M714.8 165.9h0M719.3 166.7h0M723.9 167.1h0M728.5 167.4h0M733.1 167.7h0M737.7 167.9h0M742.3 168.1h0M746.9 168.4h0M751.4 168.7h0M756 168.9h0M760.6 169.2h0M765.2 169.5h0M769.8 169.7h0M774.4 170h0M779 170.4h0M783.6 170.8h0M788.1 171.3h0M792.7 171.9h0M797.3 172.4h0M801.9 172.7h0M806.5 172.9h0M811.1 173.3h0M815.6 173.6h0M820.2 174h0M824.8 173.8h0M829.3 172.8h0M833.7 171.7h0M558.9 52.4h0M572.9 59.5h0M594.2 66.4h0M595.1 69.4h0M602.7 72.4h0M609.5 73h0M612.5 75.8h0M617.8 77.8h0M623.4 80.4h0M628.9 81.4h0M633.2 81.7h0M637.5 83.8h0M641.9 85.6h0M645.7 88.2h0M649.1 91.3h0M652.3 94.6h0M655.3 98.1h0M658.2 101.6h0M661 105.3h0M663.6 109.1h0M666.2 112.8h0M668.8 116.7h0M671.4 120.5h0M674 124.3h0M676.6 128.1h0M679.2 131.8h0M682 135.5h0M684.8 139.1h0M687.7 142.7h0M690.7 146.2h0M693.9 149.5h0M697.2 152.8h0M700.6 155.8h0M704.3 158.5h0M708.2 160.9h0M712.4 162.8h0M716.8 164.2h0M721.3 165.1h0M725.9 165.6h0M730.5 166h0M735.1 166.3h0M739.7 166.6h0M744.2 166.9h0M748.8 167.3h0M753.4 167.6h0M758 168h0M762.6 168.3h0M767.2 168.7h0M771.8 169h0M776.3 169.4h0M780.9 169.9h0M785.5 170.4h0M790 171h0M794.6 171.7h0M799.2 172.1h0M803.8 172.4h0M808.4 172.8h0M812.9 173.2h0M817.5 173.6h0M822.1 174h0M826.6 173.2h0M831.1 172.3h0M835.6 171.3h0M551 57.1h0M572.1 60.7h0M587 68.3h0M597 69.3h0M605.5 73.5h0M617.9 79.8h0M622.3 79.2h0M630.6 80.5h0M634.1 82h0M639.2 84.4h0M643.2 86.2h0M647.1 88.7h0M650.7 91.6h0M653.9 94.8h0M657 98.3h0M659.9 101.8h0M662.7 105.5h0M665.3 109.3h0M667.9 113.1h0M670.5 116.9h0M673 120.7h0M675.6 124.5h0M678.2 128.3h0M680.9 132.1h0M683.6 135.8h0M686.4 139.4h0M689.3 143h0M692.3 146.5h0M695.3 149.9h0M698.6 153.2h0M702 156.3h0M705.6 159.1h0M709.5 161.6h0M713.6 163.6h0M717.9 165.2h0M722.4 166.3h0M727 166.7h0M731.6 167h0M736.2 167.3h0M740.8 167.5h0M745.3 167.8h0M749.9 168.1h0M754.5 168.4h0M759.1 168.7h0M763.7 169h0M768.3 169.3h0M772.9 169.6h0M777.5 170h0M782.1 170.4h0M786.6 170.9h0M791.2 171.5h0M795.8 172.1h0M800.3 172.4h0M804.9 172.7h0M809.5 173h0M814.1 173.4h0M818.7 173.8h0M823.3 174.1h0M827.8 173.1h0M832.2 172.1h0M568.2 56.5h0M578 57.5h0M583.8 60.9h0M592.1 69.5h0M606.3 70.7h0M606 71.9h0M617.7 78.7h0M624 78.7h0M626.9 81h0M632.1 81.7h0M637.8 83.6h0M641.9 85.9h0M646.3 87.8h0M650.2 90.3h0M653.8 93.2h0M657.1 96.4h0M660.2 99.8h0M663.1 103.4h0M665.8 107h0M668.5 110.8h0M671.2 114.5h0M673.8 118.3h0M676.5 122h0M679.2 125.8h0M681.9 129.5h0M684.7 133.1h0M687.5 136.7h0M690.5 140.3h0M693.5 143.8h0M696.6 147.2h0M699.8 150.4h0M703.3 153.5h0M706.9 156.3h0M710.8 158.8h0M714.8 160.9h0M719.1 162.7h0M723.5 164h0M728 164.6h0M732.6 165h0M737.2 165.4h0M741.8 165.8h0M746.4 166.2h0M751 166.6h0M755.5 167h0M760.1 167.4h0M764.7 167.8h0M769.3 168.2h0M773.9 168.7h0M778.4 169.1h0M783 169.6h0M787.6 170.3h0M792.1 171h0M796.7 171.6h0M801.2 172h0M805.8 172.3h0M810.4 172.7h0M815 173.2h0M819.6 173.6h0M824.1 173.7h0M828.6 172.7h0M833.1 171.8h0M565 63.9h0M583.9 62.3h0M592.2 68.1h0M602.5 70.8h0M611.8 77.6h0M616.9 77.9h0M624.4 81.3h0M630 82h0M635.1 81.5h0M639.3 83.6h0M644 86.6h0M647.6 88.5h0M651.7 90.8h0M655.3 93.6h0M658.6 96.9h0M661.6 100.3h0M664.4 104h0M667.1 107.7h0M669.7 111.5h0M672.2 115.4h0M674.7 119.2h0M677.3 123.1h0M679.8 126.9h0M682.4 130.7h0M685 134.5h0M687.7 138.2h0M690.4 141.9h0M693.2 145.6h0M696.1 149.1h0M699.1 152.6h0M702.3 156h0M705.7 159.1h0M709.2 162h0M713 164.6h0M717 166.8h0M721.2 168.7h0M725.7 169.9h0M730.2 170.3h0M734.8 170.3h0M739.4 170.4h0M744 170.5h0M748.6 170.7h0M753.2 170.8h0M757.8 171h0M762.4 171.1h0M767 171.2h0M771.6 171.3h0M776.2 171.5h0M780.8 171.7h0M785.4 172h0M790 172.4h0M794.6 172.9h0M799.2 173.2h0M803.7 173.4h0M808.3 173.6h0M812.9 173.9h0M817.5 174.2h0M822.1 174.5h0M826.6 173.6h0M831.1 172.5h0M835.5 171.4h0M573.9 55.7h0M590.3 63.6h0M591.2 65.1h0M600.3 70.5h0M603 71h0M613.2 74.9h0M614.1 76.6h0M622.1 77.7h0M626 80.7h0M632.5 83.2h0M636.9 83.5h0M642.3 85.2h0M646.6 87.7h0M650.8 90h0M654.8 92.3h0M658.4 95.1h0M661.8 98.3h0M664.8 101.7h0M667.7 105.3h0M670.5 109h0M673.2 112.7h0M675.9 116.4h0M678.6 120.1h0M681.3 123.8h0M684.1 127.5h0M686.8 131.2h0M689.7 134.8h0M692.5 138.4h0M695.5 141.9h0M698.5 145.4h0M701.7 148.7h0M705.1 151.9h0M708.6 154.9h0M712.3 157.6h0M716.2 160h0M720.2 162.2h0M724.5 163.9h0M728.9 165h0M733.5 165.5h0M738.1 165.8h0M742.7 166.2h0M747.3 166.6h0M751.8 167h0M756.4 167.3h0M761 167.7h0M765.6 168.1h0M770.2 168.5h0M774.8 168.9h0M779.3 169.4h0M783.9 169.9h0M788.5 170.5h0M793 171.2h0M797.6 171.8h0M802.2 172.1h0M806.7 172.5h0M811.3 172.9h0M815.9 173.3h0M820.5 173.8h0M825 173.5h0M829.5 172.6h0M834 171.6h0M585.3 66.2h0M605.9 72.2h0M613.2 76.9h0M620.5 77.6h0M622.3 80.6h0M627.5 81.9h0M633.5 81.7h0M638.5 83.2h0M643.4 86.6h0M647.8 89h0M652.5 90.8h0M656.6 93h0M660.3 95.8h0M663.6 99h0M666.6 102.5h0M669.5 106h0M672.2 109.7h0M674.9 113.5h0M677.6 117.2h0M680.3 120.9h0M682.9 124.7h0M685.6 128.4h0M688.3 132.2h0M691 135.8h0M693.8 139.5h0M696.7 143.1h0M699.7 146.6h0M702.8 150h0M706 153.3h0M709.4 156.4h0M713 159.3h0M716.7 161.9h0M720.7 164.3h0M724.8 166.3h0M729.2 167.6h0M733.8 168.1h0M738.4 168.3h0M743 168.5h0M747.6 168.7h0M752.2 169h0M756.8 169.3h0M761.4 169.5h0M765.9 169.7h0M770.5 170h0M775.1 170.3h0M779.7 170.6h0M784.3 171h0M788.9 171.5h0M793.4 172.1h0M798 172.5h0M802.6 172.8h0M807.2 173.1h0M811.8 173.4h0M816.4 173.8h0M821 174.1h0M825.5 173.7h0M830 172.6h0M834.5 171.6h0M571.3 62.4h0M586.1 67.4h0M596.5 70.1h0M605.7 71h0M606.7 73.6h0M613.6 78.1h0M621 78.1h0M632.2 82.1h0M637.6 84.9h0M642.4 84.7h0M647.4 88.5h0M650.9 90h0M655.4 92.2h0M659.4 94.3h0M663.1 97.1h0M666.4 100.3h0M669.5 103.7h0M672.4 107.2h0M675.3 110.8h0M678.2 114.4h0M681 118h0M683.8 121.7h0M686.6 125.3h0M689.4 129h0M692.3 132.6h0M695.2 136.1h0M698.2 139.6h0M701.2 143.1h0M704.4 146.4h0M707.7 149.6h0M711.2 152.6h0M714.8 155.4h0M718.6 158h0M722.6 160.4h0M726.7 162.3h0M731.1 163.7h0M735.6 164.5h0M740.2 164.9h0M744.8 165.3h0M749.4 165.8h0M753.9 166.2h0M758.5 166.7h0M763.1 167.1h0M767.7 167.6h0M772.3 168h0M776.8 168.6h0M781.4 169.1h0M786 169.7h0M790.5 170.4h0M795 171.2h0M799.6 171.6h0M804.2 172h0M808.8 172.4h0M813.4 172.9h0M817.9 173.4h0M822.5 173.8h0M827 173h0M831.5 172.1h0M836 171.2h0M591.1 66.4h0M594.3 65.3h0M620 78.6h0M625.5 81.3h0M633.2 81h0M637.7 83.1h0M643.3 85.7h0M647.6 88.2h0M651.8 90.6h0M656 92.3h0M660.1 94.4h0M663.8 97h0M667.2 100.2h0M670.3 103.6h0M673.2 107.1h0M676 110.8h0M678.8 114.5h0M681.5 118.2h0M684.1 121.9h0M686.8 125.7h0M689.4 129.4h0M692.1 133.2h0M694.9 136.9h0M697.6 140.5h0M700.5 144.2h0M703.4 147.7h0M706.5 151.1h0M709.6 154.5h0M713 157.6h0M716.5 160.6h0M720.1 163.4h0M723.9 166h0M728 168.1h0M732.4 169.4h0M737 170h0M741.6 170.1h0M746.2 170.3h0M750.8 170.4h0M755.4 170.6h0M760 170.7h0M764.6 170.9h0M769.2 171h0M773.7 171.2h0M778.3 171.4h0M782.9 171.7h0M787.5 172.1h0M792.1 172.5h0M796.7 173h0M801.3 173.2h0M805.9 173.4h0M810.5 173.7h0M815 174h0M819.6 174.3h0M824.2 174.1h0M828.7 173h0M833.1 171.9h0M581.6 64.1h0M589.4 65.1h0M598.3 68.6h0M606 76.4h0M609.6 74.2h0M618.7 77.7h0M624.6 80.8h0M627.3 81.4h0M634.3 82.5h0M640.9 84.9h0M645.3 85.7h0M649.5 89.2h0M653.9 91.3h0M658.3 93.5h0M662.5 95.6h0M666.3 98.2h0M669.7 101.3h0M672.8 104.6h0M675.8 108.1h0M678.8 111.7h0M681.6 115.3h0M684.4 118.9h0M687.2 122.6h0M689.9 126.3h0M692.7 129.9h0M695.5 133.6h0M698.4 137.2h0M701.3 140.8h0M704.3 144.3h0M707.4 147.7h0M710.6 150.9h0M713.9 154.1h0M717.4 157.1h0M721 159.9h0M724.8 162.5h0M728.9 164.7h0M733.2 166.3h0M737.7 167.3h0M742.3 167.6h0M746.9 167.9h0M751.5 168.2h0M756 168.5h0M760.6 168.8h0M765.2 169.1h0M769.8 169.4h0M774.4 169.8h0M779 170.1h0M783.6 170.5h0M788.1 171.1h0M792.7 171.7h0M797.3 172.2h0M801.9 172.5h0M806.4 172.8h0M811 173.2h0M815.6 173.6h0M820.2 174h0M824.7 173.7h0M829.2 172.7h0M833.7 171.7h0M591.7 65.8h0M598.4 71.4h0M618.3 76.4h0M619 78.1h0M629.3 79.5h0M633.8 83h0M641.6 84.6h0M645.4 86.4h0M649.1 88.9h0M653.8 92.4h0M658.2 93.7h0M662.7 95.6h0M666.6 97.9h0M670.3 100.8h0M673.6 103.9h0M676.8 107.2h0M679.9 110.6h0M682.9 114.1h0M685.8 117.7h0M688.7 121.3h0M691.5 124.9h0M694.4 128.5h0M697.3 132h0M700.3 135.6h0M703.3 139h0M706.4 142.4h0M709.6 145.7h0M712.9 148.9h0M716.4 152h0M719.9 154.9h0M723.6 157.7h0M727.4 160.2h0M731.5 162.3h0M735.8 163.9h0M740.3 164.8h0M744.9 165.3h0M749.5 165.8h0M754.1 166.2h0M758.6 166.7h0M763.2 167.1h0M767.8 167.6h0M772.4 168h0M776.9 168.6h0M781.5 169.1h0M786.1 169.7h0M790.6 170.4h0M795.1 171.2h0M799.7 171.6h0M804.3 172h0M808.9 172.4h0M813.5 172.9h0M818 173.4h0M822.6 173.8h0M827.1 173h0M831.6 172.1h0M836.1 171.2h0M598.5 70.7h0M604.8 75.4h0M610.4 76.6h0M612.4 75.8h0M618.8 79.3h0M622.7 79h0M643 84.7h0M647.4 89.1h0M652.9 89.7h0M657 92.9h0M661.5 95.1h0M665.9 97.3h0M669.8 99.7h0M673.3 102.6h0M676.7 105.8h0M679.8 109.1h0M682.9 112.6h0M685.8 116.1h0M688.7 119.7h0M691.6 123.3h0M694.5 126.9h0M697.3 130.5h0M700.2 134h0M703.2 137.6h0M706.2 141h0M709.3 144.4h0M712.5 147.7h0M715.8 150.9h0M719.2 154h0M722.8 157h0M726.5 159.7h0M730.4 162.1h0M734.5 164.1h0M738.9 165.5h0M743.4 166.3h0M748 166.7h0M752.6 167.1h0M757.2 167.5h0M761.7 167.8h0M766.3 168.2h0M770.9 168.6h0M775.5 169.1h0M780.1 169.5h0M784.6 170h0M789.2 170.7h0M793.7 171.3h0M798.3 171.9h0M802.9 172.2h0M807.5 172.6h0M812.1 173h0M816.6 173.4h0M821.2 173.9h0M825.8 173.4h0M830.3 172.4h0M834.8 171.5h0M599.2 70h0M601.6 71.9h0M616 76.7h0M629.7 80.6h0M638.5 87.2h0M644.4 86.5h0M649.1 90.5h0M655.3 91h0M660 95.3h0M664.2 96.6h0M668.6 98.8h0M672.5 101.2h0M676.1 104.1h0M679.5 107.2h0M682.7 110.6h0M685.7 114h0M688.7 117.5h0M691.6 121h0M694.5 124.6h0M697.4 128.2h0M700.4 131.7h0M703.3 135.2h0M706.3 138.7h0M709.4 142.1h0M712.6 145.5h0M715.9 148.7h0M719.2 151.9h0M722.6 154.9h0M726.2 157.8h0M730 160.4h0M734 162.7h0M738.3 164.4h0M742.7 165.6h0M747.3 166.2h0M751.8 166.6h0M756.4 167h0M761 167.4h0M765.6 167.9h0M770.2 168.3h0M774.7 168.7h0M779.3 169.2h0M783.9 169.7h0M788.4 170.4h0M793 171.1h0M797.6 171.7h0M802.1 172h0M806.7 172.4h0M811.3 172.8h0M815.9 173.3h0M820.5 173.7h0M825 173.5h0M829.5 172.6h0M834 171.6h0M597.6 66.9h0M618.1 78.5h0M626.1 82.8h0M631 81h0M636.3 85h0M640.5 87h0M646.3 87.8h0M653.1 90.6h0M656.5 92.9h0M661.7 95.2h0M666.3 97.8h0M670.5 99.8h0M674.5 102.2h0M678.2 105h0M681.7 108h0M684.9 111.3h0M688 114.7h0M691.1 118.1h0M694.1 121.6h0M697 125.1h0M700 128.7h0M703 132.2h0M706 135.6h0M709.1 139h0M712.2 142.4h0M715.4 145.7h0M718.7 148.9h0M722.1 152h0M725.6 155h0M729.3 157.8h0M733.1 160.3h0M737.2 162.4h0M741.5 164.1h0M745.9 165.2h0M750.5 165.7h0M755.1 166.2h0M759.7 166.6h0M764.2 167.1h0M768.8 167.6h0M773.4 168.1h0M778 168.6h0M782.5 169.1h0M787.1 169.8h0M791.6 170.5h0M796.2 171.3h0M800.7 171.7h0M805.3 172.1h0M809.9 172.4h0M814.5 172.9h0M819 173.5h0M823.6 173.7h0M828.1 172.8h0M832.6 171.9h0M594.6 65.5h0M623.3 79.7h0M628.3 82.5h0M643.6 86.4h0M645.6 87.3h0M654.8 92.6h0M661.5 95.6h0M665.5 97.6h0M669.7 99.5h0M673.9 101.7h0M677.9 104.1h0M681.5 106.9h0M684.9 110h0M688 113.4h0M691.1 116.8h0M694.1 120.2h0M697.1 123.8h0M700 127.3h0M702.9 130.9h0M705.9 134.4h0M708.9 137.9h0M712 141.3h0M715.1 144.7h0M718.3 148h0M721.5 151.3h0M724.9 154.4h0M728.4 157.4h0M732 160.2h0M735.9 162.7h0M740 164.7h0M744.4 166.2h0M748.9 167.1h0M753.5 167.5h0M758 167.9h0M762.6 168.2h0M767.2 168.6h0M771.8 169h0M776.4 169.4h0M781 169.8h0M785.5 170.3h0M790.1 171h0M794.6 171.6h0M799.2 172.1h0M803.8 172.4h0M808.4 172.7h0M813 173.1h0M817.6 173.6h0M822.1 174h0M826.7 173.2h0M831.2 172.3h0M835.7 171.3h0M607.7 79.3h0M620.8 79.3h0M629.2 79.4h0M638.6 83.4h0M644.3 85.8h0M648.7 88.4h0M654.1 92.5h0M658.5 95.4h0M663.1 95.1h0M667.8 99.2h0M672.4 101h0M676.7 103.1h0M680.6 105.4h0M684.3 108.3h0M687.6 111.4h0M690.9 114.6h0M694 118h0M697.1 121.4h0M700.1 124.9h0M703.1 128.4h0M706.1 131.8h0M709.2 135.3h0M712.3 138.7h0M715.4 142.1h0M718.6 145.4h0M721.8 148.7h0M725.1 151.8h0M728.6 154.9h0M732.2 157.8h0M736 160.4h0M740 162.6h0M744.2 164.5h0M748.6 165.7h0M753.1 166.4h0M757.7 166.8h0M762.3 167.3h0M766.9 167.7h0M771.5 168.1h0M776 168.6h0M780.6 169.2h0M785.2 169.7h0M789.7 170.4h0M794.3 171.1h0M798.8 171.7h0M803.4 172h0M808 172.4h0M812.6 172.8h0M817.2 173.3h0M821.7 173.8h0M826.3 173.2h0M830.8 172.3h0M835.3 171.4h0M609.5 72.8h0M618.5 79.4h0M618.1 82.6h0M633.7 85h0M640.4 85.7h0M648.5 87.4h0M653.6 91.4h0M657.3 92.8h0M662.2 96.3h0M667.7 98.6h0M672.3 100.3h0M676.5 103.1h0M680.7 105.2h0M684.6 107.7h0M688.1 110.6h0M691.5 113.7h0M694.8 116.9h0M698 120.2h0M701.1 123.6h0M704.2 127h0M707.3 130.4h0M710.4 133.8h0M713.6 137.1h0M716.8 140.5h0M720 143.8h0M723.2 147h0M726.6 150.1h0M730.1 153.1h0M733.6 156h0M737.4 158.7h0M741.4 161h0M745.6 162.9h0M750 164.3h0M754.5 165.1h0M759 165.7h0M763.6 166.2h0M768.2 166.7h0M772.7 167.3h0M777.3 167.9h0M781.9 168.5h0M786.4 169.2h0M790.9 170h0M795.5 170.8h0M800 171.3h0M804.6 171.7h0M809.2 172.1h0M813.8 172.6h0M818.3 173.2h0M822.9 173.7h0M827.4 172.8h0M832 172h0M836.5 171.1h0M613.4 75.4h0M619.6 79.3h0M627.8 79.7h0M633.8 80.7h0M640.5 84.9h0M647.9 87.8h0M649.6 90.7h0M656.3 92.2h0M663.3 95.7h0M665.7 98.6h0M670.9 100.2h0M674.8 102.6h0M679.6 104.6h0M683.8 106.8h0M687.6 109.3h0M691.2 112.1h0M694.7 115.2h0M698 118.4h0M701.2 121.7h0M704.4 124.9h0M707.6 128.3h0M710.8 131.6h0M714 134.9h0M717.2 138.2h0M720.5 141.4h0M723.8 144.6h0M727.2 147.7h0M730.6 150.8h0M734.1 153.8h0M737.8 156.5h0M741.7 158.9h0M745.9 161h0M750.2 162.6h0M754.6 163.7h0M759.2 164.4h0M763.7 165.1h0M768.3 165.7h0M772.8 166.4h0M777.4 167h0M781.9 167.7h0M786.5 168.5h0M791 169.4h0M795.5 170.3h0M800 170.8h0M804.6 171.3h0M809.2 171.8h0M813.8 172.3h0M818.3 173h0M822.9 173.5h0M827.4 172.7h0M831.9 171.9h0M836.5 171.1h0M623.7 78.2h0M629.6 79.4h0M639.5 85.5h0M646.5 86.6h0M648.8 89.5h0M655.1 91.5h0M658.2 94.8h0M664 95.9h0M669.7 99h0M674.6 102h0M678.6 104.4h0M682.9 106.1h0M687 108.4h0M690.9 110.9h0M694.5 113.8h0M698 116.8h0M701.3 119.9h0M704.6 123.1h0M707.9 126.3h0M711.2 129.6h0M714.5 132.8h0M717.7 136h0M721 139.3h0M724.4 142.4h0M727.8 145.5h0M731.2 148.6h0M734.6 151.6h0M738.3 154.4h0M742.1 156.9h0M746.2 159.1h0M750.4 160.9h0M754.8 162.3h0M759.3 163.3h0M763.8 164h0M768.4 164.8h0M772.9 165.5h0M777.5 166.2h0M782 167h0M786.5 167.9h0M791 168.9h0M795.5 169.8h0M800.1 170.4h0M804.6 170.9h0M809.2 171.4h0M813.8 172.1h0M818.3 172.7h0M822.9 173.3h0M827.4 172.6h0M832 171.9h0M622.1 80.2h0M622.7 83.6h0M632.2 82.2h0M647.4 86.8h0M652.9 89.4h0M657.4 95.2h0M663.2 94.5h0M668.5 97.5h0M672.2 100.2h0M677.5 103.1h0M681.6 105.5h0M686 107.9h0M690.2 110h0M694 112.6h0M697.6 115.4h0M701.1 118.5h0M704.5 121.6h0M707.8 124.8h0M711.1 128h0M714.3 131.2h0M717.6 134.5h0M720.8 137.7h0M724.1 141h0M727.4 144.1h0M730.8 147.3h0M734.2 150.4h0M737.7 153.4h0M741.4 156.1h0M745.3 158.5h0M749.4 160.5h0M753.7 162.2h0M758.1 163.5h0M762.7 164.3h0M767.2 165h0M771.7 165.7h0M776.3 166.4h0M780.8 167.2h0M785.4 167.9h0M789.9 168.9h0M794.4 169.8h0M798.9 170.5h0M803.5 171h0M808.1 171.5h0M812.6 172h0M817.2 172.7h0M821.7 173.3h0M826.3 172.8h0M830.8 172.1h0M835.4 171.3h0M624.3 81.7h0M629.8 84.6h0M637.9 86.6h0M640.2 85.7h0M651.6 89.1h0M659.2 93.8h0M666.1 96.9h0M671.7 99h0M675.4 102.8h0M679.9 105h0M684.6 107.1h0M689 109.3h0M693.1 111.4h0M696.9 114h0M700.5 117h0M703.9 120h0M707.3 123.2h0M710.5 126.4h0M713.7 129.7h0M716.9 133h0M720.1 136.3h0M723.3 139.6h0M726.5 142.9h0M729.7 146.2h0M733 149.5h0M736.3 152.6h0M739.8 155.6h0M743.5 158.3h0M747.5 160.7h0M751.6 162.8h0M755.9 164.4h0M760.3 165.6h0M764.8 166.4h0M769.4 166.9h0M774 167.5h0M778.5 168.1h0M783.1 168.6h0M787.6 169.4h0M792.2 170.2h0M796.7 171h0M801.3 171.4h0M805.9 171.8h0M810.4 172.3h0M815 172.8h0M819.6 173.3h0M824.1 173.5h0M828.7 172.6h0M833.2 171.7h0M629.9 80.1h0M639 83.6h0M639.4 86.3h0M651.3 89.3h0M655.9 92.5h0M661 93.6h0M667.9 97.6h0M670.1 100.1h0M675.1 103.3h0M680.2 104.9h0M684.9 107.3h0M689.4 109.5h0M693.9 111.6h0M697.8 114h0M701.5 116.8h0M705 119.8h0M708.3 123h0M711.5 126.2h0M714.7 129.6h0M717.9 132.9h0M721 136.3h0M724.1 139.7h0M727.2 143.1h0M730.3 146.5h0M733.4 149.8h0M736.7 153.1h0M740.1 156.2h0M743.7 159.1h0M747.5 161.6h0M751.5 163.9h0M755.7 165.8h0M760.1 167.2h0M764.6 168.1h0M769.2 168.5h0M773.7 168.9h0M778.3 169.4h0M782.9 169.8h0M787.4 170.4h0M792 171.1h0M796.6 171.7h0M801.1 172.1h0M805.7 172.4h0M810.3 172.8h0M814.9 173.2h0M819.5 173.7h0M824 173.7h0M828.5 172.8h0M833 171.9h0M632.1 87.7h0M642.6 89.8h0M651 89.4h0M660.2 92.9h0M664.5 95.7h0M665.6 98.5h0M672.1 100.1h0M676.4 102.2h0M681.8 105.4h0M686.5 108.2h0M691.1 110.3h0M695.4 112.3h0M699.4 114.5h0M703.2 117.2h0M706.7 120.1h0M710.1 123.2h0M713.4 126.4h0M716.6 129.7h0M719.7 133.1h0M722.8 136.5h0M725.9 139.9h0M729 143.3h0M732 146.8h0M735.1 150.1h0M738.4 153.4h0M741.8 156.5h0M745.4 159.4h0M749.1 162h0M753.1 164.3h0M757.3 166.2h0M761.7 167.7h0M766.2 168.6h0M770.7 169h0M775.3 169.5h0M779.9 169.9h0M784.5 170.3h0M789 170.9h0M793.6 171.6h0M798.2 172.1h0M802.8 172.4h0M807.3 172.7h0M811.9 173.1h0M816.5 173.5h0M821.1 173.9h0M825.6 173.5h0M830.1 172.5h0M834.6 171.5h0M632.4 83.1h0M643.7 90.2h0M651.1 93.3h0M667.6 99.4h0M672.1 100.1h0M677.6 102.4h0M681.2 105.7h0M687.4 108.6h0M691.5 110.7h0M695.7 112.6h0M700.1 114.5h0M704.1 116.8h0M707.9 119.4h0M711.5 122.3h0M714.9 125.3h0M718.3 128.4h0M721.7 131.6h0M725 134.8h0M728.3 138h0M731.4 141.4h0M734.6 144.7h0M737.9 147.9h0M741.2 151h0M744.8 153.9h0M748.6 156.6h0M752.4 159.1h0M756.5 161.2h0M760.7 163.1h0M765.1 164.6h0M769.5 165.6h0M774.1 166.3h0M778.6 167h0M783.2 167.7h0M787.7 168.6h0M792.2 169.5h0M796.7 170.4h0M801.3 170.8h0M805.9 171.3h0M810.4 171.8h0M815 172.4h0M819.6 173.1h0M824.1 173.2h0M828.7 172.5h0M833.2 171.7h0M636.2 84.1h0M645 86h0M651.3 89.6h0M658.6 92.4h0M662.5 96.1h0M668.3 98.5h0M675.3 101.3h0M677.8 104.9h0M684.5 106.2h0M687.8 108.9h0M693.4 111.6h0M697.5 113.5h0M702.1 115.4h0M706.2 117.5h0M710.1 120h0M713.8 122.7h0M717.4 125.6h0M720.9 128.5h0M724.3 131.6h0M727.8 134.6h0M731 137.9h0M734.3 141.2h0M737.6 144.4h0M741 147.5h0M744.5 150.4h0M748.3 153.1h0M752.1 155.6h0M756.1 157.9h0M760.2 160h0M764.4 161.7h0M768.8 163.2h0M773.3 164.2h0M777.8 165.1h0M782.3 166h0M786.8 167h0M791.3 168.1h0M795.7 169.2h0M800.3 169.8h0M804.9 170.4h0M809.4 170.9h0M814 171.7h0M818.5 172.4h0M823.1 173h0M827.6 172.4h0M832.2 171.7h0M643.3 90.3h0M652.3 91.6h0M664.6 95h0M666.5 99.2h0M672.6 102.1h0M680.2 103.8h0M683.8 105.9h0M688.9 110.3h0M694.1 111.8h0M698.1 113.4h0M702.6 115.6h0M706.9 117.5h0M710.8 119.8h0M714.6 122.5h0M718.2 125.4h0M721.7 128.4h0M725.1 131.4h0M728.5 134.5h0M731.6 137.9h0M734.8 141.2h0M738.1 144.5h0M741.4 147.7h0M744.9 150.6h0M748.5 153.5h0M752.3 156.1h0M756.2 158.5h0M760.2 160.7h0M764.4 162.7h0M768.7 164.2h0M773.2 165.3h0M777.7 166.1h0M782.3 166.9h0M786.8 167.8h0M791.3 168.8h0M795.8 169.8h0M800.3 170.4h0M804.9 170.9h0M809.5 171.4h0M814 172h0M818.6 172.7h0M823.1 173.3h0M827.7 172.5h0M832.2 171.8h0M643.4 93.6h0M647.1 90.5h0M655.2 93.2h0M664.8 96.7h0M670.9 100.3h0M676.2 102h0M680.2 104.7h0M685.1 105.8h0M691.1 109.9h0M696.3 112.4h0M700.3 114.1h0M704.7 116.4h0M709 118.3h0M712.9 120.6h0M716.7 123.3h0M720.2 126.2h0M723.7 129.3h0M727.1 132.4h0M730.2 135.7h0M733.3 139.1h0M736.5 142.5h0M739.6 145.8h0M742.9 149h0M746.4 152.1h0M750 154.9h0M753.7 157.6h0M757.6 160.2h0M761.6 162.4h0M765.7 164.4h0M770.1 165.9h0M774.5 167h0M779.1 167.7h0M783.6 168.3h0M788.2 169.2h0M792.7 170h0M797.2 170.8h0M801.8 171.2h0M806.4 171.7h0M810.9 172.1h0M815.5 172.7h0M820.1 173.3h0M824.6 173.3h0M829.1 172.5h0M833.7 171.6h0M661.8 96.6h0M674.8 106.7h0M680.6 106.1h0M684.9 107.8h0M690.8 110.6h0M695.6 112.4h0M700.5 115.3h0M705.3 116.5h0M709.6 118.4h0M713.6 120.5h0M717.4 123.1h0M721 126h0M724.4 129.1h0M727.8 132.3h0M730.8 135.7h0M733.8 139.2h0M736.9 142.6h0M740 146h0M743.2 149.4h0M746.5 152.5h0M750 155.5h0M753.6 158.4h0M757.3 161.1h0M761.2 163.5h0M765.3 165.7h0M769.6 167.3h0M774 168.6h0M778.5 169.4h0M783.1 169.9h0M787.6 170.5h0M792.2 171.1h0M796.8 171.8h0M801.3 172.1h0M805.9 172.5h0M810.5 172.8h0M815.1 173.3h0M819.7 173.7h0M824.2 173.7h0M828.7 172.8h0M833.2 171.8h0M665 96.5h0M664.9 100.4h0M672.6 101.5h0M682.2 108h0M689.5 109.3h0M695.2 111.4h0M699.7 115.3h0M703.5 116.8h0M708.7 117.9h0M713.1 119.8h0M717.1 122h0M720.9 124.7h0M724.5 127.5h0M728 130.5h0M731.1 133.9h0M734.2 137.3h0M737.3 140.7h0M740.5 144h0M743.7 147.3h0M747.1 150.4h0M750.6 153.4h0M754.2 156.3h0M757.9 159h0M761.7 161.5h0M765.7 163.8h0M770 165.6h0M774.3 167.1h0M778.8 168.1h0M783.3 168.8h0M787.9 169.6h0M792.4 170.4h0M796.9 171.1h0M801.5 171.5h0M806.1 171.9h0M810.7 172.3h0M815.3 172.9h0M819.8 173.4h0M824.4 173.4h0M828.9 172.6h0M833.4 171.7h0M664 100.4h0M668.5 100h0M674.7 103.1h0M681.5 105.1h0M685 108.3h0M692 111.2h0M697.2 112.8h0M702.3 115.3h0M706.9 118h0M711.9 119.1h0M716.2 121.1h0M720.2 123.3h0M724 125.9h0M727.6 128.8h0M730.9 132h0M734 135.4h0M737.2 138.7h0M740.4 142h0M743.6 145.3h0M747 148.4h0M750.4 151.4h0M754 154.4h0M757.7 157.2h0M761.4 159.8h0M765.3 162.2h0M769.5 164.3h0M773.7 165.9h0M778.1 167.3h0M782.6 168.2h0M787.2 169h0M791.7 169.9h0M796.2 170.7h0M800.8 171.2h0M805.4 171.6h0M809.9 172h0M814.5 172.6h0M819.1 173.2h0M823.6 173.5h0M828.2 172.6h0M832.7 171.8h0M658.6 98.5h0M666.4 99.2h0M673.1 100.5h0M676 103.5h0M682.6 105.7h0M689.9 109.2h0M692.3 111.2h0M699.9 115.5h0M704.5 115.9h0M708.9 118h0M713.9 120.3h0M718.4 121.9h0M722.5 124h0M726.4 126.4h0M730 129.2h0M733.4 132.3h0M736.7 135.5h0M740.1 138.6h0M743.4 141.7h0M747 144.7h0M750.6 147.6h0M754.2 150.3h0M757.9 153.1h0M761.7 155.7h0M765.6 158.1h0M769.7 160.3h0M773.8 162.2h0M778.2 163.8h0M782.6 165.2h0M787 166.4h0M791.4 167.6h0M795.9 168.7h0M800.4 169.4h0M805 170h0M809.6 170.6h0M814.1 171.4h0M818.6 172.2h0M823.2 172.8h0M827.7 172.2h0M832.3 171.7h0M663.3 96.3h0M670 100.5h0M674.6 100.5h0M679.3 107.7h0M686.4 106.5h0M691.3 111.2h0M698.5 113.1h0M702.8 115.6h0M708.3 118.4h0M713.3 119.4h0M717.5 121.4h0M721.9 123.3h0M725.9 125.6h0M729.6 128.4h0M732.8 131.6h0M736.1 134.9h0M739.2 138.3h0M742.4 141.6h0M745.7 144.8h0M749.1 147.9h0M752.5 151h0M756 153.9h0M759.6 156.9h0M763.3 159.6h0M767.1 162.1h0M771.2 164.3h0M775.4 166.2h0M779.7 167.7h0M784.2 168.8h0M788.7 169.8h0M793.2 170.5h0M797.8 171.2h0M802.4 171.6h0M806.9 172h0M811.5 172.5h0M816.1 173h0M820.7 173.5h0M825.2 173.3h0M829.7 172.4h0M834.2 171.6h0M660.5 99.2h0M671.9 100.9h0M677.2 107.3h0M688.9 109.2h0M696.3 112.4h0M702.7 116.2h0M708.7 116.8h0M712.8 119.8h0M717.3 121.1h0M721.8 123.1h0M725.9 125.1h0M729.7 127.7h0M733.1 130.8h0M736.4 134h0M739.7 137.2h0M742.9 140.5h0M746.3 143.7h0M749.6 146.8h0M753.1 149.8h0M756.6 152.8h0M760.1 155.8h0M763.7 158.6h0M767.6 161.1h0M771.6 163.4h0M775.7 165.4h0M780 167.1h0M784.4 168.4h0M788.9 169.5h0M793.4 170.3h0M797.9 171h0M802.5 171.4h0M807.1 171.9h0M811.7 172.3h0M816.2 172.9h0M820.8 173.5h0M825.3 173.2h0M829.9 172.4h0M834.4 171.5h0M668.5 98.9h0M676.9 102.8h0M680.2 107.4h0M686.8 108.6h0M693.2 110.2h0M705.4 116.6h0M709.2 118.7h0M714 121.7h0M719.4 122.1h0M723.9 124h0M728.2 125.8h0M731.9 128.5h0M735.4 131.4h0M738.9 134.4h0M742.3 137.5h0M745.9 140.4h0M749.5 143.3h0M753.1 146.1h0M756.7 149h0M760.3 151.8h0M764.1 154.5h0M767.9 157.1h0M771.9 159.4h0M775.9 161.5h0M780.2 163.3h0M784.5 165h0M788.8 166.5h0M793.2 167.8h0M797.7 168.8h0M802.3 169.4h0M806.8 170.1h0M811.4 170.8h0M815.9 171.6h0M820.4 172.4h0M825 172.5h0M829.5 172h0M834.1 171.4h0M678.5 103.5h0M681 106.8h0M692.7 111.3h0M699.2 115.5h0M705.2 117.3h0M715.6 121.5h0M719.7 122.3h0M724.4 124.1h0M728.7 125.9h0M732.5 128.5h0M736 131.5h0M739.5 134.5h0M742.8 137.6h0M746.3 140.6h0M749.8 143.6h0M753.3 146.6h0M756.8 149.6h0M760.3 152.6h0M763.9 155.4h0M767.6 158.1h0M771.5 160.6h0M775.5 162.8h0M779.7 164.8h0M784 166.5h0M788.3 168h0M792.8 169.2h0M797.3 170.1h0M801.8 170.6h0M806.4 171.1h0M811 171.7h0M815.5 172.3h0M820.1 173h0M824.6 173h0M829.2 172.3h0M833.7 171.6h0M678 104.2h0M684.1 109.5h0M691.1 109.7h0M700.9 115.1h0M707.6 117h0M712.9 120.1h0M718 122.1h0M723.4 123.6h0M727.8 125.3h0M731.8 127.7h0M735.6 130.3h0M739.2 133.1h0M742.8 136.1h0M746.5 138.8h0M750.1 141.6h0M753.7 144.4h0M757.4 147.3h0M761 150.1h0M764.6 152.9h0M768.4 155.6h0M772.3 158h0M776.3 160.2h0M780.5 162.2h0M784.7 164.1h0M788.9 165.8h0M793.3 167.3h0M797.7 168.5h0M802.3 169.1h0M806.8 169.8h0M811.4 170.5h0M815.9 171.4h0M820.4 172.3h0M825 172.4h0M829.5 171.9h0M834.1 171.4h0M673.6 100.1h0M686 106.3h0M697.8 113.6h0M708.9 119.2h0M713.3 122.3h0M719.9 122.6h0M725.2 124.3h0M729.5 125.9h0M733.4 128.5h0M737.2 131.1h0M740.9 133.9h0M744.6 136.7h0M748.3 139.4h0M751.9 142.2h0M755.6 145h0M759.2 147.9h0M762.8 150.7h0M766.5 153.5h0M770.2 156.1h0M774.2 158.5h0M778.2 160.7h0M782.3 162.7h0M786.5 164.6h0M790.8 166.4h0M795.1 167.9h0M799.6 168.8h0M804.2 169.4h0M808.7 170.1h0M813.3 170.9h0M817.8 171.8h0M822.3 172.6h0M826.9 172.2h0M831.4 171.7h0M836 171.2h0M684.3 108.7h0M698.8 113.5h0M700.2 114.8h0M714 120.4h0M720.1 122.4h0M724.3 125.5h0M729.8 126.4h0M733.9 128.7h0M737.8 131.2h0M741.5 133.8h0M745.3 136.4h0M749.1 139h0M752.9 141.7h0M756.6 144.5h0M760.2 147.3h0M763.8 150.1h0M767.5 152.9h0M771.3 155.4h0M775.2 157.8h0M779.3 160.1h0M783.4 162.1h0M787.5 164.1h0M791.7 165.9h0M796.1 167.5h0M800.6 168.4h0M805.1 169.1h0M809.7 169.8h0M814.2 170.8h0M818.7 171.7h0M823.2 172.4h0M827.8 172h0M832.4 171.5h0M689.7 112.3h0M699 113.2h0M705.1 117.6h0M709.9 116.9h0M719.4 122.2h0M721.9 122.3h0M727.3 124.7h0M731.1 127.3h0M735.6 129.8h0M739.6 132.2h0M743.5 134.7h0M747.4 137.2h0M751.1 139.8h0M754.9 142.5h0M758.5 145.3h0M762.1 148.2h0M765.8 151h0M769.5 153.7h0M773.4 156.2h0M777.3 158.6h0M781.3 160.8h0M785.4 162.9h0M789.6 164.9h0M793.8 166.7h0M798.2 168h0M802.7 168.8h0M807.3 169.5h0M811.8 170.3h0M816.3 171.2h0M820.8 172.2h0M825.4 172.2h0M829.9 171.8h0M834.5 171.3h0M688.8 112.5h0M704.2 116.8h0M712.9 120.6h0M717.8 123.8h0M725.2 123.7h0M729.3 126.3h0M734.5 128.4h0M738.5 131.4h0M742.5 133.9h0M746.4 136.3h0M750.2 138.9h0M753.9 141.6h0M757.5 144.5h0M761 147.5h0M764.5 150.4h0M768.1 153.3h0M771.8 156h0M775.6 158.6h0M779.5 161h0M783.6 163.2h0M787.6 165.4h0M791.8 167.3h0M796.1 168.9h0M800.6 169.8h0M805.2 170.5h0M809.7 171.1h0M814.3 171.8h0M818.8 172.5h0M823.4 173h0M827.9 172.4h0M832.5 171.7h0M697.5 113h0M704.9 115.8h0M710 119.1h0M716.3 120.3h0M721.6 124.2h0M727.9 125h0M732.8 128h0M737.2 130.3h0M741.1 132.9h0M745.2 135.2h0M749.2 137.5h0M753 140.1h0M756.7 142.7h0M760.3 145.6h0M763.9 148.5h0M767.5 151.4h0M771.2 154.1h0M775 156.7h0M778.9 159.2h0M782.8 161.5h0M786.9 163.7h0M791 165.8h0M795.2 167.7h0M799.6 168.8h0M804.1 169.7h0M808.7 170.4h0M813.2 171.2h0M817.7 172h0M822.3 172.8h0M826.8 172.3h0M831.4 171.8h0M836 171.2h0M704.1 116.4h0M711.6 119.2h0M716.9 120.3h0M720.2 122.7h0M726.9 125.1h0M733.1 127.5h0M736.9 130.4h0M741.3 132.7h0M745.5 135.1h0M749.5 137.4h0M753.3 139.9h0M757 142.7h0M760.4 145.7h0M763.9 148.8h0M767.3 151.8h0M770.9 154.7h0M774.6 157.5h0M778.3 160.1h0M782.2 162.6h0M786.1 165h0M790.2 167.2h0M794.4 169h0M798.8 170.4h0M803.3 171.3h0M807.8 171.9h0M812.4 172.5h0M817 173h0M821.6 173.6h0M826.1 173.1h0M830.6 172.2h0M835.1 171.4h0M701.7 116.8h0M714.9 119h0M718.9 121.3h0M726.3 123.9h0M730.5 125.1h0M735.3 130.3h0M740.1 132.5h0M744.7 134.9h0M748.9 136.7h0M752.9 139h0M756.7 141.6h0M760.2 144.5h0M763.8 147.5h0M767.3 150.4h0M770.9 153.3h0M774.5 156.1h0M778.3 158.8h0M782.1 161.3h0M786 163.7h0M790 166h0M794.2 168h0M798.5 169.5h0M803 170.5h0M807.5 171.3h0M812.1 172h0M816.6 172.6h0M821.2 173.3h0M825.7 173h0M830.3 172.2h0M834.8 171.4h0M711.5 119h0M717.8 121.3h0M721.5 122.5h0M728.9 127.1h0M732.2 128.1h0M738.5 131.6h0M743.6 133.6h0M748.2 136.5h0M752.4 138.4h0M756.3 140.7h0M760 143.5h0M763.6 146.3h0M767.2 149.2h0M770.8 152.1h0M774.5 154.8h0M778.2 157.5h0M782.1 160h0M786 162.5h0M789.9 164.9h0M794 167h0M798.3 168.6h0M802.7 169.8h0M807.2 170.7h0M811.8 171.5h0M816.3 172.3h0M820.8 173h0M825.4 172.8h0M829.9 172.1h0M834.5 171.4h0M715.1 120.3h0M727.1 124.5h0M731.4 128h0M737.5 129.7h0M742.9 133.7h0M747.1 135.6h0M751.8 138h0M755.9 140.1h0M759.7 142.6h0M763.5 145.2h0M767.2 148h0M770.9 150.7h0M774.7 153.3h0M778.5 155.8h0M782.4 158.3h0M786.3 160.8h0M790.2 163.1h0M794.3 165.3h0M798.5 167h0M803 168.3h0M807.4 169.3h0M811.9 170.3h0M816.4 171.3h0M820.9 172.2h0M825.5 172.3h0M830.1 171.8h0M834.6 171.3h0M708.2 120h0M718.4 124.5h0M723 124.2h0M728.7 127.2h0M733.2 129.5h0M738.9 131h0M744.8 134.1h0M748.7 136.5h0M753.4 138.8h0M757.6 140.9h0M761.5 143.3h0M765.3 145.9h0M769 148.6h0M772.9 151.1h0M776.7 153.6h0M780.6 156.1h0M784.5 158.6h0M788.4 161h0M792.3 163.3h0M796.4 165.5h0M800.8 166.9h0M805.2 168.1h0M809.7 169.2h0M814.1 170.3h0M818.6 171.4h0M823.1 172.2h0M827.7 171.8h0M832.3 171.5h0M712.2 120.1h0M718.4 121.9h0M728.1 124.5h0M735.1 128.8h0M739.9 132.5h0M744.1 134.4h0M748.9 136.6h0M753.2 138.7h0M757.9 141h0M761.8 143.4h0M765.6 146h0M769.3 148.7h0M773.1 151.3h0M776.8 154h0M780.6 156.6h0M784.4 159.2h0M788.2 161.8h0M792.1 164.2h0M796.2 166.4h0M800.5 167.9h0M804.9 169.2h0M809.4 170.3h0M813.9 171.4h0M818.4 172.3h0M822.9 173h0M827.5 172.4h0M832 171.7h0M717 120.8h0M730.4 128.1h0M736.2 130.1h0M741.1 132.2h0M744.9 133.7h0M752.1 138.3h0M755.9 140.5h0M760.5 142.4h0M764.4 144.8h0M768.2 147.3h0M772 149.9h0M775.8 152.5h0M779.6 155.1h0M783.5 157.7h0M787.3 160.3h0M791.1 162.8h0M795.1 165.1h0M799.3 166.8h0M803.7 168.2h0M808.1 169.5h0M812.6 170.7h0M817.1 171.7h0M821.6 172.7h0M826.1 172.4h0M830.7 171.8h0M835.2 171.3h0M725.8 124.9h0M731.8 130.1h0M740.9 131.3h0M746.4 136.2h0M749.9 136.8h0M755.3 138.6h0M759.3 141.5h0M763.5 144.1h0M767.4 146.5h0M771.3 149h0M775.1 151.6h0M778.8 154.2h0M782.6 156.9h0M786.4 159.5h0M790.2 162.1h0M794 164.6h0M798.2 166.6h0M802.5 168.2h0M806.9 169.5h0M811.3 170.7h0M815.8 171.9h0M820.3 172.8h0M824.8 172.9h0M829.4 172.2h0M833.9 171.5h0M724.9 126.3h0M735.5 129.2h0M745.3 134.3h0M747.9 137.7h0M754.1 137.6h0M757.5 142.2h0M763 143.6h0M767.2 146.1h0M771.1 148.4h0M775.1 150.8h0M779 153.2h0M782.9 155.7h0M786.7 158.2h0M790.6 160.7h0M794.5 163.1h0M798.7 165h0M803 166.5h0M807.4 167.8h0M811.8 169.2h0M816.2 170.5h0M820.7 171.7h0M825.2 172h0M829.8 171.6h0M834.4 171.3h0M720.6 126.2h0M734.7 128.1h0M740.1 131.3h0M750.8 138.5h0M756.5 140.5h0M760.8 142.1h0M764.8 145h0M769.2 147.3h0M773.2 149.5h0M777.2 151.8h0M781.1 154.3h0M784.9 156.8h0M788.8 159.4h0M792.6 161.9h0M796.6 164.2h0M800.9 165.8h0M805.2 167.3h0M809.6 168.7h0M814 170.1h0M818.4 171.3h0M822.9 172.4h0M827.5 172h0M832.1 171.6h0M732.7 134.6h0M745 136.6h0M750.1 139.3h0M757.6 140.4h0M763 142.4h0M766 145.9h0M770.6 148h0M774.7 150.2h0M778.7 152.5h0M782.6 154.9h0M786.4 157.5h0M790.2 160.1h0M794 162.6h0M798.1 164.7h0M802.4 166.4h0M806.8 167.9h0M811.1 169.3h0M815.5 170.7h0M819.9 171.9h0M824.5 172.4h0M829.1 172h0M833.6 171.5h0M734.7 128h0M740.5 131.9h0M750.1 137.6h0M755 138.7h0M760.2 141.3h0M763.5 144.9h0M768.4 146.8h0M772.7 149.1h0M776.8 151.1h0M780.8 153.5h0M784.6 155.9h0M788.4 158.5h0M792.2 161.1h0M796.1 163.6h0M800.4 165.3h0M804.7 167h0M809 168.4h0M813.4 169.9h0M817.8 171.3h0M822.2 172.5h0M826.8 172.3h0M831.4 171.8h0M835.9 171.2h0M738.6 132.6h0M746.4 135h0M752.1 137.9h0M756 141.7h0M763.1 144.5h0M768.2 146.7h0M772.7 149h0M776.7 151h0M780.8 153.2h0M784.7 155.5h0M788.6 158h0M792.5 160.4h0M796.4 162.8h0M800.8 164.4h0M805.1 165.9h0M809.5 167.4h0M813.8 168.9h0M818.1 170.4h0M822.6 171.7h0M827.2 171.6h0M831.7 171.4h0M741.1 136.1h0M749.7 138h0M756.8 139.2h0M760.3 142.7h0M766.8 145.2h0M771.4 147.6h0M775.5 150.4h0M779.9 152.6h0M784 154.8h0M787.9 157.2h0M791.8 159.7h0M795.7 162.1h0M800 163.7h0M804.3 165.3h0M808.7 166.7h0M813 168.3h0M817.3 169.8h0M821.7 171.3h0M826.3 171.5h0M830.9 171.4h0M835.4 171.2h0M752.4 138.1h0M757.7 142.8h0M762.8 145.2h0M770 146.4h0M772.8 149h0M778.6 152h0M782.8 154.1h0M786.8 156.4h0M790.7 158.8h0M794.6 161.3h0M798.7 163.2h0M803 164.8h0M807.4 166.4h0M811.7 167.9h0M816 169.5h0M820.4 171h0M824.9 171.7h0M829.5 171.5h0M834.1 171.3h0M745.3 136.3h0M756.4 140.1h0M761.6 141.7h0M766.5 145.6h0M771.6 148.4h0M776.4 150.9h0M781.4 153.4h0M785.5 155.5h0M789.4 157.9h0M793.3 160.4h0M797.3 162.6h0M801.6 164.3h0M805.9 165.9h0M810.2 167.4h0M814.5 169.1h0M818.8 170.7h0M823.2 171.9h0M827.8 171.8h0M832.4 171.5h0M748.4 135.1h0M755.3 139.6h0M761.6 142.1h0M767.6 146.6h0M775.7 150.9h0M779.1 152.1h0M783.3 154.2h0M787.6 156.7h0M791.6 159.1h0M795.5 161.5h0M799.7 163.3h0M804 164.9h0M808.3 166.5h0M812.6 168.2h0M816.9 169.9h0M821.3 171.4h0M825.8 171.8h0M830.4 171.6h0M835 171.3h0M760.3 143.5h0M769.8 148h0M774.8 150.5h0M779.6 152.9h0M785 154.8h0M788.8 157.3h0M792.8 159.6h0M796.8 161.8h0M801.2 163.3h0M805.5 164.8h0M809.9 166.3h0M814.1 168h0M818.4 169.7h0M822.8 171.1h0M827.4 171.2h0M832 171.2h0M760.5 145.7h0M762.7 143.8h0M771 148.5h0M773.6 150.9h0M781.7 153.7h0M785.7 155.5h0M790.3 158.1h0M794.4 160.5h0M798.6 162.4h0M802.9 163.9h0M807.2 165.5h0M811.5 167.1h0M815.8 168.9h0M820.1 170.5h0M824.5 171.4h0M829.1 171.5h0M833.7 171.3h0M760.6 145.7h0M768.4 146.8h0M776.4 150.3h0M779.9 152.1h0M786.4 156.6h0M791 158.7h0M795.3 161h0M799.6 162.6h0M803.9 164.2h0M808.2 165.8h0M812.4 167.6h0M816.7 169.4h0M821 171h0M825.5 171.7h0M830.1 171.6h0M834.7 171.3h0M761.9 147.5h0M771 149.2h0M776.2 152.1h0M785.9 154h0M788.1 156.4h0M792.6 159.4h0M797 161.7h0M801.4 163h0M805.7 164.5h0M810.1 166h0M814.3 167.8h0M818.6 169.5h0M822.9 171h0M827.5 171.2h0M832.1 171.2h0M769.8 148.4h0M776.4 152.8h0M782.4 153.5h0M785.3 157.3h0M792.4 159.2h0M796.7 161.6h0M801.4 163h0M805.8 164.3h0M810.2 165.8h0M814.4 167.6h0M818.7 169.3h0M823 170.7h0M827.6 171h0M832.2 171.1h0M772.4 151.6h0M778.5 151.5h0M783.9 156.9h0M787.2 158h0M794.5 160h0M799.2 162.3h0M803.5 163.6h0M807.9 164.9h0M812.2 166.6h0M816.5 168.3h0M820.7 170h0M825.2 170.9h0M829.8 171.1h0M834.4 171.1h0M770.9 151.4h0M786.1 155.7h0M796.1 161.5h0M801.6 163.1h0M806.3 164.4h0M810.7 165.8h0M814.9 167.6h0M819.2 169.3h0M823.5 170.7h0M828.1 171h0M832.7 171.1h0M774.6 150.9h0M795.5 162.7h0M801.7 162.3h0M806.2 164.4h0M810.6 165.7h0M814.9 167.5h0M819.1 169.2h0M823.5 170.6h0M828.1 171h0M832.7 171.1h0M779.9 152.1h0M790.5 158.1h0M794.5 159.3h0M798.9 162.3h0M804.8 164.3h0M809.7 165.3h0M814 167h0M818.3 168.7h0M822.6 170.4h0M827.1 170.8h0M831.7 171h0M836.3 171.1h0M784.2 154.5h0M786.2 161.1h0M796.9 161.7h0M802.4 163.5h0M807.7 164.4h0M812.3 166.3h0M816.6 167.9h0M820.9 169.6h0M825.3 170.4h0M829.9 170.8h0M834.5 171h0M787.4 157.1h0M808.7 165h0M813.4 166.7h0M817.7 168.3h0M822 170h0M826.6 170.6h0M831.2 170.9h0M835.8 171.1h0M790.3 156.9h0M798.1 161.6h0M810.2 164.9h0M815 167.3h0M819.3 168.9h0M823.7 170.2h0M828.3 170.6h0M832.9 170.9h0M795.3 159.3h0M807.8 166.1h0M812.8 167.9h0M818.1 168.2h0M822.5 170h0M827.1 170.5h0M831.7 170.8h0M836.3 171.1h0M797.9 165.4h0M803.1 166.1h0M811.4 165.2h0M816 168.5h0M821.7 169.8h0M826.2 170.3h0M830.8 170.7h0M835.4 171h0M801.9 163.7h0M806 165h0M820.7 170.2h0M825.5 170.3h0M830.1 170.6h0M834.7 171h0M804.1 163.4h0M812.7 168h0M817 169.1h0M822.8 169.6h0M828 170.4h0M832.6 170.8h0M807.5 163.4h0M818 168.1h0M820.5 169.4h0M826.9 170.3h0M831.7 170.7h0M809.6 166.9h0M823.1 169.1h0M830.6 170.9h0M835.3 171h0M820.3 171.2h0M825 170.3h0M831.1 170.4h0M835.9 171h0M820 169.1h0M827.1 169.2h0M833.3 170.3h0M823.1 169.8h0M834.3 169.6h0" stroke="#808080" stroke-width="5.3" stroke-linecap="round" fill="none"/></g>
<clipPath id="ca"><rect x="111.2" y="18.2" width="780.4" height="445.7"/></clipPath>
<clipPath id="cb"><rect x="111.2" y="542.0" width="780.4" height="445.29999999999995"/></clipPath>
<linearGradient id="cbar" x1="0" x2="1" y1="0" y2="0"><stop offset="0.000" stop-color="#1f2d6a"/><stop offset="0.050" stop-color="#213f88"/><stop offset="0.100" stop-color="#2a55a0"/><stop offset="0.150" stop-color="#3a72b7"/><stop offset="0.200" stop-color="#4b90cc"/><stop offset="0.250" stop-color="#6cb0dd"/><stop offset="0.290" stop-color="#92cdee"/><stop offset="0.325" stop-color="#ade0f5"/><stop offset="0.360" stop-color="#c4e8f7"/><stop offset="0.400" stop-color="#dcf1f9"/><stop offset="0.440" stop-color="#f1f9fd"/><stop offset="0.470" stop-color="#ffffff"/><stop offset="0.530" stop-color="#ffffff"/><stop offset="0.560" stop-color="#fef7e0"/><stop offset="0.600" stop-color="#fcebb0"/><stop offset="0.650" stop-color="#fad98b"/><stop offset="0.700" stop-color="#f9c263"/><stop offset="0.740" stop-color="#f8a747"/><stop offset="0.775" stop-color="#f7923a"/><stop offset="0.810" stop-color="#f07b31"/><stop offset="0.850" stop-color="#e65c2c"/><stop offset="0.890" stop-color="#db452a"/><stop offset="0.930" stop-color="#ce282a"/><stop offset="0.960" stop-color="#c41d26"/><stop offset="1.000" stop-color="#8e1a1e"/></linearGradient>
<clipPath id="cgc"><rect x="1025.5" y="92.7" width="483.0999999999999" height="371.1"/></clipPath>
<radialGradient id="gc0"><stop offset="0.000" stop-color="#fef6da" stop-opacity="1.0"/><stop offset="0.125" stop-color="#fef6da" stop-opacity="1.0"/><stop offset="0.250" stop-color="#fef6dc" stop-opacity="1.0"/><stop offset="0.375" stop-color="#fef7e0" stop-opacity="1.0"/><stop offset="0.500" stop-color="#fef8e5" stop-opacity="1.0"/><stop offset="0.625" stop-color="#fefaeb" stop-opacity="1.0"/><stop offset="0.750" stop-color="#fffcf3" stop-opacity="1.0"/><stop offset="0.875" stop-color="#fffefc" stop-opacity="1.0"/><stop offset="1.000" stop-color="#ffffff" stop-opacity="0.0"/></radialGradient>
<radialGradient id="gc1"><stop offset="0.000" stop-color="#b7e3f6" stop-opacity="1.0"/><stop offset="0.125" stop-color="#b8e4f6" stop-opacity="1.0"/><stop offset="0.250" stop-color="#bce5f6" stop-opacity="1.0"/><stop offset="0.375" stop-color="#c5e8f7" stop-opacity="1.0"/><stop offset="0.500" stop-color="#d1edf8" stop-opacity="1.0"/><stop offset="0.625" stop-color="#e0f2fa" stop-opacity="1.0"/><stop offset="0.750" stop-color="#eef8fc" stop-opacity="1.0"/><stop offset="0.875" stop-color="#f9fcfe" stop-opacity="1.0"/><stop offset="1.000" stop-color="#ffffff" stop-opacity="0.0"/></radialGradient>
<radialGradient id="gc2"><stop offset="0.000" stop-color="#d4372a" stop-opacity="1.0"/><stop offset="0.125" stop-color="#d63a2a" stop-opacity="1.0"/><stop offset="0.250" stop-color="#de4b2b" stop-opacity="1.0"/><stop offset="0.375" stop-color="#eb6c2f" stop-opacity="1.0"/><stop offset="0.500" stop-color="#f79c40" stop-opacity="1.0"/><stop offset="0.625" stop-color="#f9cb73" stop-opacity="1.0"/><stop offset="0.750" stop-color="#fce8a9" stop-opacity="1.0"/><stop offset="0.875" stop-color="#fef8e3" stop-opacity="1.0"/><stop offset="1.000" stop-color="#ffffff" stop-opacity="0.0"/></radialGradient>
<radialGradient id="gc3"><stop offset="0.000" stop-color="#1f2d6a" stop-opacity="1.0"/><stop offset="0.125" stop-color="#1f2f6e" stop-opacity="1.0"/><stop offset="0.250" stop-color="#213b81" stop-opacity="1.0"/><stop offset="0.375" stop-color="#2b57a2" stop-opacity="1.0"/><stop offset="0.500" stop-color="#498dca" stop-opacity="1.0"/><stop offset="0.625" stop-color="#94cfef" stop-opacity="1.0"/><stop offset="0.750" stop-color="#cfecf8" stop-opacity="1.0"/><stop offset="0.875" stop-color="#f1f9fd" stop-opacity="1.0"/><stop offset="1.000" stop-color="#ffffff" stop-opacity="0.0"/></radialGradient>
<radialGradient id="gc4"><stop offset="0.000" stop-color="#b01c23" stop-opacity="1.0"/><stop offset="0.125" stop-color="#b81c24" stop-opacity="1.0"/><stop offset="0.250" stop-color="#cb2529" stop-opacity="1.0"/><stop offset="0.375" stop-color="#de4c2b" stop-opacity="1.0"/><stop offset="0.500" stop-color="#f48736" stop-opacity="1.0"/><stop offset="0.625" stop-color="#f9c263" stop-opacity="1.0"/><stop offset="0.750" stop-color="#fbe5a3" stop-opacity="1.0"/><stop offset="0.875" stop-color="#fef7e1" stop-opacity="1.0"/><stop offset="1.000" stop-color="#ffffff" stop-opacity="0.0"/></radialGradient>
<radialGradient id="gc5"><stop offset="0.000" stop-color="#a1d8f2" stop-opacity="1.0"/><stop offset="0.125" stop-color="#a3d9f2" stop-opacity="1.0"/><stop offset="0.250" stop-color="#a9ddf4" stop-opacity="1.0"/><stop offset="0.375" stop-color="#b5e3f6" stop-opacity="1.0"/><stop offset="0.500" stop-color="#c6e9f7" stop-opacity="1.0"/><stop offset="0.625" stop-color="#d9f0f9" stop-opacity="1.0"/><stop offset="0.750" stop-color="#eaf6fc" stop-opacity="1.0"/><stop offset="0.875" stop-color="#f8fcfe" stop-opacity="1.0"/><stop offset="1.000" stop-color="#ffffff" stop-opacity="0.0"/></radialGradient>
<radialGradient id="gc6"><stop offset="0.000" stop-color="#fdf2ce" stop-opacity="1.0"/><stop offset="0.125" stop-color="#fdf3ce" stop-opacity="1.0"/><stop offset="0.250" stop-color="#fdf3d1" stop-opacity="1.0"/><stop offset="0.375" stop-color="#fef4d5" stop-opacity="1.0"/><stop offset="0.500" stop-color="#fef6dd" stop-opacity="1.0"/><stop offset="0.625" stop-color="#fef9e6" stop-opacity="1.0"/><stop offset="0.750" stop-color="#fffbf0" stop-opacity="1.0"/><stop offset="0.875" stop-color="#fffefa" stop-opacity="1.0"/><stop offset="1.000" stop-color="#ffffff" stop-opacity="0.0"/></radialGradient>
<clipPath id="cgd"><rect x="1025.5" y="541.3" width="483.0999999999999" height="446.20000000000005"/></clipPath>
<radialGradient id="gd0"><stop offset="0.000" stop-color="#fef6da" stop-opacity="1.0"/><stop offset="0.125" stop-color="#fef6da" stop-opacity="1.0"/><stop offset="0.250" stop-color="#fef6dc" stop-opacity="1.0"/><stop offset="0.375" stop-color="#fef7e0" stop-opacity="1.0"/><stop offset="0.500" stop-color="#fef8e5" stop-opacity="1.0"/><stop offset="0.625" stop-color="#fefaeb" stop-opacity="1.0"/><stop offset="0.750" stop-color="#fffcf3" stop-opacity="1.0"/><stop offset="0.875" stop-color="#fffefc" stop-opacity="1.0"/><stop offset="1.000" stop-color="#ffffff" stop-opacity="0.0"/></radialGradient>
<radialGradient id="gd1"><stop offset="0.000" stop-color="#b7e3f6" stop-opacity="1.0"/><stop offset="0.125" stop-color="#b8e4f6" stop-opacity="1.0"/><stop offset="0.250" stop-color="#bce5f6" stop-opacity="1.0"/><stop offset="0.375" stop-color="#c5e8f7" stop-opacity="1.0"/><stop offset="0.500" stop-color="#d1edf8" stop-opacity="1.0"/><stop offset="0.625" stop-color="#e0f2fa" stop-opacity="1.0"/><stop offset="0.750" stop-color="#eef8fc" stop-opacity="1.0"/><stop offset="0.875" stop-color="#f9fcfe" stop-opacity="1.0"/><stop offset="1.000" stop-color="#ffffff" stop-opacity="0.0"/></radialGradient>
<radialGradient id="gd2"><stop offset="0.000" stop-color="#d4372a" stop-opacity="1.0"/><stop offset="0.125" stop-color="#d63a2a" stop-opacity="1.0"/><stop offset="0.250" stop-color="#de4b2b" stop-opacity="1.0"/><stop offset="0.375" stop-color="#eb6c2f" stop-opacity="1.0"/><stop offset="0.500" stop-color="#f79c40" stop-opacity="1.0"/><stop offset="0.625" stop-color="#f9cb73" stop-opacity="1.0"/><stop offset="0.750" stop-color="#fce8a9" stop-opacity="1.0"/><stop offset="0.875" stop-color="#fef8e3" stop-opacity="1.0"/><stop offset="1.000" stop-color="#ffffff" stop-opacity="0.0"/></radialGradient>
<radialGradient id="gd3"><stop offset="0.000" stop-color="#1f2d6a" stop-opacity="1.0"/><stop offset="0.125" stop-color="#1f2f6e" stop-opacity="1.0"/><stop offset="0.250" stop-color="#213b81" stop-opacity="1.0"/><stop offset="0.375" stop-color="#2b57a2" stop-opacity="1.0"/><stop offset="0.500" stop-color="#498dca" stop-opacity="1.0"/><stop offset="0.625" stop-color="#94cfef" stop-opacity="1.0"/><stop offset="0.750" stop-color="#cfecf8" stop-opacity="1.0"/><stop offset="0.875" stop-color="#f1f9fd" stop-opacity="1.0"/><stop offset="1.000" stop-color="#ffffff" stop-opacity="0.0"/></radialGradient>
<radialGradient id="gd4"><stop offset="0.000" stop-color="#b01c23" stop-opacity="1.0"/><stop offset="0.125" stop-color="#b81c24" stop-opacity="1.0"/><stop offset="0.250" stop-color="#cb2529" stop-opacity="1.0"/><stop offset="0.375" stop-color="#de4c2b" stop-opacity="1.0"/><stop offset="0.500" stop-color="#f48736" stop-opacity="1.0"/><stop offset="0.625" stop-color="#f9c263" stop-opacity="1.0"/><stop offset="0.750" stop-color="#fbe5a3" stop-opacity="1.0"/><stop offset="0.875" stop-color="#fef7e1" stop-opacity="1.0"/><stop offset="1.000" stop-color="#ffffff" stop-opacity="0.0"/></radialGradient>
<radialGradient id="gd5"><stop offset="0.000" stop-color="#a1d8f2" stop-opacity="1.0"/><stop offset="0.125" stop-color="#a3d9f2" stop-opacity="1.0"/><stop offset="0.250" stop-color="#a9ddf4" stop-opacity="1.0"/><stop offset="0.375" stop-color="#b5e3f6" stop-opacity="1.0"/><stop offset="0.500" stop-color="#c6e9f7" stop-opacity="1.0"/><stop offset="0.625" stop-color="#d9f0f9" stop-opacity="1.0"/><stop offset="0.750" stop-color="#eaf6fc" stop-opacity="1.0"/><stop offset="0.875" stop-color="#f8fcfe" stop-opacity="1.0"/><stop offset="1.000" stop-color="#ffffff" stop-opacity="0.0"/></radialGradient>
<radialGradient id="gd6"><stop offset="0.000" stop-color="#fdf2ce" stop-opacity="1.0"/><stop offset="0.125" stop-color="#fdf3ce" stop-opacity="1.0"/><stop offset="0.250" stop-color="#fdf3d1" stop-opacity="1.0"/><stop offset="0.375" stop-color="#fef4d5" stop-opacity="1.0"/><stop offset="0.500" stop-color="#fef6dd" stop-opacity="1.0"/><stop offset="0.625" stop-color="#fef9e6" stop-opacity="1.0"/><stop offset="0.750" stop-color="#fffbf0" stop-opacity="1.0"/><stop offset="0.875" stop-color="#fffefa" stop-opacity="1.0"/><stop offset="1.000" stop-color="#ffffff" stop-opacity="0.0"/></radialGradient>
<clipPath id="ce"><rect x="1610.4" y="14.3" width="322.6999999999998" height="453.5"/></clipPath>
<clipPath id="cf"><rect x="1610.4" y="537.9" width="322.6999999999998" height="453.4"/></clipPath></defs>
<g clip-path="url(#ca)"><use href="#lib"/>
<path d="M160.9 446.9L169.8 435.1L174.3 429.3L186.2 410.5L198 391.5L214.6 358.8L228 325.3L240.6 298.4L255.3 268.4L267 238.6L275.3 223L294.5 185.7L308.3 159.6L321.9 137.4L335.2 115.2L348.8 100.9L360 85.2L371.5 75.6L384.8 60.4L402.3 50.8L408.8 46.1L423.9 40.4L441.9 34.9L453.1 29.9L474.3 28.3L494.2 31.2L513.3 34.5L529.2 39.6L544.6 44.6L558.6 50.2L571.1 55.8L581.8 60.5L593 66.1L607 72.6L620.9 78.7L634.9 82.1L648.9 89.1L661.5 95L675.4 102.5L689.4 109.5L701.5 115.1L715.4 120.7L728.6 125.7L742.6 133.8L756.5 140.2L769.1 147.2L783.5 154.4L796.1 161.4L810 165.4L822.3 170L836.6 171.1L822.9 175.4L808.4 175.4L796 175.4L784.2 175.4L770.5 176L756.5 177.2L741.7 178L728.6 179.4L716 179.4L702 180.8L689.4 182.2L676.8 184.4L664.3 185.5L651.7 187.8L634.3 191.1L623.7 194.8L609.7 197.6L595.8 201.8L583.2 206L567.8 210.2L553.8 214.3L544 218.5L527.2 224.1L514.7 228.3L499.3 235.3L487.5 241.7L474.4 248.3L460.1 256.1L447 263.9L432.7 273.1L423.5 277L409.1 284.2L391.5 292.6L380.6 296.8L368 301L352.1 306L341.2 307.7L327.3 308.1L313.5 308.5L298.4 309.3L285.8 310.2L269.9 318.6L259 326.1L243.9 338.7L232.2 351.3L216.2 370.6L202 394L189.4 414.6L183.2 421.4L160.9 446.9Z" fill="none" stroke="#367ba6" stroke-width="3.6" stroke-linejoin="round"/>
<path d="M155.2 446.9a5.7 5.7 0 1 0 11.4 0a5.7 5.7 0 1 0 -11.4 0M164.1 435.1a5.7 5.7 0 1 0 11.4 0a5.7 5.7 0 1 0 -11.4 0M168.6 429.3a5.7 5.7 0 1 0 11.4 0a5.7 5.7 0 1 0 -11.4 0M180.5 410.5a5.7 5.7 0 1 0 11.4 0a5.7 5.7 0 1 0 -11.4 0M192.3 391.5a5.7 5.7 0 1 0 11.4 0a5.7 5.7 0 1 0 -11.4 0M208.9 358.8a5.7 5.7 0 1 0 11.4 0a5.7 5.7 0 1 0 -11.4 0M222.3 325.3a5.7 5.7 0 1 0 11.4 0a5.7 5.7 0 1 0 -11.4 0M234.9 298.4a5.7 5.7 0 1 0 11.4 0a5.7 5.7 0 1 0 -11.4 0M249.6 268.4a5.7 5.7 0 1 0 11.4 0a5.7 5.7 0 1 0 -11.4 0M261.3 238.6a5.7 5.7 0 1 0 11.4 0a5.7 5.7 0 1 0 -11.4 0M269.6 223a5.7 5.7 0 1 0 11.4 0a5.7 5.7 0 1 0 -11.4 0M288.8 185.7a5.7 5.7 0 1 0 11.4 0a5.7 5.7 0 1 0 -11.4 0M302.6 159.6a5.7 5.7 0 1 0 11.4 0a5.7 5.7 0 1 0 -11.4 0M316.2 137.4a5.7 5.7 0 1 0 11.4 0a5.7 5.7 0 1 0 -11.4 0M329.5 115.2a5.7 5.7 0 1 0 11.4 0a5.7 5.7 0 1 0 -11.4 0M343.1 100.9a5.7 5.7 0 1 0 11.4 0a5.7 5.7 0 1 0 -11.4 0M354.3 85.2a5.7 5.7 0 1 0 11.4 0a5.7 5.7 0 1 0 -11.4 0M365.8 75.6a5.7 5.7 0 1 0 11.4 0a5.7 5.7 0 1 0 -11.4 0M379.1 60.4a5.7 5.7 0 1 0 11.4 0a5.7 5.7 0 1 0 -11.4 0M396.6 50.8a5.7 5.7 0 1 0 11.4 0a5.7 5.7 0 1 0 -11.4 0M403.1 46.1a5.7 5.7 0 1 0 11.4 0a5.7 5.7 0 1 0 -11.4 0M418.2 40.4a5.7 5.7 0 1 0 11.4 0a5.7 5.7 0 1 0 -11.4 0M436.2 34.9a5.7 5.7 0 1 0 11.4 0a5.7 5.7 0 1 0 -11.4 0M447.4 29.9a5.7 5.7 0 1 0 11.4 0a5.7 5.7 0 1 0 -11.4 0M468.6 28.3a5.7 5.7 0 1 0 11.4 0a5.7 5.7 0 1 0 -11.4 0M488.5 31.2a5.7 5.7 0 1 0 11.4 0a5.7 5.7 0 1 0 -11.4 0M507.6 34.5a5.7 5.7 0 1 0 11.4 0a5.7 5.7 0 1 0 -11.4 0M523.5 39.6a5.7 5.7 0 1 0 11.4 0a5.7 5.7 0 1 0 -11.4 0M538.9 44.6a5.7 5.7 0 1 0 11.4 0a5.7 5.7 0 1 0 -11.4 0M552.9 50.2a5.7 5.7 0 1 0 11.4 0a5.7 5.7 0 1 0 -11.4 0M565.4 55.8a5.7 5.7 0 1 0 11.4 0a5.7 5.7 0 1 0 -11.4 0M576.1 60.5a5.7 5.7 0 1 0 11.4 0a5.7 5.7 0 1 0 -11.4 0M587.3 66.1a5.7 5.7 0 1 0 11.4 0a5.7 5.7 0 1 0 -11.4 0M601.3 72.6a5.7 5.7 0 1 0 11.4 0a5.7 5.7 0 1 0 -11.4 0M615.2 78.7a5.7 5.7 0 1 0 11.4 0a5.7 5.7 0 1 0 -11.4 0M629.2 82.1a5.7 5.7 0 1 0 11.4 0a5.7 5.7 0 1 0 -11.4 0M643.2 89.1a5.7 5.7 0 1 0 11.4 0a5.7 5.7 0 1 0 -11.4 0M655.8 95a5.7 5.7 0 1 0 11.4 0a5.7 5.7 0 1 0 -11.4 0M669.7 102.5a5.7 5.7 0 1 0 11.4 0a5.7 5.7 0 1 0 -11.4 0M683.7 109.5a5.7 5.7 0 1 0 11.4 0a5.7 5.7 0 1 0 -11.4 0M695.8 115.1a5.7 5.7 0 1 0 11.4 0a5.7 5.7 0 1 0 -11.4 0M709.7 120.7a5.7 5.7 0 1 0 11.4 0a5.7 5.7 0 1 0 -11.4 0M722.9 125.7a5.7 5.7 0 1 0 11.4 0a5.7 5.7 0 1 0 -11.4 0M736.9 133.8a5.7 5.7 0 1 0 11.4 0a5.7 5.7 0 1 0 -11.4 0M750.8 140.2a5.7 5.7 0 1 0 11.4 0a5.7 5.7 0 1 0 -11.4 0M763.4 147.2a5.7 5.7 0 1 0 11.4 0a5.7 5.7 0 1 0 -11.4 0M777.8 154.4a5.7 5.7 0 1 0 11.4 0a5.7 5.7 0 1 0 -11.4 0M790.4 161.4a5.7 5.7 0 1 0 11.4 0a5.7 5.7 0 1 0 -11.4 0M804.3 165.4a5.7 5.7 0 1 0 11.4 0a5.7 5.7 0 1 0 -11.4 0M816.6 170a5.7 5.7 0 1 0 11.4 0a5.7 5.7 0 1 0 -11.4 0M830.9 171.1a5.7 5.7 0 1 0 11.4 0a5.7 5.7 0 1 0 -11.4 0M177.5 421.4a5.7 5.7 0 1 0 11.4 0a5.7 5.7 0 1 0 -11.4 0M183.7 414.6a5.7 5.7 0 1 0 11.4 0a5.7 5.7 0 1 0 -11.4 0M196.3 394a5.7 5.7 0 1 0 11.4 0a5.7 5.7 0 1 0 -11.4 0M210.5 370.6a5.7 5.7 0 1 0 11.4 0a5.7 5.7 0 1 0 -11.4 0M226.5 351.3a5.7 5.7 0 1 0 11.4 0a5.7 5.7 0 1 0 -11.4 0M238.2 338.7a5.7 5.7 0 1 0 11.4 0a5.7 5.7 0 1 0 -11.4 0M253.3 326.1a5.7 5.7 0 1 0 11.4 0a5.7 5.7 0 1 0 -11.4 0M264.2 318.6a5.7 5.7 0 1 0 11.4 0a5.7 5.7 0 1 0 -11.4 0M280.1 310.2a5.7 5.7 0 1 0 11.4 0a5.7 5.7 0 1 0 -11.4 0M292.7 309.3a5.7 5.7 0 1 0 11.4 0a5.7 5.7 0 1 0 -11.4 0M307.8 308.5a5.7 5.7 0 1 0 11.4 0a5.7 5.7 0 1 0 -11.4 0M321.6 308.1a5.7 5.7 0 1 0 11.4 0a5.7 5.7 0 1 0 -11.4 0M335.5 307.7a5.7 5.7 0 1 0 11.4 0a5.7 5.7 0 1 0 -11.4 0M346.4 306a5.7 5.7 0 1 0 11.4 0a5.7 5.7 0 1 0 -11.4 0M362.3 301a5.7 5.7 0 1 0 11.4 0a5.7 5.7 0 1 0 -11.4 0M374.9 296.8a5.7 5.7 0 1 0 11.4 0a5.7 5.7 0 1 0 -11.4 0M385.8 292.6a5.7 5.7 0 1 0 11.4 0a5.7 5.7 0 1 0 -11.4 0M403.4 284.2a5.7 5.7 0 1 0 11.4 0a5.7 5.7 0 1 0 -11.4 0M417.8 277a5.7 5.7 0 1 0 11.4 0a5.7 5.7 0 1 0 -11.4 0M427 273.1a5.7 5.7 0 1 0 11.4 0a5.7 5.7 0 1 0 -11.4 0M441.3 263.9a5.7 5.7 0 1 0 11.4 0a5.7 5.7 0 1 0 -11.4 0M454.4 256.1a5.7 5.7 0 1 0 11.4 0a5.7 5.7 0 1 0 -11.4 0M468.7 248.3a5.7 5.7 0 1 0 11.4 0a5.7 5.7 0 1 0 -11.4 0M481.8 241.7a5.7 5.7 0 1 0 11.4 0a5.7 5.7 0 1 0 -11.4 0M493.6 235.3a5.7 5.7 0 1 0 11.4 0a5.7 5.7 0 1 0 -11.4 0M509 228.3a5.7 5.7 0 1 0 11.4 0a5.7 5.7 0 1 0 -11.4 0M521.5 224.1a5.7 5.7 0 1 0 11.4 0a5.7 5.7 0 1 0 -11.4 0M538.3 218.5a5.7 5.7 0 1 0 11.4 0a5.7 5.7 0 1 0 -11.4 0M548.1 214.3a5.7 5.7 0 1 0 11.4 0a5.7 5.7 0 1 0 -11.4 0M562.1 210.2a5.7 5.7 0 1 0 11.4 0a5.7 5.7 0 1 0 -11.4 0M577.5 206a5.7 5.7 0 1 0 11.4 0a5.7 5.7 0 1 0 -11.4 0M590.1 201.8a5.7 5.7 0 1 0 11.4 0a5.7 5.7 0 1 0 -11.4 0M604 197.6a5.7 5.7 0 1 0 11.4 0a5.7 5.7 0 1 0 -11.4 0M618 194.8a5.7 5.7 0 1 0 11.4 0a5.7 5.7 0 1 0 -11.4 0M628.6 191.1a5.7 5.7 0 1 0 11.4 0a5.7 5.7 0 1 0 -11.4 0M646 187.8a5.7 5.7 0 1 0 11.4 0a5.7 5.7 0 1 0 -11.4 0M658.6 185.5a5.7 5.7 0 1 0 11.4 0a5.7 5.7 0 1 0 -11.4 0M671.1 184.4a5.7 5.7 0 1 0 11.4 0a5.7 5.7 0 1 0 -11.4 0M683.7 182.2a5.7 5.7 0 1 0 11.4 0a5.7 5.7 0 1 0 -11.4 0M696.3 180.8a5.7 5.7 0 1 0 11.4 0a5.7 5.7 0 1 0 -11.4 0M710.3 179.4a5.7 5.7 0 1 0 11.4 0a5.7 5.7 0 1 0 -11.4 0M722.9 179.4a5.7 5.7 0 1 0 11.4 0a5.7 5.7 0 1 0 -11.4 0M736 178a5.7 5.7 0 1 0 11.4 0a5.7 5.7 0 1 0 -11.4 0M750.8 177.2a5.7 5.7 0 1 0 11.4 0a5.7 5.7 0 1 0 -11.4 0M764.8 176a5.7 5.7 0 1 0 11.4 0a5.7 5.7 0 1 0 -11.4 0M778.5 175.4a5.7 5.7 0 1 0 11.4 0a5.7 5.7 0 1 0 -11.4 0M790.3 175.4a5.7 5.7 0 1 0 11.4 0a5.7 5.7 0 1 0 -11.4 0M802.7 175.4a5.7 5.7 0 1 0 11.4 0a5.7 5.7 0 1 0 -11.4 0M817.2 175.4a5.7 5.7 0 1 0 11.4 0a5.7 5.7 0 1 0 -11.4 0" fill="#367ba6"/>
<path d="M225.3 333L734.7 130.5" stroke="#e2183a" stroke-width="7.8"/>
</g>
<rect x="111.2" y="18.2" width="780.4" height="445.7" fill="none" stroke="#000" stroke-width="2.2"/>
<path d="M111.2 456.9v14M371.3 456.9v14M631.4 456.9v14M891.5 456.9v14" stroke="#000" stroke-width="2.2"/>
<path d="M104.2 18.2h14M104.2 129.6h14M104.2 241h14M104.2 352.5h14M104.2 463.9h14" stroke="#000" stroke-width="2.2"/>
<text x="53.6" y="28.4" font-size="29.5" textLength="44.7" lengthAdjust="spacingAndGlyphs">125</text>
<text x="53.6" y="139.8" font-size="29.5" textLength="44.7" lengthAdjust="spacingAndGlyphs">100</text>
<text x="68.2" y="251.2" font-size="29.5" textLength="30.1" lengthAdjust="spacingAndGlyphs">75</text>
<text x="68.2" y="362.7" font-size="29.5" textLength="30.1" lengthAdjust="spacingAndGlyphs">50</text>
<text x="68.2" y="474.1" font-size="29.5" textLength="30.1" lengthAdjust="spacingAndGlyphs">25</text>
<text x="35.8" y="241" font-size="29.5" text-anchor="middle" textLength="205" lengthAdjust="spacingAndGlyphs" transform="rotate(-90 35.8 241)">Group delay (fs)</text>
<text x="5.6" y="34.6" font-size="38" font-weight="bold" textLength="18.1" lengthAdjust="spacingAndGlyphs">a</text>
<text x="196" y="343.6" font-size="29.5" textLength="10" lengthAdjust="spacingAndGlyphs">1</text>
<text x="753" y="117.9" font-size="29.5" textLength="15" lengthAdjust="spacingAndGlyphs">2</text>
<circle cx="434.6" cy="336" r="3" fill="#808080"/>
<path d="M406.7 380.2H462.5" stroke="#367ba6" stroke-width="3.9"/><circle cx="434.6" cy="380.3" r="7.5" fill="#367ba6"/>
<path d="M406.7 424.8H462.5" stroke="#e2183a" stroke-width="7.7"/>
<text x="479.5" y="345.1" font-size="29.5" textLength="90" lengthAdjust="spacingAndGlyphs">Library</text>
<text x="479.5" y="389.7" font-size="29.5" textLength="167.5" lengthAdjust="spacingAndGlyphs">Library limits</text>
<text x="479.5" y="434.3" font-size="29.5" textLength="265.5" lengthAdjust="spacingAndGlyphs">Maximum extension</text>
<g clip-path="url(#cb)">
<use href="#lib" transform="translate(-520.2 523.8)"/>
<use href="#lib" transform="translate(-260.1 523.8)"/>
<use href="#lib" transform="translate(0.0 523.8)"/>
<use href="#lib" transform="translate(260.1 523.8)"/>
<use href="#lib" transform="translate(520.2 523.8)"/>
<path d="M891.1 599.9L886.4 603.8L881 602.5L867.1 596.4L853.1 589.9L841.9 584.3L831.2 579.6L818.7 574L804.7 568.4L789.3 563.4L773.4 558.3L754.3 555L734.4 552.1L713.2 553.7L702 558.7L684 564.2L668.9 569.9L662.4 574.6L644.9 584.2L631.6 599.4L626.3 603.8L620.9 602.5L607 596.4L593 589.9L581.8 584.3L571.1 579.6L558.6 574L544.6 568.4L529.2 563.4L513.3 558.3L494.2 555L474.3 552.1L453.1 553.7L441.9 558.7L423.9 564.2L408.8 569.9L402.3 574.6L384.8 584.2L371.5 599.4L366.2 603.8L360.8 602.5L346.9 596.4L332.9 589.9L321.7 584.3L311 579.6L298.5 574L284.5 568.4L269.1 563.4L253.2 558.3L234.1 555L214.2 552.1L193 553.7L181.8 558.7L163.8 564.2L148.7 569.9L142.2 574.6L124.7 584.2L111.7 599.1M111.7 823.5L120.5 820.6L131.4 816.4L149 808L163.4 800.8L172.6 796.9L186.9 787.7L200 779.9L214.3 772.1L227.4 765.5L239.2 759.1L254.6 752.1L267.1 747.9L276.3 744.8L275.3 746.8L267 762.4L255.3 792.2L240.6 822.2L228 849.1L214.6 882.6L198 915.3L186.2 934.3L174.3 953.1L169.8 958.9L160.9 970.7L183.2 945.2L189.4 938.4L202 917.8L216.2 894.4L232.2 875.1L243.9 862.5L259 849.9L269.9 842.4L285.8 834L298.4 833.1L313.5 832.3L327.3 831.9L341.2 831.5L352.1 829.8L368 824.8L380.6 820.6L391.5 816.4L409.1 808L423.5 800.8L432.7 796.9L447 787.7L460.1 779.9L474.4 772.1L487.5 765.5L499.3 759.1L514.7 752.1L527.2 747.9L536.4 744.8L535.4 746.8L527.1 762.4L515.4 792.2L500.7 822.2L488.1 849.1L474.7 882.6L458.1 915.3L446.3 934.3L434.4 953.1L429.9 958.9L421 970.7L443.3 945.2L449.5 938.4L462.1 917.8L476.3 894.4L492.3 875.1L504 862.5L519.1 849.9L530 842.4L545.9 834L558.5 833.1L573.6 832.3L587.4 831.9L601.3 831.5L612.2 829.8L628.1 824.8L640.7 820.6L651.6 816.4L669.2 808L683.6 800.8L692.8 796.9L707.1 787.7L720.2 779.9L734.5 772.1L747.6 765.5L759.4 759.1L774.8 752.1L787.3 747.9L796.5 744.8L795.5 746.8L787.2 762.4L775.5 792.2L760.8 822.2L748.2 849.1L734.8 882.6L718.2 915.3L706.4 934.3L694.5 953.1L690 958.9L681.1 970.7L703.4 945.2L709.6 938.4L722.2 917.8L736.4 894.4L752.4 875.1L764.1 862.5L779.2 849.9L790.1 842.4L806 834L818.6 833.1L833.7 832.3L847.5 831.9L861.4 831.5L872.3 829.8L888.2 824.8L891.1 823.8" fill="none" stroke="#367ba6" stroke-width="3.6" stroke-linejoin="round"/>
<path d="M105.7 599.4a5.7 5.7 0 1 0 11.4 0a5.7 5.7 0 1 0 -11.4 0M119 584.2a5.7 5.7 0 1 0 11.4 0a5.7 5.7 0 1 0 -11.4 0M136.5 574.6a5.7 5.7 0 1 0 11.4 0a5.7 5.7 0 1 0 -11.4 0M143 569.9a5.7 5.7 0 1 0 11.4 0a5.7 5.7 0 1 0 -11.4 0M158.1 564.2a5.7 5.7 0 1 0 11.4 0a5.7 5.7 0 1 0 -11.4 0M176.1 558.7a5.7 5.7 0 1 0 11.4 0a5.7 5.7 0 1 0 -11.4 0M187.3 553.7a5.7 5.7 0 1 0 11.4 0a5.7 5.7 0 1 0 -11.4 0M208.5 552.1a5.7 5.7 0 1 0 11.4 0a5.7 5.7 0 1 0 -11.4 0M228.4 555a5.7 5.7 0 1 0 11.4 0a5.7 5.7 0 1 0 -11.4 0M247.5 558.3a5.7 5.7 0 1 0 11.4 0a5.7 5.7 0 1 0 -11.4 0M263.4 563.4a5.7 5.7 0 1 0 11.4 0a5.7 5.7 0 1 0 -11.4 0M278.8 568.4a5.7 5.7 0 1 0 11.4 0a5.7 5.7 0 1 0 -11.4 0M292.8 574a5.7 5.7 0 1 0 11.4 0a5.7 5.7 0 1 0 -11.4 0M305.3 579.6a5.7 5.7 0 1 0 11.4 0a5.7 5.7 0 1 0 -11.4 0M316 584.3a5.7 5.7 0 1 0 11.4 0a5.7 5.7 0 1 0 -11.4 0M327.2 589.9a5.7 5.7 0 1 0 11.4 0a5.7 5.7 0 1 0 -11.4 0M341.2 596.4a5.7 5.7 0 1 0 11.4 0a5.7 5.7 0 1 0 -11.4 0M355.1 602.5a5.7 5.7 0 1 0 11.4 0a5.7 5.7 0 1 0 -11.4 0M102.2 824.8a5.7 5.7 0 1 0 11.4 0a5.7 5.7 0 1 0 -11.4 0M114.8 820.6a5.7 5.7 0 1 0 11.4 0a5.7 5.7 0 1 0 -11.4 0M125.7 816.4a5.7 5.7 0 1 0 11.4 0a5.7 5.7 0 1 0 -11.4 0M143.3 808a5.7 5.7 0 1 0 11.4 0a5.7 5.7 0 1 0 -11.4 0M157.7 800.8a5.7 5.7 0 1 0 11.4 0a5.7 5.7 0 1 0 -11.4 0M166.9 796.9a5.7 5.7 0 1 0 11.4 0a5.7 5.7 0 1 0 -11.4 0M181.2 787.7a5.7 5.7 0 1 0 11.4 0a5.7 5.7 0 1 0 -11.4 0M194.3 779.9a5.7 5.7 0 1 0 11.4 0a5.7 5.7 0 1 0 -11.4 0M208.6 772.1a5.7 5.7 0 1 0 11.4 0a5.7 5.7 0 1 0 -11.4 0M221.7 765.5a5.7 5.7 0 1 0 11.4 0a5.7 5.7 0 1 0 -11.4 0M233.5 759.1a5.7 5.7 0 1 0 11.4 0a5.7 5.7 0 1 0 -11.4 0M248.9 752.1a5.7 5.7 0 1 0 11.4 0a5.7 5.7 0 1 0 -11.4 0M261.4 747.9a5.7 5.7 0 1 0 11.4 0a5.7 5.7 0 1 0 -11.4 0M155.2 970.7a5.7 5.7 0 1 0 11.4 0a5.7 5.7 0 1 0 -11.4 0M164.1 958.9a5.7 5.7 0 1 0 11.4 0a5.7 5.7 0 1 0 -11.4 0M168.6 953.1a5.7 5.7 0 1 0 11.4 0a5.7 5.7 0 1 0 -11.4 0M180.5 934.3a5.7 5.7 0 1 0 11.4 0a5.7 5.7 0 1 0 -11.4 0M192.3 915.3a5.7 5.7 0 1 0 11.4 0a5.7 5.7 0 1 0 -11.4 0M208.9 882.6a5.7 5.7 0 1 0 11.4 0a5.7 5.7 0 1 0 -11.4 0M222.3 849.1a5.7 5.7 0 1 0 11.4 0a5.7 5.7 0 1 0 -11.4 0M234.9 822.2a5.7 5.7 0 1 0 11.4 0a5.7 5.7 0 1 0 -11.4 0M249.6 792.2a5.7 5.7 0 1 0 11.4 0a5.7 5.7 0 1 0 -11.4 0M261.3 762.4a5.7 5.7 0 1 0 11.4 0a5.7 5.7 0 1 0 -11.4 0M269.6 746.8a5.7 5.7 0 1 0 11.4 0a5.7 5.7 0 1 0 -11.4 0M365.8 599.4a5.7 5.7 0 1 0 11.4 0a5.7 5.7 0 1 0 -11.4 0M379.1 584.2a5.7 5.7 0 1 0 11.4 0a5.7 5.7 0 1 0 -11.4 0M396.6 574.6a5.7 5.7 0 1 0 11.4 0a5.7 5.7 0 1 0 -11.4 0M403.1 569.9a5.7 5.7 0 1 0 11.4 0a5.7 5.7 0 1 0 -11.4 0M418.2 564.2a5.7 5.7 0 1 0 11.4 0a5.7 5.7 0 1 0 -11.4 0M436.2 558.7a5.7 5.7 0 1 0 11.4 0a5.7 5.7 0 1 0 -11.4 0M447.4 553.7a5.7 5.7 0 1 0 11.4 0a5.7 5.7 0 1 0 -11.4 0M468.6 552.1a5.7 5.7 0 1 0 11.4 0a5.7 5.7 0 1 0 -11.4 0M488.5 555a5.7 5.7 0 1 0 11.4 0a5.7 5.7 0 1 0 -11.4 0M507.6 558.3a5.7 5.7 0 1 0 11.4 0a5.7 5.7 0 1 0 -11.4 0M523.5 563.4a5.7 5.7 0 1 0 11.4 0a5.7 5.7 0 1 0 -11.4 0M538.9 568.4a5.7 5.7 0 1 0 11.4 0a5.7 5.7 0 1 0 -11.4 0M552.9 574a5.7 5.7 0 1 0 11.4 0a5.7 5.7 0 1 0 -11.4 0M565.4 579.6a5.7 5.7 0 1 0 11.4 0a5.7 5.7 0 1 0 -11.4 0M576.1 584.3a5.7 5.7 0 1 0 11.4 0a5.7 5.7 0 1 0 -11.4 0M587.3 589.9a5.7 5.7 0 1 0 11.4 0a5.7 5.7 0 1 0 -11.4 0M601.3 596.4a5.7 5.7 0 1 0 11.4 0a5.7 5.7 0 1 0 -11.4 0M615.2 602.5a5.7 5.7 0 1 0 11.4 0a5.7 5.7 0 1 0 -11.4 0M177.5 945.2a5.7 5.7 0 1 0 11.4 0a5.7 5.7 0 1 0 -11.4 0M183.7 938.4a5.7 5.7 0 1 0 11.4 0a5.7 5.7 0 1 0 -11.4 0M196.3 917.8a5.7 5.7 0 1 0 11.4 0a5.7 5.7 0 1 0 -11.4 0M210.5 894.4a5.7 5.7 0 1 0 11.4 0a5.7 5.7 0 1 0 -11.4 0M226.5 875.1a5.7 5.7 0 1 0 11.4 0a5.7 5.7 0 1 0 -11.4 0M238.2 862.5a5.7 5.7 0 1 0 11.4 0a5.7 5.7 0 1 0 -11.4 0M253.3 849.9a5.7 5.7 0 1 0 11.4 0a5.7 5.7 0 1 0 -11.4 0M264.2 842.4a5.7 5.7 0 1 0 11.4 0a5.7 5.7 0 1 0 -11.4 0M280.1 834a5.7 5.7 0 1 0 11.4 0a5.7 5.7 0 1 0 -11.4 0M292.7 833.1a5.7 5.7 0 1 0 11.4 0a5.7 5.7 0 1 0 -11.4 0M307.8 832.3a5.7 5.7 0 1 0 11.4 0a5.7 5.7 0 1 0 -11.4 0M321.6 831.9a5.7 5.7 0 1 0 11.4 0a5.7 5.7 0 1 0 -11.4 0M335.5 831.5a5.7 5.7 0 1 0 11.4 0a5.7 5.7 0 1 0 -11.4 0M346.4 829.8a5.7 5.7 0 1 0 11.4 0a5.7 5.7 0 1 0 -11.4 0M362.3 824.8a5.7 5.7 0 1 0 11.4 0a5.7 5.7 0 1 0 -11.4 0M374.9 820.6a5.7 5.7 0 1 0 11.4 0a5.7 5.7 0 1 0 -11.4 0M385.8 816.4a5.7 5.7 0 1 0 11.4 0a5.7 5.7 0 1 0 -11.4 0M403.4 808a5.7 5.7 0 1 0 11.4 0a5.7 5.7 0 1 0 -11.4 0M417.8 800.8a5.7 5.7 0 1 0 11.4 0a5.7 5.7 0 1 0 -11.4 0M427 796.9a5.7 5.7 0 1 0 11.4 0a5.7 5.7 0 1 0 -11.4 0M441.3 787.7a5.7 5.7 0 1 0 11.4 0a5.7 5.7 0 1 0 -11.4 0M454.4 779.9a5.7 5.7 0 1 0 11.4 0a5.7 5.7 0 1 0 -11.4 0M468.7 772.1a5.7 5.7 0 1 0 11.4 0a5.7 5.7 0 1 0 -11.4 0M481.8 765.5a5.7 5.7 0 1 0 11.4 0a5.7 5.7 0 1 0 -11.4 0M493.6 759.1a5.7 5.7 0 1 0 11.4 0a5.7 5.7 0 1 0 -11.4 0M509 752.1a5.7 5.7 0 1 0 11.4 0a5.7 5.7 0 1 0 -11.4 0M521.5 747.9a5.7 5.7 0 1 0 11.4 0a5.7 5.7 0 1 0 -11.4 0M415.3 970.7a5.7 5.7 0 1 0 11.4 0a5.7 5.7 0 1 0 -11.4 0M424.2 958.9a5.7 5.7 0 1 0 11.4 0a5.7 5.7 0 1 0 -11.4 0M428.7 953.1a5.7 5.7 0 1 0 11.4 0a5.7 5.7 0 1 0 -11.4 0M440.6 934.3a5.7 5.7 0 1 0 11.4 0a5.7 5.7 0 1 0 -11.4 0M452.4 915.3a5.7 5.7 0 1 0 11.4 0a5.7 5.7 0 1 0 -11.4 0M469 882.6a5.7 5.7 0 1 0 11.4 0a5.7 5.7 0 1 0 -11.4 0M482.4 849.1a5.7 5.7 0 1 0 11.4 0a5.7 5.7 0 1 0 -11.4 0M495 822.2a5.7 5.7 0 1 0 11.4 0a5.7 5.7 0 1 0 -11.4 0M509.7 792.2a5.7 5.7 0 1 0 11.4 0a5.7 5.7 0 1 0 -11.4 0M521.4 762.4a5.7 5.7 0 1 0 11.4 0a5.7 5.7 0 1 0 -11.4 0M529.7 746.8a5.7 5.7 0 1 0 11.4 0a5.7 5.7 0 1 0 -11.4 0M625.9 599.4a5.7 5.7 0 1 0 11.4 0a5.7 5.7 0 1 0 -11.4 0M639.2 584.2a5.7 5.7 0 1 0 11.4 0a5.7 5.7 0 1 0 -11.4 0M656.7 574.6a5.7 5.7 0 1 0 11.4 0a5.7 5.7 0 1 0 -11.4 0M663.2 569.9a5.7 5.7 0 1 0 11.4 0a5.7 5.7 0 1 0 -11.4 0M678.3 564.2a5.7 5.7 0 1 0 11.4 0a5.7 5.7 0 1 0 -11.4 0M696.3 558.7a5.7 5.7 0 1 0 11.4 0a5.7 5.7 0 1 0 -11.4 0M707.5 553.7a5.7 5.7 0 1 0 11.4 0a5.7 5.7 0 1 0 -11.4 0M728.7 552.1a5.7 5.7 0 1 0 11.4 0a5.7 5.7 0 1 0 -11.4 0M748.6 555a5.7 5.7 0 1 0 11.4 0a5.7 5.7 0 1 0 -11.4 0M767.7 558.3a5.7 5.7 0 1 0 11.4 0a5.7 5.7 0 1 0 -11.4 0M783.6 563.4a5.7 5.7 0 1 0 11.4 0a5.7 5.7 0 1 0 -11.4 0M799 568.4a5.7 5.7 0 1 0 11.4 0a5.7 5.7 0 1 0 -11.4 0M813 574a5.7 5.7 0 1 0 11.4 0a5.7 5.7 0 1 0 -11.4 0M825.5 579.6a5.7 5.7 0 1 0 11.4 0a5.7 5.7 0 1 0 -11.4 0M836.2 584.3a5.7 5.7 0 1 0 11.4 0a5.7 5.7 0 1 0 -11.4 0M847.4 589.9a5.7 5.7 0 1 0 11.4 0a5.7 5.7 0 1 0 -11.4 0M861.4 596.4a5.7 5.7 0 1 0 11.4 0a5.7 5.7 0 1 0 -11.4 0M875.3 602.5a5.7 5.7 0 1 0 11.4 0a5.7 5.7 0 1 0 -11.4 0M437.6 945.2a5.7 5.7 0 1 0 11.4 0a5.7 5.7 0 1 0 -11.4 0M443.8 938.4a5.7 5.7 0 1 0 11.4 0a5.7 5.7 0 1 0 -11.4 0M456.4 917.8a5.7 5.7 0 1 0 11.4 0a5.7 5.7 0 1 0 -11.4 0M470.6 894.4a5.7 5.7 0 1 0 11.4 0a5.7 5.7 0 1 0 -11.4 0M486.6 875.1a5.7 5.7 0 1 0 11.4 0a5.7 5.7 0 1 0 -11.4 0M498.3 862.5a5.7 5.7 0 1 0 11.4 0a5.7 5.7 0 1 0 -11.4 0M513.4 849.9a5.7 5.7 0 1 0 11.4 0a5.7 5.7 0 1 0 -11.4 0M524.3 842.4a5.7 5.7 0 1 0 11.4 0a5.7 5.7 0 1 0 -11.4 0M540.2 834a5.7 5.7 0 1 0 11.4 0a5.7 5.7 0 1 0 -11.4 0M552.8 833.1a5.7 5.7 0 1 0 11.4 0a5.7 5.7 0 1 0 -11.4 0M567.9 832.3a5.7 5.7 0 1 0 11.4 0a5.7 5.7 0 1 0 -11.4 0M581.7 831.9a5.7 5.7 0 1 0 11.4 0a5.7 5.7 0 1 0 -11.4 0M595.6 831.5a5.7 5.7 0 1 0 11.4 0a5.7 5.7 0 1 0 -11.4 0M606.5 829.8a5.7 5.7 0 1 0 11.4 0a5.7 5.7 0 1 0 -11.4 0M622.4 824.8a5.7 5.7 0 1 0 11.4 0a5.7 5.7 0 1 0 -11.4 0M635 820.6a5.7 5.7 0 1 0 11.4 0a5.7 5.7 0 1 0 -11.4 0M645.9 816.4a5.7 5.7 0 1 0 11.4 0a5.7 5.7 0 1 0 -11.4 0M663.5 808a5.7 5.7 0 1 0 11.4 0a5.7 5.7 0 1 0 -11.4 0M677.9 800.8a5.7 5.7 0 1 0 11.4 0a5.7 5.7 0 1 0 -11.4 0M687.1 796.9a5.7 5.7 0 1 0 11.4 0a5.7 5.7 0 1 0 -11.4 0M701.4 787.7a5.7 5.7 0 1 0 11.4 0a5.7 5.7 0 1 0 -11.4 0M714.5 779.9a5.7 5.7 0 1 0 11.4 0a5.7 5.7 0 1 0 -11.4 0M728.8 772.1a5.7 5.7 0 1 0 11.4 0a5.7 5.7 0 1 0 -11.4 0M741.9 765.5a5.7 5.7 0 1 0 11.4 0a5.7 5.7 0 1 0 -11.4 0M753.7 759.1a5.7 5.7 0 1 0 11.4 0a5.7 5.7 0 1 0 -11.4 0M769.1 752.1a5.7 5.7 0 1 0 11.4 0a5.7 5.7 0 1 0 -11.4 0M781.6 747.9a5.7 5.7 0 1 0 11.4 0a5.7 5.7 0 1 0 -11.4 0M675.4 970.7a5.7 5.7 0 1 0 11.4 0a5.7 5.7 0 1 0 -11.4 0M684.3 958.9a5.7 5.7 0 1 0 11.4 0a5.7 5.7 0 1 0 -11.4 0M688.8 953.1a5.7 5.7 0 1 0 11.4 0a5.7 5.7 0 1 0 -11.4 0M700.7 934.3a5.7 5.7 0 1 0 11.4 0a5.7 5.7 0 1 0 -11.4 0M712.5 915.3a5.7 5.7 0 1 0 11.4 0a5.7 5.7 0 1 0 -11.4 0M729.1 882.6a5.7 5.7 0 1 0 11.4 0a5.7 5.7 0 1 0 -11.4 0M742.5 849.1a5.7 5.7 0 1 0 11.4 0a5.7 5.7 0 1 0 -11.4 0M755.1 822.2a5.7 5.7 0 1 0 11.4 0a5.7 5.7 0 1 0 -11.4 0M769.8 792.2a5.7 5.7 0 1 0 11.4 0a5.7 5.7 0 1 0 -11.4 0M781.5 762.4a5.7 5.7 0 1 0 11.4 0a5.7 5.7 0 1 0 -11.4 0M789.8 746.8a5.7 5.7 0 1 0 11.4 0a5.7 5.7 0 1 0 -11.4 0M886 599.4a5.7 5.7 0 1 0 11.4 0a5.7 5.7 0 1 0 -11.4 0M697.7 945.2a5.7 5.7 0 1 0 11.4 0a5.7 5.7 0 1 0 -11.4 0M703.9 938.4a5.7 5.7 0 1 0 11.4 0a5.7 5.7 0 1 0 -11.4 0M716.5 917.8a5.7 5.7 0 1 0 11.4 0a5.7 5.7 0 1 0 -11.4 0M730.7 894.4a5.7 5.7 0 1 0 11.4 0a5.7 5.7 0 1 0 -11.4 0M746.7 875.1a5.7 5.7 0 1 0 11.4 0a5.7 5.7 0 1 0 -11.4 0M758.4 862.5a5.7 5.7 0 1 0 11.4 0a5.7 5.7 0 1 0 -11.4 0M773.5 849.9a5.7 5.7 0 1 0 11.4 0a5.7 5.7 0 1 0 -11.4 0M784.4 842.4a5.7 5.7 0 1 0 11.4 0a5.7 5.7 0 1 0 -11.4 0M800.3 834a5.7 5.7 0 1 0 11.4 0a5.7 5.7 0 1 0 -11.4 0M812.9 833.1a5.7 5.7 0 1 0 11.4 0a5.7 5.7 0 1 0 -11.4 0M828 832.3a5.7 5.7 0 1 0 11.4 0a5.7 5.7 0 1 0 -11.4 0M841.8 831.9a5.7 5.7 0 1 0 11.4 0a5.7 5.7 0 1 0 -11.4 0M855.7 831.5a5.7 5.7 0 1 0 11.4 0a5.7 5.7 0 1 0 -11.4 0M866.6 829.8a5.7 5.7 0 1 0 11.4 0a5.7 5.7 0 1 0 -11.4 0M882.5 824.8a5.7 5.7 0 1 0 11.4 0a5.7 5.7 0 1 0 -11.4 0" fill="#367ba6"/>
<path d="M224.9 856.4L737.5 652.7" stroke="#e2183a" stroke-width="7.8"/>
<path d="M737.5 652.7L872 597.9" stroke="#50c087" stroke-width="7.8"/>
</g>
<rect x="111.2" y="542" width="780.4" height="445.3" fill="none" stroke="#000" stroke-width="2.2"/>
<path d="M111.2 980.3v14M371.3 980.3v14M631.4 980.3v14M891.5 980.3v14" stroke="#000" stroke-width="2.2"/>
<path d="M104.2 542h14M104.2 653.3h14M104.2 764.6h14M104.2 876h14M104.2 987.3h14" stroke="#000" stroke-width="2.2"/>
<text x="53.6" y="552.2" font-size="29.5" textLength="44.7" lengthAdjust="spacingAndGlyphs">125</text>
<text x="53.6" y="663.5" font-size="29.5" textLength="44.7" lengthAdjust="spacingAndGlyphs">100</text>
<text x="68.2" y="774.9" font-size="29.5" textLength="30.1" lengthAdjust="spacingAndGlyphs">75</text>
<text x="68.2" y="886.2" font-size="29.5" textLength="30.1" lengthAdjust="spacingAndGlyphs">50</text>
<text x="68.2" y="997.5" font-size="29.5" textLength="30.1" lengthAdjust="spacingAndGlyphs">25</text>
<text x="111.2" y="1024.8" font-size="29.5" text-anchor="middle">2</text>
<text x="371.3" y="1024.8" font-size="29.5" text-anchor="middle">4</text>
<text x="631.4" y="1024.8" font-size="29.5" text-anchor="middle">6</text>
<text x="891.5" y="1024.8" font-size="29.5" text-anchor="middle">8</text>
<text x="35.8" y="764.6" font-size="29.5" text-anchor="middle" textLength="205" lengthAdjust="spacingAndGlyphs" transform="rotate(-90 35.8 764.6)">Group delay (fs)</text>
<text x="6.5" y="558.5" font-size="38" font-weight="bold">b</text>
<text x="442" y="1058.3" font-size="30.5" textLength="120" lengthAdjust="spacingAndGlyphs">Phase (<tspan font-style="italic">π</tspan>)</text>
<g clip-path="url(#cgc)">
<ellipse cx="1339.3" cy="278.8" rx="4.5" ry="10" fill="url(#gc0)"/>
<ellipse cx="1352.4" cy="278.8" rx="6" ry="18" fill="url(#gc1)"/>
<ellipse cx="1365.8" cy="278.8" rx="7" ry="23" fill="url(#gc2)"/>
<ellipse cx="1378.5" cy="278.8" rx="7" ry="26" fill="url(#gc3)"/>
<ellipse cx="1392.6" cy="278.8" rx="8" ry="31" fill="url(#gc4)"/>
<ellipse cx="1408.3" cy="278.8" rx="8.5" ry="29" fill="url(#gc5)"/>
<ellipse cx="1426.2" cy="278.8" rx="7" ry="21" fill="url(#gc6)"/>
<path d="M1044 92.7V93.7H1074V96.1H1044V101H1074V102.9H1044V108.6H1074V110.9H1044V115.6H1074V118H1044V122.5H1074V124.5H1044V130.1H1074V132H1044V137.3H1074V139.4H1044V144.5H1074V146.7H1044V152H1074V154.3H1044V160H1074V162.7H1044V167.7H1074V170.7H1044V175H1074V178H1044V182.8H1074V186.3H1044V190H1074V194H1044V197.7H1074V201.5H1044V205.6H1074V209.4H1044V213.4H1074V217.3H1044V220.8H1074V224.8H1044V228.8H1074V232.9H1044V236.6H1074V241H1044V244.9H1074V250.1H1044V252.7H1074V258H1044V260.8H1074V266.1H1044V269.1H1074V274.4H1044V276.8H1074V285.8H1044V288H1074V293.4H1044V296H1074V301H1044V303.7H1074V308.4H1044V311.6H1074V316.3H1044V319.9H1074V324.6H1044V328.3H1074V332.9H1044V336.4H1074V340.4H1044V344.4H1074V348.4H1044V352.2H1074V355.9H1044V359.9H1074V363.5H1044V368.2H1074V371.6H1044V376H1074V379.7H1044V384.1H1074V387.7H1044V391.4H1074V394H1044V399.4H1074V401.3H1044V407H1074V409.4H1044V414.2H1074V416H1044V421.7H1074V423.9H1044V429.5H1074V431.5H1044V437H1074V438.9H1044V444.2H1074V446.6H1044V451.1H1074V453.2H1044V458.3H1074V460.6H1044V463.8" fill="none" stroke="#000" stroke-width="2.4" stroke-linejoin="round"/>
<path d="M1378 92.7V102.2M1378 123.2V143.6M1378 164.6V185M1378 205.9V226.3M1378 247.3V267.7M1378 288.6V309M1378 330V350.4M1378 371.4V391.8M1378 412.7V433.1M1378 454.1V463.8" stroke="#000" stroke-width="4"/>
</g>
<rect x="1025.5" y="92.7" width="483.1" height="371.1" fill="none" stroke="#000" stroke-width="2.2"/>
<path d="M1018.5 92.7h14M1018.5 185.5h14M1018.5 278.2h14M1018.5 371h14M1018.5 463.8h14" stroke="#000" stroke-width="2.2"/>
<path d="M1043.9 456.8v14M1155.3 456.8v14M1266.7 456.8v14M1378.1 456.8v14M1489.5 456.8v14" stroke="#000" stroke-width="2.2"/>
<text x="982.6" y="102.9" font-size="29.5" textLength="30.1" lengthAdjust="spacingAndGlyphs">50</text>
<text x="982.6" y="195.7" font-size="29.5" textLength="30.1" lengthAdjust="spacingAndGlyphs">25</text>
<text x="997.2" y="288.4" font-size="29.5" textLength="15.6" lengthAdjust="spacingAndGlyphs">0</text>
<text x="971.1" y="381.2" font-size="29.5" textLength="41.6" lengthAdjust="spacingAndGlyphs">-25</text>
<text x="971.1" y="474" font-size="29.5" textLength="41.6" lengthAdjust="spacingAndGlyphs">-50</text>
<text x="1395" y="141.4" font-size="29.5" textLength="98.6" lengthAdjust="spacingAndGlyphs">472.5 fs</text>
<g clip-path="url(#cgd)">
<ellipse cx="1335.3" cy="765" rx="4.5" ry="10" fill="url(#gd0)"/>
<ellipse cx="1350.2" cy="765" rx="6" ry="18" fill="url(#gd1)"/>
<ellipse cx="1364.6" cy="765" rx="7" ry="23" fill="url(#gd2)"/>
<ellipse cx="1378.2" cy="765" rx="7" ry="26" fill="url(#gd3)"/>
<ellipse cx="1391.6" cy="765" rx="8" ry="31" fill="url(#gd4)"/>
<ellipse cx="1406.9" cy="765" rx="8.5" ry="29" fill="url(#gd5)"/>
<ellipse cx="1422.9" cy="765" rx="7" ry="21" fill="url(#gd6)"/>
<path d="M1044 541.3V542.3H1074V544.4H1044V549.1H1074V550.9H1044V556.5H1074V558.9H1044V563.4H1074V565.2H1044V570.3H1074V572.5H1044V578H1074V580.1H1044V585.3H1074V587.2H1044V592.8H1074V595.2H1044V599.9H1074V602H1044V607.5H1074V609.7H1044V615.3H1074V617.3H1044V623.4H1074V625.6H1044V631H1074V634.3H1044V638.4H1074V642H1044V645.8H1074V649H1044V653.8H1074V657.3H1044V661.5H1074V665.6H1044V668.8H1074V672.4H1044V676.5H1074V680.3H1044V684.5H1074V688.4H1044V692.8H1074V696.8H1044V700.2H1074V704.5H1044V707.9H1074V712.6H1044V716.3H1074V720.6H1044V724.1H1074V729.3H1044V731.8H1074V736.9H1044V739.8H1074V744.5H1044V747.4H1074V752.7H1044V755.9H1074V761.1H1044V763.9H1074V772.9H1044V775.1H1074V780.7H1044V782.9H1074V787.8H1044V791H1074V795.8H1044V799.3H1074V804.3H1044V806.9H1074V811.3H1044V815.3H1074V819.7H1044V823.6H1074V827.7H1044V831.1H1074V835.6H1044V838.8H1074V843.3H1044V846.6H1074V850.6H1044V854.2H1074V858.5H1044V861.7H1074V865.5H1044V870H1074V873.5H1044V877.6H1074V880.8H1044V885.6H1074V888.9H1044V892.8H1074V896.4H1044V900.1H1074V902.6H1044V908H1074V910.4H1044V915.7H1074V918.1H1044V923.5H1074V925.7H1044V930.6H1074V932.7H1044V937.7H1074V940.2H1044V945.4H1074V947.2H1044V953.1H1074V954.9H1044V960.3H1074V962.1H1044V968.1H1074V970.1H1044V975.2H1074V977.6H1044V982H1074V983.8H1044V987.5" fill="none" stroke="#000" stroke-width="2.4" stroke-linejoin="round"/>
<path d="M1378 541.3V551.1M1378 571.5V591.7M1378 612.1V632.3M1378 652.7V672.9M1378 693.3V713.5M1378 734V754.2M1378 774.6V794.8M1378 815.2V835.4M1378 855.8V876M1378 896.4V916.6M1378 937V957.2M1378 977.6V987.5" stroke="#000" stroke-width="4"/>
</g>
<rect x="1025.5" y="541.3" width="483.1" height="446.2" fill="none" stroke="#000" stroke-width="2.2"/>
<path d="M1018.5 541.3h14M1018.5 652.8h14M1018.5 764.4h14M1018.5 876h14M1018.5 987.5h14" stroke="#000" stroke-width="2.2"/>
<path d="M1043.9 980.5v14M1155.3 980.5v14M1266.7 980.5v14M1378.1 980.5v14M1489.5 980.5v14" stroke="#000" stroke-width="2.2"/>
<text x="982.6" y="551.5" font-size="29.5" textLength="30.1" lengthAdjust="spacingAndGlyphs">60</text>
<text x="982.6" y="663" font-size="29.5" textLength="30.1" lengthAdjust="spacingAndGlyphs">30</text>
<text x="997.2" y="774.6" font-size="29.5" textLength="15.6" lengthAdjust="spacingAndGlyphs">0</text>
<text x="971.1" y="886.2" font-size="29.5" textLength="41.6" lengthAdjust="spacingAndGlyphs">-30</text>
<text x="971.1" y="997.7" font-size="29.5" textLength="41.6" lengthAdjust="spacingAndGlyphs">-60</text>
<text x="1406" y="590" font-size="29.5" textLength="76.2" lengthAdjust="spacingAndGlyphs">485 fs</text>
<rect x="1025.5" y="52" width="482.5" height="21.6" fill="url(#cbar)" stroke="#000" stroke-width="2.2"/>
<path d="M1025.5 45.3V52M1507.9 45.3V52" stroke="#000" stroke-width="2.2"/>
<text x="1013" y="32.8" font-size="29.5" textLength="21" lengthAdjust="spacingAndGlyphs">-1</text>
<text x="1500" y="32.8" font-size="29.5" textLength="13" lengthAdjust="spacingAndGlyphs">1</text>
<g transform="translate(1223.5 32.6)"><text x="-2" y="0" font-size="29.5" textLength="15.2" lengthAdjust="spacingAndGlyphs">E</text><text x="13.6" y="3.1" font-size="17.5" textLength="8" lengthAdjust="spacingAndGlyphs">x</text><text x="25.7" y="0" font-size="29.5" textLength="62" lengthAdjust="spacingAndGlyphs">(a.u.)</text></g>
<text x="1043.9" y="1024.1" font-size="29.5" text-anchor="middle">0</text>
<text x="1155.3" y="1024.1" font-size="29.5" text-anchor="middle">30</text>
<text x="1266.7" y="1024.1" font-size="29.5" text-anchor="middle">60</text>
<text x="1378.1" y="1024.1" font-size="29.5" text-anchor="middle">90</text>
<text x="1489.5" y="1024.1" font-size="29.5" text-anchor="middle">120</text>
<text x="949.8" y="274" font-size="29.5" text-anchor="middle" textLength="292" lengthAdjust="spacingAndGlyphs" transform="rotate(-90 949.8 274)">Radial coordinate (µm)</text>
<text x="950.1" y="764.8" font-size="29.5" text-anchor="middle" textLength="294" lengthAdjust="spacingAndGlyphs" transform="rotate(-90 950.1 764.8)">Radial coordinate (µm)</text>
<text x="1205" y="1057" font-size="29.5" textLength="141" lengthAdjust="spacingAndGlyphs"><tspan font-style="italic">z</tspan>-axis (µm)</text>
<text x="919.8" y="35" font-size="38" font-weight="bold" textLength="18.3" lengthAdjust="spacingAndGlyphs">c</text>
<text x="919.5" y="558.5" font-size="38" font-weight="bold">d</text>
<path d="M1603.4 18.3h14M1603.4 241.1h14M1603.4 463.8h14" stroke="#000" stroke-width="2.2"/>
<g clip-path="url(#ce)" fill="none" stroke-linejoin="round">
<path d="M1610.4 241.0L1610.9 241.0L1611.4 241.0L1611.9 241.0L1612.4 241.0L1612.9 241.0L1613.4 241.0L1613.9 241.0L1614.4 241.0L1614.9 241.0L1615.4 241.0L1615.9 241.0L1616.4 241.0L1616.9 241.0L1617.4 241.0L1617.9 241.0L1618.4 241.0L1618.9 241.0L1619.4 241.0L1619.9 241.0L1620.4 241.0L1620.9 241.0L1621.4 241.0L1621.9 241.0L1622.4 241.0L1622.9 241.0L1623.4 241.0L1623.9 241.0L1624.4 241.0L1624.9 241.0L1625.4 241.0L1625.9 241.0L1626.4 241.0L1626.9 241.0L1627.4 241.0L1627.9 241.0L1628.4 241.0L1628.9 241.0L1629.4 241.0L1629.9 241.0L1630.4 241.0L1630.9 241.0L1631.4 241.0L1631.9 241.0L1632.4 241.0L1632.9 241.0L1633.4 241.0L1633.9 241.0L1634.4 241.0L1634.9 241.0L1635.4 241.0L1635.9 241.0L1636.4 241.0L1636.9 241.0L1637.4 241.0L1637.9 241.0L1638.4 241.0L1638.9 241.0L1639.4 241.0L1639.9 241.0L1640.4 241.0L1640.9 241.0L1641.4 241.0L1641.9 241.0L1642.4 241.0L1642.9 241.0L1643.4 241.0L1643.9 241.0L1644.4 241.0L1644.9 241.0L1645.4 241.0L1645.9 241.0L1646.4 241.0L1646.9 241.0L1647.4 241.0L1647.9 241.0L1648.4 241.0L1648.9 241.0L1649.4 241.0L1649.9 241.0L1650.4 241.0L1650.9 241.0L1651.4 241.0L1651.9 241.0L1652.4 241.0L1652.9 241.0L1653.4 241.0L1653.9 241.0L1654.4 241.0L1654.9 241.0L1655.4 241.0L1655.9 241.0L1656.4 241.0L1656.9 241.0L1657.4 241.0L1657.9 241.0L1658.4 240.9L1658.9 240.9L1659.4 240.9L1659.9 240.9L1660.4 240.9L1660.9 240.9L1661.4 240.9L1661.9 240.8L1662.4 240.8L1662.9 240.8L1663.4 240.8L1663.9 240.8L1664.4 240.7L1664.9 240.7L1665.4 240.7L1665.9 240.6L1666.4 240.6L1666.9 240.6L1667.4 240.5L1667.9 240.5L1668.4 240.4L1668.9 240.4L1669.4 240.3L1669.9 240.3L1670.4 240.2L1670.9 240.1L1671.4 240.1L1671.9 240.0L1672.4 239.9L1672.9 239.8L1673.4 239.7L1673.9 239.6L1674.4 239.5L1674.9 239.4L1675.4 239.3L1675.9 239.1L1676.4 239.0L1676.9 238.8L1677.4 238.7L1677.9 238.5L1678.4 238.3L1678.9 238.1L1679.4 237.9L1679.9 237.7L1680.4 237.5L1680.9 237.2L1681.4 236.9L1681.9 236.7L1682.4 236.4L1682.9 236.1L1683.4 235.7L1683.9 235.4L1684.4 235.0L1684.9 234.6L1685.4 234.2L1685.9 233.8L1686.4 233.3L1686.9 232.8L1687.4 232.3L1687.9 231.8L1688.4 231.2L1688.9 230.6L1689.4 230.0L1689.9 229.3L1690.4 228.7L1690.9 227.9L1691.4 227.2L1691.9 226.4L1692.4 225.6L1692.9 224.7L1693.4 223.8L1693.9 222.9L1694.4 221.9L1694.9 220.9L1695.4 219.9L1695.9 218.8L1696.4 217.6L1696.9 216.4L1697.4 215.2L1697.9 213.9L1698.4 212.6L1698.9 211.2L1699.4 209.8L1699.9 208.3L1700.4 206.7L1700.9 205.2L1701.4 203.5L1701.9 201.8L1702.4 200.1L1702.9 198.3L1703.4 196.4L1703.9 194.5L1704.4 192.6L1704.9 190.6L1705.4 188.5L1705.9 186.4L1706.4 184.2L1706.9 182.0L1707.4 179.7L1707.9 177.3L1708.4 174.9L1708.9 172.5L1709.4 170.0L1709.9 167.5L1710.4 164.9L1710.9 162.2L1711.4 159.5L1711.9 156.8L1712.4 154.0L1712.9 151.2L1713.4 148.3L1713.9 145.4L1714.4 142.5L1714.9 139.5L1715.4 136.5L1715.9 133.5L1716.4 130.4L1716.9 127.3L1717.4 124.2L1717.9 121.1L1718.4 118.0L1718.9 114.8L1719.4 111.7L1719.9 108.5L1720.4 105.3L1720.9 102.1L1721.4 99.0L1721.9 95.8L1722.4 92.7L1722.9 89.5L1723.4 86.4L1723.9 83.3L1724.4 80.3L1724.9 77.2L1725.4 74.2L1725.9 71.3L1726.4 68.4L1726.9 65.5L1727.4 62.7L1727.9 59.9L1728.4 57.2L1728.9 54.6L1729.4 52.0L1729.9 49.5L1730.4 47.1L1730.9 44.7L1731.4 42.4L1731.9 40.2L1732.4 38.1L1732.9 36.1L1733.4 34.2L1733.9 32.4L1734.4 30.7L1734.9 29.1L1735.4 27.5L1735.9 26.1L1736.4 24.8L1736.9 23.7L1737.4 22.6L1737.9 21.6L1738.4 20.8L1738.9 20.1L1739.4 19.5L1739.9 19.0L1740.4 18.7L1740.9 18.4L1741.4 18.3L1741.9 18.3L1742.4 18.5L1742.9 18.7L1743.4 19.1L1743.9 19.6L1744.4 20.2L1744.9 21.0L1745.4 21.8L1745.9 22.8L1746.4 23.9L1746.9 25.1L1747.4 26.4L1747.9 27.8L1748.4 29.4L1748.9 31.0L1749.4 32.7L1749.9 34.6L1750.4 36.5L1750.9 38.6L1751.4 40.7L1751.9 42.9L1752.4 45.2L1752.9 47.5L1753.4 50.0L1753.9 52.5L1754.4 55.1L1754.9 57.8L1755.4 60.5L1755.9 63.2L1756.4 66.1L1756.9 69.0L1757.4 71.9L1757.9 74.8L1758.4 77.8L1758.9 80.9L1759.4 84.0L1759.9 87.0L1760.4 90.2L1760.9 93.3L1761.4 96.4L1761.9 99.6L1762.4 102.8L1762.9 105.9L1763.4 109.1L1763.9 112.3L1764.4 115.4L1764.9 118.6L1765.4 121.7L1765.9 124.9L1766.4 128.0L1766.9 131.0L1767.4 134.1L1767.9 137.1L1768.4 140.1L1768.9 143.1L1769.4 146.0L1769.9 148.9L1770.4 151.8L1770.9 154.6L1771.4 157.3L1771.9 160.1L1772.4 162.7L1772.9 165.4L1773.4 168.0L1773.9 170.5L1774.4 173.0L1774.9 175.4L1775.4 177.8L1775.9 180.1L1776.4 182.4L1776.9 184.6L1777.4 186.8L1777.9 188.9L1778.4 191.0L1778.9 193.0L1779.4 194.9L1779.9 196.8L1780.4 198.7L1780.9 200.4L1781.4 202.2L1781.9 203.9L1782.4 205.5L1782.9 207.1L1783.4 208.6L1783.9 210.0L1784.4 211.5L1784.9 212.8L1785.4 214.2L1785.9 215.4L1786.4 216.7L1786.9 217.8L1787.4 219.0L1787.9 220.1L1788.4 221.1L1788.9 222.1L1789.4 223.1L1789.9 224.0L1790.4 224.9L1790.9 225.8L1791.4 226.6L1791.9 227.3L1792.4 228.1L1792.9 228.8L1793.4 229.5L1793.9 230.1L1794.4 230.7L1794.9 231.3L1795.4 231.9L1795.9 232.4L1796.4 232.9L1796.9 233.4L1797.4 233.8L1797.9 234.3L1798.4 234.7L1798.9 235.1L1799.4 235.4L1799.9 235.8L1800.4 236.1L1800.9 236.4L1801.4 236.7L1801.9 237.0L1802.4 237.3L1802.9 237.5L1803.4 237.7L1803.9 238.0L1804.4 238.2L1804.9 238.4L1805.4 238.5L1805.9 238.7L1806.4 238.9L1806.9 239.0L1807.4 239.2L1807.9 239.3L1808.4 239.4L1808.9 239.5L1809.4 239.6L1809.9 239.7L1810.4 239.8L1810.9 239.9L1811.4 240.0L1811.9 240.1L1812.4 240.2L1812.9 240.2L1813.4 240.3L1813.9 240.3L1814.4 240.4L1814.9 240.5L1815.4 240.5L1815.9 240.5L1816.4 240.6L1816.9 240.6L1817.4 240.7L1817.9 240.7L1818.4 240.7L1818.9 240.7L1819.4 240.8L1819.9 240.8L1820.4 240.8L1820.9 240.8L1821.4 240.9L1821.9 240.9L1822.4 240.9L1822.9 240.9L1823.4 240.9L1823.9 240.9L1824.4 240.9L1824.9 240.9L1825.4 241.0L1825.9 241.0L1826.4 241.0L1826.9 241.0L1827.4 241.0L1827.9 241.0L1828.4 241.0L1828.9 241.0L1829.4 241.0L1829.9 241.0L1830.4 241.0L1830.9 241.0L1831.4 241.0L1831.9 241.0L1832.4 241.0L1832.9 241.0L1833.4 241.0L1833.9 241.0L1834.4 241.0L1834.9 241.0L1835.4 241.0L1835.9 241.0L1836.4 241.0L1836.9 241.0L1837.4 241.0L1837.9 241.0L1838.4 241.0L1838.9 241.0L1839.4 241.0L1839.9 241.0L1840.4 241.0L1840.9 241.0L1841.4 241.0L1841.9 241.0L1842.4 241.0L1842.9 241.0L1843.4 241.0L1843.9 241.0L1844.4 241.0L1844.9 241.0L1845.4 241.0L1845.9 241.0L1846.4 241.0L1846.9 241.0L1847.4 241.0L1847.9 241.0L1848.4 241.0L1848.9 241.0L1849.4 241.0L1849.9 241.0L1850.4 241.0L1850.9 241.0L1851.4 241.0L1851.9 241.0L1852.4 241.0L1852.9 241.0L1853.4 241.0L1853.9 241.0L1854.4 241.0L1854.9 241.0L1855.4 241.0L1855.9 241.0L1856.4 241.0L1856.9 241.0L1857.4 241.0L1857.9 241.0L1858.4 241.0L1858.9 241.0L1859.4 241.0L1859.9 241.0L1860.4 241.0L1860.9 241.0L1861.4 241.0L1861.9 241.0L1862.4 241.0L1862.9 241.0L1863.4 241.0L1863.9 241.0L1864.4 241.0L1864.9 241.0L1865.4 241.0L1865.9 241.0L1866.4 241.0L1866.9 241.0L1867.4 241.0L1867.9 241.0L1868.4 241.0L1868.9 241.0L1869.4 241.0L1869.9 241.0L1870.4 241.0L1870.9 241.0L1871.4 241.0L1871.9 241.0L1872.4 241.0L1872.9 241.0L1873.4 241.0L1873.9 241.0L1874.4 241.0L1874.9 241.0L1875.4 241.0L1875.9 241.0L1876.4 241.0L1876.9 241.0L1877.4 241.0L1877.9 241.0L1878.4 241.0L1878.9 241.0L1879.4 241.0L1879.9 241.0L1880.4 241.0L1880.9 241.0L1881.4 241.0L1881.9 241.0L1882.4 241.0L1882.9 241.0L1883.4 241.0L1883.9 241.0L1884.4 241.0L1884.9 241.0L1885.4 241.0L1885.9 241.0L1886.4 241.0L1886.9 241.0L1887.4 241.0L1887.9 241.0L1888.4 241.0L1888.9 241.0L1889.4 241.0L1889.9 241.0L1890.4 241.0L1890.9 241.0L1891.4 241.0L1891.9 241.0L1892.4 241.0L1892.9 241.0L1893.4 241.0L1893.9 241.0L1894.4 241.0L1894.9 241.0L1895.4 241.0L1895.9 241.0L1896.4 241.0L1896.9 241.0L1897.4 241.0L1897.9 241.0L1898.4 241.0L1898.9 241.0L1899.4 241.0L1899.9 241.0L1900.4 241.0L1900.9 241.0L1901.4 241.0L1901.9 241.0L1902.4 241.0L1902.9 241.0L1903.4 241.0L1903.9 241.0L1904.4 241.0L1904.9 241.0L1905.4 241.0L1905.9 241.0L1906.4 241.0L1906.9 241.0L1907.4 241.0L1907.9 241.0L1908.4 241.0L1908.9 241.0L1909.4 241.0L1909.9 241.0L1910.4 241.0L1910.9 241.0L1911.4 241.0L1911.9 241.0L1912.4 241.0L1912.9 241.0L1913.4 241.0L1913.9 241.0L1914.4 241.0L1914.9 241.0L1915.4 241.0L1915.9 241.0L1916.4 241.0L1916.9 241.0L1917.4 241.0L1917.9 241.0L1918.4 241.0L1918.9 241.0L1919.4 241.0L1919.9 241.0L1920.4 241.0L1920.9 241.0L1921.4 241.0L1921.9 241.0L1922.4 241.0L1922.9 241.0L1923.4 241.0L1923.9 241.0L1924.4 241.0L1924.9 241.0L1925.4 241.0L1925.9 241.1L1926.4 241.1L1926.9 241.1L1927.4 241.1L1927.9 241.1L1928.4 241.1L1928.9 241.1L1929.4 241.1L1929.9 241.1L1930.4 241.1L1930.9 241.1L1931.4 241.1L1931.9 241.1L1932.4 241.1L1932.9 241.1M1610.4 241.1L1610.9 241.1L1611.4 241.1L1611.9 241.1L1612.4 241.1L1612.9 241.1L1613.4 241.1L1613.9 241.1L1614.4 241.1L1614.9 241.1L1615.4 241.1L1615.9 241.1L1616.4 241.1L1616.9 241.1L1617.4 241.1L1617.9 241.1L1618.4 241.1L1618.9 241.1L1619.4 241.1L1619.9 241.1L1620.4 241.1L1620.9 241.1L1621.4 241.1L1621.9 241.1L1622.4 241.1L1622.9 241.1L1623.4 241.1L1623.9 241.1L1624.4 241.1L1624.9 241.1L1625.4 241.1L1625.9 241.1L1626.4 241.1L1626.9 241.1L1627.4 241.1L1627.9 241.1L1628.4 241.1L1628.9 241.1L1629.4 241.1L1629.9 241.1L1630.4 241.1L1630.9 241.1L1631.4 241.1L1631.9 241.1L1632.4 241.1L1632.9 241.1L1633.4 241.1L1633.9 241.1L1634.4 241.1L1634.9 241.1L1635.4 241.1L1635.9 241.1L1636.4 241.1L1636.9 241.1L1637.4 241.1L1637.9 241.1L1638.4 241.1L1638.9 241.1L1639.4 241.1L1639.9 241.1L1640.4 241.1L1640.9 241.1L1641.4 241.1L1641.9 241.1L1642.4 241.1L1642.9 241.1L1643.4 241.1L1643.9 241.1L1644.4 241.1L1644.9 241.1L1645.4 241.1L1645.9 241.1L1646.4 241.1L1646.9 241.1L1647.4 241.1L1647.9 241.1L1648.4 241.1L1648.9 241.1L1649.4 241.1L1649.9 241.1L1650.4 241.1L1650.9 241.1L1651.4 241.1L1651.9 241.1L1652.4 241.1L1652.9 241.1L1653.4 241.1L1653.9 241.1L1654.4 241.1L1654.9 241.1L1655.4 241.1L1655.9 241.1L1656.4 241.1L1656.9 241.1L1657.4 241.1L1657.9 241.1L1658.4 241.2L1658.9 241.2L1659.4 241.2L1659.9 241.2L1660.4 241.2L1660.9 241.2L1661.4 241.2L1661.9 241.3L1662.4 241.3L1662.9 241.3L1663.4 241.3L1663.9 241.3L1664.4 241.4L1664.9 241.4L1665.4 241.4L1665.9 241.5L1666.4 241.5L1666.9 241.5L1667.4 241.6L1667.9 241.6L1668.4 241.7L1668.9 241.7L1669.4 241.8L1669.9 241.8L1670.4 241.9L1670.9 242.0L1671.4 242.0L1671.9 242.1L1672.4 242.2L1672.9 242.3L1673.4 242.4L1673.9 242.5L1674.4 242.6L1674.9 242.7L1675.4 242.8L1675.9 243.0L1676.4 243.1L1676.9 243.3L1677.4 243.4L1677.9 243.6L1678.4 243.8L1678.9 244.0L1679.4 244.2L1679.9 244.4L1680.4 244.6L1680.9 244.9L1681.4 245.2L1681.9 245.4L1682.4 245.7L1682.9 246.0L1683.4 246.4L1683.9 246.7L1684.4 247.1L1684.9 247.5L1685.4 247.9L1685.9 248.3L1686.4 248.8L1686.9 249.3L1687.4 249.8L1687.9 250.3L1688.4 250.9L1688.9 251.5L1689.4 252.1L1689.9 252.8L1690.4 253.4L1690.9 254.2L1691.4 254.9L1691.9 255.7L1692.4 256.5L1692.9 257.4L1693.4 258.3L1693.9 259.2L1694.4 260.2L1694.9 261.2L1695.4 262.2L1695.9 263.3L1696.4 264.5L1696.9 265.7L1697.4 266.9L1697.9 268.2L1698.4 269.5L1698.9 270.9L1699.4 272.3L1699.9 273.8L1700.4 275.4L1700.9 276.9L1701.4 278.6L1701.9 280.3L1702.4 282.0L1702.9 283.8L1703.4 285.7L1703.9 287.6L1704.4 289.5L1704.9 291.5L1705.4 293.6L1705.9 295.7L1706.4 297.9L1706.9 300.1L1707.4 302.4L1707.9 304.8L1708.4 307.2L1708.9 309.6L1709.4 312.1L1709.9 314.6L1710.4 317.2L1710.9 319.9L1711.4 322.6L1711.9 325.3L1712.4 328.1L1712.9 330.9L1713.4 333.8L1713.9 336.7L1714.4 339.6L1714.9 342.6L1715.4 345.6L1715.9 348.6L1716.4 351.7L1716.9 354.8L1717.4 357.9L1717.9 361.0L1718.4 364.1L1718.9 367.3L1719.4 370.4L1719.9 373.6L1720.4 376.8L1720.9 380.0L1721.4 383.1L1721.9 386.3L1722.4 389.4L1722.9 392.6L1723.4 395.7L1723.9 398.8L1724.4 401.8L1724.9 404.9L1725.4 407.9L1725.9 410.8L1726.4 413.7L1726.9 416.6L1727.4 419.4L1727.9 422.2L1728.4 424.9L1728.9 427.5L1729.4 430.1L1729.9 432.6L1730.4 435.0L1730.9 437.4L1731.4 439.7L1731.9 441.9L1732.4 444.0L1732.9 446.0L1733.4 447.9L1733.9 449.7L1734.4 451.4L1734.9 453.0L1735.4 454.6L1735.9 456.0L1736.4 457.3L1736.9 458.4L1737.4 459.5L1737.9 460.5L1738.4 461.3L1738.9 462.0L1739.4 462.6L1739.9 463.1L1740.4 463.4L1740.9 463.7L1741.4 463.8L1741.9 463.8L1742.4 463.6L1742.9 463.4L1743.4 463.0L1743.9 462.5L1744.4 461.9L1744.9 461.1L1745.4 460.3L1745.9 459.3L1746.4 458.2L1746.9 457.0L1747.4 455.7L1747.9 454.3L1748.4 452.7L1748.9 451.1L1749.4 449.4L1749.9 447.5L1750.4 445.6L1750.9 443.5L1751.4 441.4L1751.9 439.2L1752.4 436.9L1752.9 434.6L1753.4 432.1L1753.9 429.6L1754.4 427.0L1754.9 424.3L1755.4 421.6L1755.9 418.9L1756.4 416.0L1756.9 413.1L1757.4 410.2L1757.9 407.3L1758.4 404.3L1758.9 401.2L1759.4 398.1L1759.9 395.1L1760.4 391.9L1760.9 388.8L1761.4 385.7L1761.9 382.5L1762.4 379.3L1762.9 376.2L1763.4 373.0L1763.9 369.8L1764.4 366.7L1764.9 363.5L1765.4 360.4L1765.9 357.2L1766.4 354.1L1766.9 351.1L1767.4 348.0L1767.9 345.0L1768.4 342.0L1768.9 339.0L1769.4 336.1L1769.9 333.2L1770.4 330.3L1770.9 327.5L1771.4 324.8L1771.9 322.0L1772.4 319.4L1772.9 316.7L1773.4 314.1L1773.9 311.6L1774.4 309.1L1774.9 306.7L1775.4 304.3L1775.9 302.0L1776.4 299.7L1776.9 297.5L1777.4 295.3L1777.9 293.2L1778.4 291.1L1778.9 289.1L1779.4 287.2L1779.9 285.3L1780.4 283.4L1780.9 281.7L1781.4 279.9L1781.9 278.2L1782.4 276.6L1782.9 275.0L1783.4 273.5L1783.9 272.1L1784.4 270.6L1784.9 269.3L1785.4 267.9L1785.9 266.7L1786.4 265.4L1786.9 264.3L1787.4 263.1L1787.9 262.0L1788.4 261.0L1788.9 260.0L1789.4 259.0L1789.9 258.1L1790.4 257.2L1790.9 256.3L1791.4 255.5L1791.9 254.8L1792.4 254.0L1792.9 253.3L1793.4 252.6L1793.9 252.0L1794.4 251.4L1794.9 250.8L1795.4 250.2L1795.9 249.7L1796.4 249.2L1796.9 248.7L1797.4 248.3L1797.9 247.8L1798.4 247.4L1798.9 247.0L1799.4 246.7L1799.9 246.3L1800.4 246.0L1800.9 245.7L1801.4 245.4L1801.9 245.1L1802.4 244.8L1802.9 244.6L1803.4 244.4L1803.9 244.1L1804.4 243.9L1804.9 243.7L1805.4 243.6L1805.9 243.4L1806.4 243.2L1806.9 243.1L1807.4 242.9L1807.9 242.8L1808.4 242.7L1808.9 242.6L1809.4 242.5L1809.9 242.4L1810.4 242.3L1810.9 242.2L1811.4 242.1L1811.9 242.0L1812.4 241.9L1812.9 241.9L1813.4 241.8L1813.9 241.8L1814.4 241.7L1814.9 241.6L1815.4 241.6L1815.9 241.6L1816.4 241.5L1816.9 241.5L1817.4 241.4L1817.9 241.4L1818.4 241.4L1818.9 241.4L1819.4 241.3L1819.9 241.3L1820.4 241.3L1820.9 241.3L1821.4 241.2L1821.9 241.2L1822.4 241.2L1822.9 241.2L1823.4 241.2L1823.9 241.2L1824.4 241.2L1824.9 241.2L1825.4 241.1L1825.9 241.1L1826.4 241.1L1826.9 241.1L1827.4 241.1L1827.9 241.1L1828.4 241.1L1828.9 241.1L1829.4 241.1L1829.9 241.1L1830.4 241.1L1830.9 241.1L1831.4 241.1L1831.9 241.1L1832.4 241.1L1832.9 241.1L1833.4 241.1L1833.9 241.1L1834.4 241.1L1834.9 241.1L1835.4 241.1L1835.9 241.1L1836.4 241.1L1836.9 241.1L1837.4 241.1L1837.9 241.1L1838.4 241.1L1838.9 241.1L1839.4 241.1L1839.9 241.1L1840.4 241.1L1840.9 241.1L1841.4 241.1L1841.9 241.1L1842.4 241.1L1842.9 241.1L1843.4 241.1L1843.9 241.1L1844.4 241.1L1844.9 241.1L1845.4 241.1L1845.9 241.1L1846.4 241.1L1846.9 241.1L1847.4 241.1L1847.9 241.1L1848.4 241.1L1848.9 241.1L1849.4 241.1L1849.9 241.1L1850.4 241.1L1850.9 241.1L1851.4 241.1L1851.9 241.1L1852.4 241.1L1852.9 241.1L1853.4 241.1L1853.9 241.1L1854.4 241.1L1854.9 241.1L1855.4 241.1L1855.9 241.1L1856.4 241.1L1856.9 241.1L1857.4 241.1L1857.9 241.1L1858.4 241.1L1858.9 241.1L1859.4 241.1L1859.9 241.1L1860.4 241.1L1860.9 241.1L1861.4 241.1L1861.9 241.1L1862.4 241.1L1862.9 241.1L1863.4 241.1L1863.9 241.1L1864.4 241.1L1864.9 241.1L1865.4 241.1L1865.9 241.1L1866.4 241.1L1866.9 241.1L1867.4 241.1L1867.9 241.1L1868.4 241.1L1868.9 241.1L1869.4 241.1L1869.9 241.1L1870.4 241.1L1870.9 241.1L1871.4 241.1L1871.9 241.1L1872.4 241.1L1872.9 241.1L1873.4 241.1L1873.9 241.1L1874.4 241.1L1874.9 241.1L1875.4 241.1L1875.9 241.1L1876.4 241.1L1876.9 241.1L1877.4 241.1L1877.9 241.1L1878.4 241.1L1878.9 241.1L1879.4 241.1L1879.9 241.1L1880.4 241.1L1880.9 241.1L1881.4 241.1L1881.9 241.1L1882.4 241.1L1882.9 241.1L1883.4 241.1L1883.9 241.1L1884.4 241.1L1884.9 241.1L1885.4 241.1L1885.9 241.1L1886.4 241.1L1886.9 241.1L1887.4 241.1L1887.9 241.1L1888.4 241.1L1888.9 241.1L1889.4 241.1L1889.9 241.1L1890.4 241.1L1890.9 241.1L1891.4 241.1L1891.9 241.1L1892.4 241.1L1892.9 241.1L1893.4 241.1L1893.9 241.1L1894.4 241.1L1894.9 241.1L1895.4 241.1L1895.9 241.1L1896.4 241.1L1896.9 241.1L1897.4 241.1L1897.9 241.1L1898.4 241.1L1898.9 241.1L1899.4 241.1L1899.9 241.1L1900.4 241.1L1900.9 241.1L1901.4 241.1L1901.9 241.1L1902.4 241.1L1902.9 241.1L1903.4 241.1L1903.9 241.1L1904.4 241.1L1904.9 241.1L1905.4 241.1L1905.9 241.1L1906.4 241.1L1906.9 241.1L1907.4 241.1L1907.9 241.1L1908.4 241.1L1908.9 241.1L1909.4 241.1L1909.9 241.1L1910.4 241.1L1910.9 241.1L1911.4 241.1L1911.9 241.1L1912.4 241.1L1912.9 241.1L1913.4 241.1L1913.9 241.1L1914.4 241.1L1914.9 241.1L1915.4 241.1L1915.9 241.1L1916.4 241.1L1916.9 241.1L1917.4 241.1L1917.9 241.1L1918.4 241.1L1918.9 241.1L1919.4 241.1L1919.9 241.1L1920.4 241.1L1920.9 241.1L1921.4 241.1L1921.9 241.1L1922.4 241.1L1922.9 241.1L1923.4 241.1L1923.9 241.1L1924.4 241.1L1924.9 241.1L1925.4 241.1L1925.9 241.1L1926.4 241.1L1926.9 241.1L1927.4 241.1L1927.9 241.1L1928.4 241.1L1928.9 241.1L1929.4 241.1L1929.9 241.1L1930.4 241.1L1930.9 241.1L1931.4 241.1L1931.9 241.1L1932.4 241.1L1932.9 241.1" stroke="#000" stroke-width="3.6"/>
<path d="M1610.4 241.1L1610.9 241.1L1611.4 241.1L1611.9 241.1L1612.4 241.1L1612.9 241.1L1613.4 241.1L1613.9 241.1L1614.4 241.1L1614.9 241.1L1615.4 241.1L1615.9 241.1L1616.4 241.1L1616.9 241.1L1617.4 241.1L1617.9 241.1L1618.4 241.1L1618.9 241.1L1619.4 241.1L1619.9 241.1L1620.4 241.1L1620.9 241.1L1621.4 241.1L1621.9 241.1L1622.4 241.1L1622.9 241.1L1623.4 241.1L1623.9 241.1L1624.4 241.1L1624.9 241.1L1625.4 241.1L1625.9 241.1L1626.4 241.1L1626.9 241.1L1627.4 241.1L1627.9 241.1L1628.4 241.1L1628.9 241.1L1629.4 241.1L1629.9 241.1L1630.4 241.1L1630.9 241.1L1631.4 241.1L1631.9 241.1L1632.4 241.1L1632.9 241.1L1633.4 241.1L1633.9 241.1L1634.4 241.1L1634.9 241.1L1635.4 241.1L1635.9 241.1L1636.4 241.1L1636.9 241.1L1637.4 241.1L1637.9 241.1L1638.4 241.1L1638.9 241.1L1639.4 241.1L1639.9 241.1L1640.4 241.1L1640.9 241.1L1641.4 241.1L1641.9 241.1L1642.4 241.1L1642.9 241.1L1643.4 241.1L1643.9 241.1L1644.4 241.1L1644.9 241.1L1645.4 241.1L1645.9 241.1L1646.4 241.1L1646.9 241.1L1647.4 241.1L1647.9 241.1L1648.4 241.1L1648.9 241.1L1649.4 241.1L1649.9 241.1L1650.4 241.1L1650.9 241.1L1651.4 241.1L1651.9 241.1L1652.4 241.1L1652.9 241.1L1653.4 241.1L1653.9 241.1L1654.4 241.1L1654.9 241.1L1655.4 241.1L1655.9 241.1L1656.4 241.1L1656.9 241.1L1657.4 241.1L1657.9 241.1L1658.4 241.1L1658.9 241.1L1659.4 241.1L1659.9 241.1L1660.4 241.1L1660.9 241.1L1661.4 241.1L1661.9 241.1L1662.4 241.1L1662.9 241.1L1663.4 241.1L1663.9 241.1L1664.4 241.1L1664.9 241.1L1665.4 241.1L1665.9 241.1L1666.4 241.1L1666.9 241.1L1667.4 241.1L1667.9 241.1L1668.4 241.1L1668.9 241.1L1669.4 241.2L1669.9 241.3L1670.4 241.4L1670.9 241.5L1671.4 241.7L1671.9 241.9L1672.4 242.1L1672.9 242.3L1673.4 242.6L1673.9 242.8L1674.4 243.1L1674.9 243.4L1675.4 243.7L1675.9 244.1L1676.4 244.4L1676.9 244.7L1677.4 245.0L1677.9 245.4L1678.4 245.7L1678.9 246.0L1679.4 246.3L1679.9 246.6L1680.4 246.9L1680.9 247.2L1681.4 247.5L1681.9 247.7L1682.4 247.9L1682.9 248.1L1683.4 248.3L1683.9 248.5L1684.4 248.6L1684.9 248.7L1685.4 248.8L1685.9 248.8L1686.4 248.8L1686.9 248.7L1687.4 248.3L1687.9 247.6L1688.4 246.6L1688.9 245.3L1689.4 243.8L1689.9 242.0L1690.4 239.9L1690.9 237.7L1691.4 235.3L1691.9 232.7L1692.4 230.0L1692.9 227.2L1693.4 224.4L1693.9 221.5L1694.4 218.7L1694.9 215.9L1695.4 213.2L1695.9 210.6L1696.4 208.1L1696.9 205.8L1697.4 203.8L1697.9 201.9L1698.4 200.3L1698.9 199.0L1699.4 197.9L1699.9 197.1L1700.4 196.7L1700.9 196.5L1701.4 196.9L1701.9 198.3L1702.4 200.4L1702.9 203.4L1703.4 207.2L1703.9 211.8L1704.4 217.1L1704.9 223.0L1705.4 229.5L1705.9 236.5L1706.4 244.0L1706.9 251.8L1707.4 259.8L1707.9 268.1L1708.4 276.4L1708.9 284.7L1709.4 292.9L1709.9 301.0L1710.4 308.7L1710.9 316.1L1711.4 323.0L1711.9 329.4L1712.4 335.2L1712.9 340.3L1713.4 344.7L1713.9 348.4L1714.4 351.2L1714.9 353.2L1715.4 354.4L1715.9 354.6L1716.4 353.1L1716.9 349.3L1717.4 343.4L1717.9 335.4L1718.4 325.5L1718.9 313.8L1719.4 300.5L1719.9 285.7L1720.4 269.7L1720.9 252.7L1721.4 235.0L1721.9 216.8L1722.4 198.4L1722.9 180.0L1723.4 162.0L1723.9 144.5L1724.4 127.9L1724.9 112.4L1725.4 98.2L1725.9 85.4L1726.4 74.4L1726.9 65.3L1727.4 58.1L1727.9 53.1L1728.4 50.2L1728.9 49.6L1729.4 51.8L1729.9 57.4L1730.4 66.0L1730.9 77.7L1731.4 92.2L1731.9 109.2L1732.4 128.6L1732.9 150.1L1733.4 173.2L1733.9 197.6L1734.4 223.0L1734.9 248.8L1735.4 274.8L1735.9 300.6L1736.4 325.6L1736.9 349.5L1737.4 372.0L1737.9 392.7L1738.4 411.2L1738.9 427.2L1739.4 440.6L1739.9 451.1L1740.4 458.5L1740.9 462.8L1741.4 463.7L1741.9 461.0L1742.4 454.3L1742.9 443.9L1743.4 430.0L1743.9 412.8L1744.4 392.7L1744.9 370.0L1745.4 345.2L1745.9 318.8L1746.4 291.3L1746.9 263.3L1747.4 235.3L1747.9 207.8L1748.4 181.4L1748.9 156.7L1749.4 134.0L1749.9 113.8L1750.4 96.6L1750.9 82.7L1751.4 72.3L1751.9 65.7L1752.4 62.9L1752.9 63.8L1753.4 67.5L1753.9 73.9L1754.4 83.0L1754.9 94.5L1755.4 108.3L1755.9 124.0L1756.4 141.3L1756.9 159.8L1757.4 179.3L1757.9 199.2L1758.4 219.2L1758.9 238.9L1759.4 257.8L1759.9 275.6L1760.4 292.0L1760.9 306.6L1761.4 319.0L1761.9 329.1L1762.4 336.6L1762.9 341.5L1763.4 343.5L1763.9 343.1L1764.4 341.2L1764.9 338.0L1765.4 333.4L1765.9 327.7L1766.4 320.8L1766.9 313.0L1767.4 304.3L1767.9 295.0L1768.4 285.3L1768.9 275.4L1769.4 265.4L1769.9 255.5L1770.4 246.0L1770.9 237.1L1771.4 228.9L1771.9 221.7L1772.4 215.4L1772.9 210.4L1773.4 206.6L1773.9 204.2L1774.4 203.2L1774.9 203.4L1775.4 204.1L1775.9 205.3L1776.4 207.0L1776.9 209.2L1777.4 211.8L1777.9 214.7L1778.4 217.9L1778.9 221.3L1779.4 224.8L1779.9 228.4L1780.4 231.9L1780.9 235.3L1781.4 238.5L1781.9 241.4L1782.4 244.0L1782.9 246.1L1783.4 247.9L1783.9 249.1L1784.4 249.8L1784.9 250.0L1785.4 249.8L1785.9 249.6L1786.4 249.2L1786.9 248.6L1787.4 248.0L1787.9 247.3L1788.4 246.5L1788.9 245.7L1789.4 244.9L1789.9 244.2L1790.4 243.5L1790.9 242.9L1791.4 242.5L1791.9 242.1L1792.4 242.0L1792.9 241.9L1793.4 241.8L1793.9 241.7L1794.4 241.4L1794.9 241.0L1795.4 240.6L1795.9 240.1L1796.4 239.5L1796.9 239.0L1797.4 238.4L1797.9 237.9L1798.4 237.4L1798.9 236.9L1799.4 236.5L1799.9 236.2L1800.4 235.9L1800.9 235.8L1801.4 235.7L1801.9 235.8L1802.4 236.0L1802.9 236.4L1803.4 236.9L1803.9 237.5L1804.4 238.3L1804.9 239.1L1805.4 240.0L1805.9 241.0L1806.4 242.0L1806.9 243.0L1807.4 244.0L1807.9 244.9L1808.4 245.8L1808.9 246.7L1809.4 247.4L1809.9 248.0L1810.4 248.5L1810.9 248.8L1811.4 249.0L1811.9 249.1L1812.4 248.9L1812.9 248.6L1813.4 248.1L1813.9 247.4L1814.4 246.6L1814.9 245.6L1815.4 244.5L1815.9 243.3L1816.4 242.1L1816.9 240.8L1817.4 239.6L1817.9 238.3L1818.4 237.2L1818.9 236.1L1819.4 235.1L1819.9 234.3L1820.4 233.7L1820.9 233.2L1821.4 232.9L1821.9 232.8L1822.4 232.9L1822.9 233.2L1823.4 233.7L1823.9 234.3L1824.4 235.1L1824.9 236.1L1825.4 237.2L1825.9 238.3L1826.4 239.6L1826.9 240.9L1827.4 242.2L1827.9 243.4L1828.4 244.7L1828.9 245.8L1829.4 246.9L1829.9 247.8L1830.4 248.6L1830.9 249.2L1831.4 249.6L1831.9 249.9L1832.4 250.0L1832.9 249.8L1833.4 249.4L1833.9 248.9L1834.4 248.1L1834.9 247.2L1835.4 246.2L1835.9 245.0L1836.4 243.8L1836.9 242.5L1837.4 241.2L1837.9 239.9L1838.4 238.6L1838.9 237.5L1839.4 236.5L1839.9 235.6L1840.4 234.9L1840.9 234.3L1841.4 234.0L1841.9 233.9L1842.4 234.0L1842.9 234.2L1843.4 234.6L1843.9 235.1L1844.4 235.8L1844.9 236.5L1845.4 237.4L1845.9 238.3L1846.4 239.3L1846.9 240.3L1847.4 241.3L1847.9 242.4L1848.4 243.4L1848.9 244.3L1849.4 245.1L1849.9 245.9L1850.4 246.5L1850.9 247.0L1851.4 247.4L1851.9 247.7L1852.4 247.7L1852.9 247.7L1853.4 247.5L1853.9 247.2L1854.4 246.7L1854.9 246.2L1855.4 245.6L1855.9 244.8L1856.4 244.1L1856.9 243.2L1857.4 242.4L1857.9 241.5L1858.4 240.7L1858.9 239.8L1859.4 239.0L1859.9 238.3L1860.4 237.7L1860.9 237.2L1861.4 236.7L1861.9 236.4L1862.4 236.2L1862.9 236.1L1863.4 236.2L1863.9 236.3L1864.4 236.6L1864.9 236.9L1865.4 237.3L1865.9 237.7L1866.4 238.2L1866.9 238.8L1867.4 239.4L1867.9 240.0L1868.4 240.6L1868.9 241.3L1869.4 241.8L1869.9 242.4L1870.4 242.9L1870.9 243.4L1871.4 243.7L1871.9 244.0L1872.4 244.2L1872.9 244.4L1873.4 244.4L1873.9 244.3L1874.4 244.2L1874.9 244.1L1875.4 243.9L1875.9 243.6L1876.4 243.3L1876.9 242.9L1877.4 242.5L1877.9 242.2L1878.4 241.7L1878.9 241.3L1879.4 241.0L1879.9 240.6L1880.4 240.3L1880.9 240.0L1881.4 239.7L1881.9 239.5L1882.4 239.4L1882.9 239.3L1883.4 239.3L1883.9 239.3L1884.4 239.4L1884.9 239.5L1885.4 239.7L1885.9 239.9L1886.4 240.2L1886.9 240.4L1887.4 240.7L1887.9 241.0L1888.4 241.3L1888.9 241.7L1889.4 241.9L1889.9 242.2L1890.4 242.5L1890.9 242.7L1891.4 242.8L1891.9 243.0L1892.4 243.0L1892.9 243.1L1893.4 243.0L1893.9 243.0L1894.4 242.9L1894.9 242.7L1895.4 242.5L1895.9 242.3L1896.4 242.1L1896.9 241.8L1897.4 241.5L1897.9 241.3L1898.4 241.0L1898.9 240.7L1899.4 240.5L1899.9 240.3L1900.4 240.1L1900.9 239.9L1901.4 239.8L1901.9 239.7L1902.4 239.7L1902.9 239.7L1903.4 239.8L1903.9 239.9L1904.4 240.1L1904.9 240.3L1905.4 240.6L1905.9 240.9L1906.4 241.2L1906.9 241.5L1907.4 241.8L1907.9 242.1L1908.4 242.4L1908.9 242.7L1909.4 242.9L1909.9 243.2L1910.4 243.3L1910.9 243.4L1911.4 243.5L1911.9 243.5L1912.4 243.4L1912.9 243.4L1913.4 243.2L1913.9 243.0L1914.4 242.8L1914.9 242.5L1915.4 242.2L1915.9 241.9L1916.4 241.6L1916.9 241.3L1917.4 240.9L1917.9 240.6L1918.4 240.3L1918.9 240.0L1919.4 239.8L1919.9 239.6L1920.4 239.4L1920.9 239.3L1921.4 239.3L1921.9 239.3L1922.4 239.3L1922.9 239.4L1923.4 239.4L1923.9 239.5L1924.4 239.7L1924.9 239.8L1925.4 240.0L1925.9 240.2L1926.4 240.4L1926.9 240.6L1927.4 240.8L1927.9 241.0L1928.4 241.3L1928.9 241.5L1929.4 241.6L1929.9 241.8L1930.4 242.0L1930.9 242.1L1931.4 242.2L1931.9 242.3L1932.4 242.4L1932.9 242.4" stroke="#e2183a" stroke-width="3.4"/>
</g>
<rect x="1610.4" y="18.3" width="322.7" height="445.5" fill="none" stroke="#000" stroke-width="2.2"/>
<path d="M1663.8 456.8v14M1772.1 456.8v14M1879.6 456.8v14" stroke="#000" stroke-width="2.2"/>
<path d="M1661.8 180V221.8" stroke="#000" stroke-width="4.3"/>
<path d="M1653.8999999999999 216.8L1661.8 235.8L1669.7 216.8L1661.8 222.8Z" fill="#000"/>
<text x="1585" y="26.5" font-size="29.5" textLength="9.5" lengthAdjust="spacingAndGlyphs">1</text>
<text x="1582.5" y="251.2" font-size="29.5" textLength="15.5" lengthAdjust="spacingAndGlyphs">0</text>
<text x="1572.5" y="474.3" font-size="29.5" textLength="22" lengthAdjust="spacingAndGlyphs">-1</text>
<g transform="translate(1568 284.4) rotate(-90)"><text x="-2" y="0" font-size="29.5" textLength="15.2" lengthAdjust="spacingAndGlyphs">E</text><text x="13.6" y="3.1" font-size="17.5" textLength="8" lengthAdjust="spacingAndGlyphs">x</text><text x="25.7" y="0" font-size="29.5" textLength="62" lengthAdjust="spacingAndGlyphs">(a.u.)</text></g>
<text x="1537.5" y="34.1" font-size="38" font-weight="bold">e</text>
<path d="M1603.4 541.9h14M1603.4 764.6h14M1603.4 987.3h14" stroke="#000" stroke-width="2.2"/>
<g clip-path="url(#cf)" fill="none" stroke-linejoin="round">
<path d="M1610.4 764.6L1610.9 764.6L1611.4 764.6L1611.9 764.6L1612.4 764.6L1612.9 764.6L1613.4 764.6L1613.9 764.6L1614.4 764.6L1614.9 764.6L1615.4 764.6L1615.9 764.6L1616.4 764.6L1616.9 764.6L1617.4 764.6L1617.9 764.6L1618.4 764.6L1618.9 764.6L1619.4 764.6L1619.9 764.6L1620.4 764.6L1620.9 764.6L1621.4 764.6L1621.9 764.6L1622.4 764.6L1622.9 764.6L1623.4 764.6L1623.9 764.6L1624.4 764.6L1624.9 764.6L1625.4 764.6L1625.9 764.6L1626.4 764.6L1626.9 764.6L1627.4 764.6L1627.9 764.6L1628.4 764.6L1628.9 764.6L1629.4 764.6L1629.9 764.6L1630.4 764.6L1630.9 764.6L1631.4 764.6L1631.9 764.6L1632.4 764.6L1632.9 764.6L1633.4 764.6L1633.9 764.6L1634.4 764.6L1634.9 764.6L1635.4 764.6L1635.9 764.6L1636.4 764.6L1636.9 764.6L1637.4 764.6L1637.9 764.6L1638.4 764.6L1638.9 764.6L1639.4 764.6L1639.9 764.6L1640.4 764.6L1640.9 764.6L1641.4 764.6L1641.9 764.6L1642.4 764.6L1642.9 764.6L1643.4 764.6L1643.9 764.6L1644.4 764.6L1644.9 764.6L1645.4 764.6L1645.9 764.6L1646.4 764.6L1646.9 764.6L1647.4 764.6L1647.9 764.6L1648.4 764.6L1648.9 764.6L1649.4 764.6L1649.9 764.6L1650.4 764.6L1650.9 764.6L1651.4 764.6L1651.9 764.6L1652.4 764.6L1652.9 764.6L1653.4 764.6L1653.9 764.6L1654.4 764.6L1654.9 764.6L1655.4 764.6L1655.9 764.6L1656.4 764.6L1656.9 764.6L1657.4 764.6L1657.9 764.6L1658.4 764.6L1658.9 764.6L1659.4 764.6L1659.9 764.6L1660.4 764.6L1660.9 764.6L1661.4 764.6L1661.9 764.6L1662.4 764.6L1662.9 764.6L1663.4 764.6L1663.9 764.6L1664.4 764.6L1664.9 764.6L1665.4 764.6L1665.9 764.6L1666.4 764.6L1666.9 764.6L1667.4 764.6L1667.9 764.6L1668.4 764.6L1668.9 764.6L1669.4 764.5L1669.9 764.5L1670.4 764.5L1670.9 764.5L1671.4 764.5L1671.9 764.5L1672.4 764.5L1672.9 764.5L1673.4 764.5L1673.9 764.5L1674.4 764.5L1674.9 764.5L1675.4 764.4L1675.9 764.4L1676.4 764.4L1676.9 764.4L1677.4 764.4L1677.9 764.4L1678.4 764.3L1678.9 764.3L1679.4 764.3L1679.9 764.2L1680.4 764.2L1680.9 764.2L1681.4 764.1L1681.9 764.1L1682.4 764.1L1682.9 764.0L1683.4 764.0L1683.9 763.9L1684.4 763.9L1684.9 763.8L1685.4 763.7L1685.9 763.7L1686.4 763.6L1686.9 763.5L1687.4 763.4L1687.9 763.3L1688.4 763.2L1688.9 763.1L1689.4 763.0L1689.9 762.9L1690.4 762.7L1690.9 762.6L1691.4 762.4L1691.9 762.3L1692.4 762.1L1692.9 761.9L1693.4 761.7L1693.9 761.5L1694.4 761.3L1694.9 761.0L1695.4 760.8L1695.9 760.5L1696.4 760.2L1696.9 759.9L1697.4 759.6L1697.9 759.3L1698.4 758.9L1698.9 758.6L1699.4 758.2L1699.9 757.7L1700.4 757.3L1700.9 756.8L1701.4 756.3L1701.9 755.8L1702.4 755.3L1702.9 754.7L1703.4 754.1L1703.9 753.5L1704.4 752.8L1704.9 752.1L1705.4 751.4L1705.9 750.6L1706.4 749.8L1706.9 749.0L1707.4 748.1L1707.9 747.2L1708.4 746.2L1708.9 745.2L1709.4 744.2L1709.9 743.1L1710.4 742.0L1710.9 740.8L1711.4 739.6L1711.9 738.3L1712.4 737.0L1712.9 735.6L1713.4 734.2L1713.9 732.7L1714.4 731.2L1714.9 729.6L1715.4 728.0L1715.9 726.3L1716.4 724.5L1716.9 722.8L1717.4 720.9L1717.9 719.0L1718.4 717.0L1718.9 715.0L1719.4 712.9L1719.9 710.8L1720.4 708.6L1720.9 706.4L1721.4 704.1L1721.9 701.7L1722.4 699.3L1722.9 696.9L1723.4 694.3L1723.9 691.8L1724.4 689.2L1724.9 686.5L1725.4 683.8L1725.9 681.0L1726.4 678.2L1726.9 675.4L1727.4 672.5L1727.9 669.5L1728.4 666.6L1728.9 663.5L1729.4 660.5L1729.9 657.4L1730.4 654.3L1730.9 651.2L1731.4 648.1L1731.9 644.9L1732.4 641.7L1732.9 638.5L1733.4 635.3L1733.9 632.1L1734.4 628.9L1734.9 625.7L1735.4 622.5L1735.9 619.3L1736.4 616.1L1736.9 612.9L1737.4 609.7L1737.9 606.6L1738.4 603.5L1738.9 600.4L1739.4 597.4L1739.9 594.4L1740.4 591.5L1740.9 588.6L1741.4 585.7L1741.9 582.9L1742.4 580.2L1742.9 577.5L1743.4 574.9L1743.9 572.4L1744.4 570.0L1744.9 567.6L1745.4 565.3L1745.9 563.1L1746.4 561.0L1746.9 559.0L1747.4 557.1L1747.9 555.3L1748.4 553.6L1748.9 552.0L1749.4 550.5L1749.9 549.1L1750.4 547.9L1750.9 546.7L1751.4 545.7L1751.9 544.8L1752.4 544.0L1752.9 543.3L1753.4 542.8L1753.9 542.4L1754.4 542.1L1754.9 541.9L1755.4 541.9L1755.9 542.0L1756.4 542.2L1756.9 542.5L1757.4 543.0L1757.9 543.6L1758.4 544.3L1758.9 545.1L1759.4 546.1L1759.9 547.2L1760.4 548.4L1760.9 549.7L1761.4 551.1L1761.9 552.6L1762.4 554.3L1762.9 556.0L1763.4 557.9L1763.9 559.8L1764.4 561.9L1764.9 564.0L1765.4 566.2L1765.9 568.5L1766.4 570.9L1766.9 573.4L1767.4 576.0L1767.9 578.6L1768.4 581.3L1768.9 584.0L1769.4 586.8L1769.9 589.7L1770.4 592.6L1770.9 595.6L1771.4 598.6L1771.9 601.7L1772.4 604.7L1772.9 607.9L1773.4 611.0L1773.9 614.2L1774.4 617.3L1774.9 620.5L1775.4 623.7L1775.9 627.0L1776.4 630.2L1776.9 633.4L1777.4 636.6L1777.9 639.8L1778.4 643.0L1778.9 646.2L1779.4 649.3L1779.9 652.5L1780.4 655.6L1780.9 658.7L1781.4 661.7L1781.9 664.8L1782.4 667.8L1782.9 670.7L1783.4 673.6L1783.9 676.5L1784.4 679.3L1784.9 682.1L1785.4 684.9L1785.9 687.6L1786.4 690.2L1786.9 692.8L1787.4 695.4L1787.9 697.9L1788.4 700.3L1788.9 702.7L1789.4 705.0L1789.9 707.3L1790.4 709.5L1790.9 711.7L1791.4 713.8L1791.9 715.8L1792.4 717.8L1792.9 719.8L1793.4 721.7L1793.9 723.5L1794.4 725.3L1794.9 727.0L1795.4 728.6L1795.9 730.2L1796.4 731.8L1796.9 733.3L1797.4 734.7L1797.9 736.1L1798.4 737.5L1798.9 738.8L1799.4 740.0L1799.9 741.3L1800.4 742.4L1800.9 743.5L1801.4 744.6L1801.9 745.6L1802.4 746.6L1802.9 747.5L1803.4 748.4L1803.9 749.3L1804.4 750.1L1804.9 750.9L1805.4 751.7L1805.9 752.4L1806.4 753.1L1806.9 753.7L1807.4 754.3L1807.9 754.9L1808.4 755.5L1808.9 756.0L1809.4 756.5L1809.9 757.0L1810.4 757.5L1810.9 757.9L1811.4 758.3L1811.9 758.7L1812.4 759.1L1812.9 759.4L1813.4 759.8L1813.9 760.1L1814.4 760.4L1814.9 760.6L1815.4 760.9L1815.9 761.1L1816.4 761.4L1816.9 761.6L1817.4 761.8L1817.9 762.0L1818.4 762.2L1818.9 762.3L1819.4 762.5L1819.9 762.6L1820.4 762.8L1820.9 762.9L1821.4 763.0L1821.9 763.1L1822.4 763.2L1822.9 763.3L1823.4 763.4L1823.9 763.5L1824.4 763.6L1824.9 763.7L1825.4 763.8L1825.9 763.8L1826.4 763.9L1826.9 763.9L1827.4 764.0L1827.9 764.0L1828.4 764.1L1828.9 764.1L1829.4 764.2L1829.9 764.2L1830.4 764.2L1830.9 764.3L1831.4 764.3L1831.9 764.3L1832.4 764.3L1832.9 764.4L1833.4 764.4L1833.9 764.4L1834.4 764.4L1834.9 764.4L1835.4 764.4L1835.9 764.5L1836.4 764.5L1836.9 764.5L1837.4 764.5L1837.9 764.5L1838.4 764.5L1838.9 764.5L1839.4 764.5L1839.9 764.5L1840.4 764.5L1840.9 764.5L1841.4 764.6L1841.9 764.6L1842.4 764.6L1842.9 764.6L1843.4 764.6L1843.9 764.6L1844.4 764.6L1844.9 764.6L1845.4 764.6L1845.9 764.6L1846.4 764.6L1846.9 764.6L1847.4 764.6L1847.9 764.6L1848.4 764.6L1848.9 764.6L1849.4 764.6L1849.9 764.6L1850.4 764.6L1850.9 764.6L1851.4 764.6L1851.9 764.6L1852.4 764.6L1852.9 764.6L1853.4 764.6L1853.9 764.6L1854.4 764.6L1854.9 764.6L1855.4 764.6L1855.9 764.6L1856.4 764.6L1856.9 764.6L1857.4 764.6L1857.9 764.6L1858.4 764.6L1858.9 764.6L1859.4 764.6L1859.9 764.6L1860.4 764.6L1860.9 764.6L1861.4 764.6L1861.9 764.6L1862.4 764.6L1862.9 764.6L1863.4 764.6L1863.9 764.6L1864.4 764.6L1864.9 764.6L1865.4 764.6L1865.9 764.6L1866.4 764.6L1866.9 764.6L1867.4 764.6L1867.9 764.6L1868.4 764.6L1868.9 764.6L1869.4 764.6L1869.9 764.6L1870.4 764.6L1870.9 764.6L1871.4 764.6L1871.9 764.6L1872.4 764.6L1872.9 764.6L1873.4 764.6L1873.9 764.6L1874.4 764.6L1874.9 764.6L1875.4 764.6L1875.9 764.6L1876.4 764.6L1876.9 764.6L1877.4 764.6L1877.9 764.6L1878.4 764.6L1878.9 764.6L1879.4 764.6L1879.9 764.6L1880.4 764.6L1880.9 764.6L1881.4 764.6L1881.9 764.6L1882.4 764.6L1882.9 764.6L1883.4 764.6L1883.9 764.6L1884.4 764.6L1884.9 764.6L1885.4 764.6L1885.9 764.6L1886.4 764.6L1886.9 764.6L1887.4 764.6L1887.9 764.6L1888.4 764.6L1888.9 764.6L1889.4 764.6L1889.9 764.6L1890.4 764.6L1890.9 764.6L1891.4 764.6L1891.9 764.6L1892.4 764.6L1892.9 764.6L1893.4 764.6L1893.9 764.6L1894.4 764.6L1894.9 764.6L1895.4 764.6L1895.9 764.6L1896.4 764.6L1896.9 764.6L1897.4 764.6L1897.9 764.6L1898.4 764.6L1898.9 764.6L1899.4 764.6L1899.9 764.6L1900.4 764.6L1900.9 764.6L1901.4 764.6L1901.9 764.6L1902.4 764.6L1902.9 764.6L1903.4 764.6L1903.9 764.6L1904.4 764.6L1904.9 764.6L1905.4 764.6L1905.9 764.6L1906.4 764.6L1906.9 764.6L1907.4 764.6L1907.9 764.6L1908.4 764.6L1908.9 764.6L1909.4 764.6L1909.9 764.6L1910.4 764.6L1910.9 764.6L1911.4 764.6L1911.9 764.6L1912.4 764.6L1912.9 764.6L1913.4 764.6L1913.9 764.6L1914.4 764.6L1914.9 764.6L1915.4 764.6L1915.9 764.6L1916.4 764.6L1916.9 764.6L1917.4 764.6L1917.9 764.6L1918.4 764.6L1918.9 764.6L1919.4 764.6L1919.9 764.6L1920.4 764.6L1920.9 764.6L1921.4 764.6L1921.9 764.6L1922.4 764.6L1922.9 764.6L1923.4 764.6L1923.9 764.6L1924.4 764.6L1924.9 764.6L1925.4 764.6L1925.9 764.6L1926.4 764.6L1926.9 764.6L1927.4 764.6L1927.9 764.6L1928.4 764.6L1928.9 764.6L1929.4 764.6L1929.9 764.6L1930.4 764.6L1930.9 764.6L1931.4 764.6L1931.9 764.6L1932.4 764.6L1932.9 764.6M1610.4 764.6L1610.9 764.6L1611.4 764.6L1611.9 764.6L1612.4 764.6L1612.9 764.6L1613.4 764.6L1613.9 764.6L1614.4 764.6L1614.9 764.6L1615.4 764.6L1615.9 764.6L1616.4 764.6L1616.9 764.6L1617.4 764.6L1617.9 764.6L1618.4 764.6L1618.9 764.6L1619.4 764.6L1619.9 764.6L1620.4 764.6L1620.9 764.6L1621.4 764.6L1621.9 764.6L1622.4 764.6L1622.9 764.6L1623.4 764.6L1623.9 764.6L1624.4 764.6L1624.9 764.6L1625.4 764.6L1625.9 764.6L1626.4 764.6L1626.9 764.6L1627.4 764.6L1627.9 764.6L1628.4 764.6L1628.9 764.6L1629.4 764.6L1629.9 764.6L1630.4 764.6L1630.9 764.6L1631.4 764.6L1631.9 764.6L1632.4 764.6L1632.9 764.6L1633.4 764.6L1633.9 764.6L1634.4 764.6L1634.9 764.6L1635.4 764.6L1635.9 764.6L1636.4 764.6L1636.9 764.6L1637.4 764.6L1637.9 764.6L1638.4 764.6L1638.9 764.6L1639.4 764.6L1639.9 764.6L1640.4 764.6L1640.9 764.6L1641.4 764.6L1641.9 764.6L1642.4 764.6L1642.9 764.6L1643.4 764.6L1643.9 764.6L1644.4 764.6L1644.9 764.6L1645.4 764.6L1645.9 764.6L1646.4 764.6L1646.9 764.6L1647.4 764.6L1647.9 764.6L1648.4 764.6L1648.9 764.6L1649.4 764.6L1649.9 764.6L1650.4 764.6L1650.9 764.6L1651.4 764.6L1651.9 764.6L1652.4 764.6L1652.9 764.6L1653.4 764.6L1653.9 764.6L1654.4 764.6L1654.9 764.6L1655.4 764.6L1655.9 764.6L1656.4 764.6L1656.9 764.6L1657.4 764.6L1657.9 764.6L1658.4 764.6L1658.9 764.6L1659.4 764.6L1659.9 764.6L1660.4 764.6L1660.9 764.6L1661.4 764.6L1661.9 764.6L1662.4 764.6L1662.9 764.6L1663.4 764.6L1663.9 764.6L1664.4 764.6L1664.9 764.6L1665.4 764.6L1665.9 764.6L1666.4 764.6L1666.9 764.6L1667.4 764.6L1667.9 764.6L1668.4 764.6L1668.9 764.6L1669.4 764.7L1669.9 764.7L1670.4 764.7L1670.9 764.7L1671.4 764.7L1671.9 764.7L1672.4 764.7L1672.9 764.7L1673.4 764.7L1673.9 764.7L1674.4 764.7L1674.9 764.7L1675.4 764.8L1675.9 764.8L1676.4 764.8L1676.9 764.8L1677.4 764.8L1677.9 764.8L1678.4 764.9L1678.9 764.9L1679.4 764.9L1679.9 765.0L1680.4 765.0L1680.9 765.0L1681.4 765.1L1681.9 765.1L1682.4 765.1L1682.9 765.2L1683.4 765.2L1683.9 765.3L1684.4 765.3L1684.9 765.4L1685.4 765.5L1685.9 765.5L1686.4 765.6L1686.9 765.7L1687.4 765.8L1687.9 765.9L1688.4 766.0L1688.9 766.1L1689.4 766.2L1689.9 766.3L1690.4 766.5L1690.9 766.6L1691.4 766.8L1691.9 766.9L1692.4 767.1L1692.9 767.3L1693.4 767.5L1693.9 767.7L1694.4 767.9L1694.9 768.2L1695.4 768.4L1695.9 768.7L1696.4 769.0L1696.9 769.3L1697.4 769.6L1697.9 769.9L1698.4 770.3L1698.9 770.6L1699.4 771.0L1699.9 771.5L1700.4 771.9L1700.9 772.4L1701.4 772.9L1701.9 773.4L1702.4 773.9L1702.9 774.5L1703.4 775.1L1703.9 775.7L1704.4 776.4L1704.9 777.1L1705.4 777.8L1705.9 778.6L1706.4 779.4L1706.9 780.2L1707.4 781.1L1707.9 782.0L1708.4 783.0L1708.9 784.0L1709.4 785.0L1709.9 786.1L1710.4 787.2L1710.9 788.4L1711.4 789.6L1711.9 790.9L1712.4 792.2L1712.9 793.6L1713.4 795.0L1713.9 796.5L1714.4 798.0L1714.9 799.6L1715.4 801.2L1715.9 802.9L1716.4 804.7L1716.9 806.4L1717.4 808.3L1717.9 810.2L1718.4 812.2L1718.9 814.2L1719.4 816.3L1719.9 818.4L1720.4 820.6L1720.9 822.8L1721.4 825.1L1721.9 827.5L1722.4 829.9L1722.9 832.3L1723.4 834.9L1723.9 837.4L1724.4 840.0L1724.9 842.7L1725.4 845.4L1725.9 848.2L1726.4 851.0L1726.9 853.8L1727.4 856.7L1727.9 859.7L1728.4 862.6L1728.9 865.7L1729.4 868.7L1729.9 871.8L1730.4 874.9L1730.9 878.0L1731.4 881.1L1731.9 884.3L1732.4 887.5L1732.9 890.7L1733.4 893.9L1733.9 897.1L1734.4 900.3L1734.9 903.5L1735.4 906.7L1735.9 909.9L1736.4 913.1L1736.9 916.3L1737.4 919.5L1737.9 922.6L1738.4 925.7L1738.9 928.8L1739.4 931.8L1739.9 934.8L1740.4 937.7L1740.9 940.6L1741.4 943.5L1741.9 946.3L1742.4 949.0L1742.9 951.7L1743.4 954.3L1743.9 956.8L1744.4 959.2L1744.9 961.6L1745.4 963.9L1745.9 966.1L1746.4 968.2L1746.9 970.2L1747.4 972.1L1747.9 973.9L1748.4 975.6L1748.9 977.2L1749.4 978.7L1749.9 980.1L1750.4 981.3L1750.9 982.5L1751.4 983.5L1751.9 984.4L1752.4 985.2L1752.9 985.9L1753.4 986.4L1753.9 986.8L1754.4 987.1L1754.9 987.3L1755.4 987.3L1755.9 987.2L1756.4 987.0L1756.9 986.7L1757.4 986.2L1757.9 985.6L1758.4 984.9L1758.9 984.1L1759.4 983.1L1759.9 982.0L1760.4 980.8L1760.9 979.5L1761.4 978.1L1761.9 976.6L1762.4 974.9L1762.9 973.2L1763.4 971.3L1763.9 969.4L1764.4 967.3L1764.9 965.2L1765.4 963.0L1765.9 960.7L1766.4 958.3L1766.9 955.8L1767.4 953.2L1767.9 950.6L1768.4 947.9L1768.9 945.2L1769.4 942.4L1769.9 939.5L1770.4 936.6L1770.9 933.6L1771.4 930.6L1771.9 927.5L1772.4 924.5L1772.9 921.3L1773.4 918.2L1773.9 915.0L1774.4 911.9L1774.9 908.7L1775.4 905.5L1775.9 902.2L1776.4 899.0L1776.9 895.8L1777.4 892.6L1777.9 889.4L1778.4 886.2L1778.9 883.0L1779.4 879.9L1779.9 876.7L1780.4 873.6L1780.9 870.5L1781.4 867.5L1781.9 864.4L1782.4 861.4L1782.9 858.5L1783.4 855.6L1783.9 852.7L1784.4 849.9L1784.9 847.1L1785.4 844.3L1785.9 841.6L1786.4 839.0L1786.9 836.4L1787.4 833.8L1787.9 831.3L1788.4 828.9L1788.9 826.5L1789.4 824.2L1789.9 821.9L1790.4 819.7L1790.9 817.5L1791.4 815.4L1791.9 813.4L1792.4 811.4L1792.9 809.4L1793.4 807.5L1793.9 805.7L1794.4 803.9L1794.9 802.2L1795.4 800.6L1795.9 799.0L1796.4 797.4L1796.9 795.9L1797.4 794.5L1797.9 793.1L1798.4 791.7L1798.9 790.4L1799.4 789.2L1799.9 787.9L1800.4 786.8L1800.9 785.7L1801.4 784.6L1801.9 783.6L1802.4 782.6L1802.9 781.7L1803.4 780.8L1803.9 779.9L1804.4 779.1L1804.9 778.3L1805.4 777.5L1805.9 776.8L1806.4 776.1L1806.9 775.5L1807.4 774.9L1807.9 774.3L1808.4 773.7L1808.9 773.2L1809.4 772.7L1809.9 772.2L1810.4 771.7L1810.9 771.3L1811.4 770.9L1811.9 770.5L1812.4 770.1L1812.9 769.8L1813.4 769.4L1813.9 769.1L1814.4 768.8L1814.9 768.6L1815.4 768.3L1815.9 768.1L1816.4 767.8L1816.9 767.6L1817.4 767.4L1817.9 767.2L1818.4 767.0L1818.9 766.9L1819.4 766.7L1819.9 766.6L1820.4 766.4L1820.9 766.3L1821.4 766.2L1821.9 766.1L1822.4 766.0L1822.9 765.9L1823.4 765.8L1823.9 765.7L1824.4 765.6L1824.9 765.5L1825.4 765.4L1825.9 765.4L1826.4 765.3L1826.9 765.3L1827.4 765.2L1827.9 765.2L1828.4 765.1L1828.9 765.1L1829.4 765.0L1829.9 765.0L1830.4 765.0L1830.9 764.9L1831.4 764.9L1831.9 764.9L1832.4 764.9L1832.9 764.8L1833.4 764.8L1833.9 764.8L1834.4 764.8L1834.9 764.8L1835.4 764.8L1835.9 764.7L1836.4 764.7L1836.9 764.7L1837.4 764.7L1837.9 764.7L1838.4 764.7L1838.9 764.7L1839.4 764.7L1839.9 764.7L1840.4 764.7L1840.9 764.7L1841.4 764.6L1841.9 764.6L1842.4 764.6L1842.9 764.6L1843.4 764.6L1843.9 764.6L1844.4 764.6L1844.9 764.6L1845.4 764.6L1845.9 764.6L1846.4 764.6L1846.9 764.6L1847.4 764.6L1847.9 764.6L1848.4 764.6L1848.9 764.6L1849.4 764.6L1849.9 764.6L1850.4 764.6L1850.9 764.6L1851.4 764.6L1851.9 764.6L1852.4 764.6L1852.9 764.6L1853.4 764.6L1853.9 764.6L1854.4 764.6L1854.9 764.6L1855.4 764.6L1855.9 764.6L1856.4 764.6L1856.9 764.6L1857.4 764.6L1857.9 764.6L1858.4 764.6L1858.9 764.6L1859.4 764.6L1859.9 764.6L1860.4 764.6L1860.9 764.6L1861.4 764.6L1861.9 764.6L1862.4 764.6L1862.9 764.6L1863.4 764.6L1863.9 764.6L1864.4 764.6L1864.9 764.6L1865.4 764.6L1865.9 764.6L1866.4 764.6L1866.9 764.6L1867.4 764.6L1867.9 764.6L1868.4 764.6L1868.9 764.6L1869.4 764.6L1869.9 764.6L1870.4 764.6L1870.9 764.6L1871.4 764.6L1871.9 764.6L1872.4 764.6L1872.9 764.6L1873.4 764.6L1873.9 764.6L1874.4 764.6L1874.9 764.6L1875.4 764.6L1875.9 764.6L1876.4 764.6L1876.9 764.6L1877.4 764.6L1877.9 764.6L1878.4 764.6L1878.9 764.6L1879.4 764.6L1879.9 764.6L1880.4 764.6L1880.9 764.6L1881.4 764.6L1881.9 764.6L1882.4 764.6L1882.9 764.6L1883.4 764.6L1883.9 764.6L1884.4 764.6L1884.9 764.6L1885.4 764.6L1885.9 764.6L1886.4 764.6L1886.9 764.6L1887.4 764.6L1887.9 764.6L1888.4 764.6L1888.9 764.6L1889.4 764.6L1889.9 764.6L1890.4 764.6L1890.9 764.6L1891.4 764.6L1891.9 764.6L1892.4 764.6L1892.9 764.6L1893.4 764.6L1893.9 764.6L1894.4 764.6L1894.9 764.6L1895.4 764.6L1895.9 764.6L1896.4 764.6L1896.9 764.6L1897.4 764.6L1897.9 764.6L1898.4 764.6L1898.9 764.6L1899.4 764.6L1899.9 764.6L1900.4 764.6L1900.9 764.6L1901.4 764.6L1901.9 764.6L1902.4 764.6L1902.9 764.6L1903.4 764.6L1903.9 764.6L1904.4 764.6L1904.9 764.6L1905.4 764.6L1905.9 764.6L1906.4 764.6L1906.9 764.6L1907.4 764.6L1907.9 764.6L1908.4 764.6L1908.9 764.6L1909.4 764.6L1909.9 764.6L1910.4 764.6L1910.9 764.6L1911.4 764.6L1911.9 764.6L1912.4 764.6L1912.9 764.6L1913.4 764.6L1913.9 764.6L1914.4 764.6L1914.9 764.6L1915.4 764.6L1915.9 764.6L1916.4 764.6L1916.9 764.6L1917.4 764.6L1917.9 764.6L1918.4 764.6L1918.9 764.6L1919.4 764.6L1919.9 764.6L1920.4 764.6L1920.9 764.6L1921.4 764.6L1921.9 764.6L1922.4 764.6L1922.9 764.6L1923.4 764.6L1923.9 764.6L1924.4 764.6L1924.9 764.6L1925.4 764.6L1925.9 764.6L1926.4 764.6L1926.9 764.6L1927.4 764.6L1927.9 764.6L1928.4 764.6L1928.9 764.6L1929.4 764.6L1929.9 764.6L1930.4 764.6L1930.9 764.6L1931.4 764.6L1931.9 764.6L1932.4 764.6L1932.9 764.6" stroke="#000" stroke-width="3.6"/>
<path d="M1610.4 764.6L1610.9 764.6L1611.4 764.6L1611.9 764.6L1612.4 764.6L1612.9 764.6L1613.4 764.6L1613.9 764.6L1614.4 764.6L1614.9 764.6L1615.4 764.6L1615.9 764.6L1616.4 764.6L1616.9 764.6L1617.4 764.6L1617.9 764.6L1618.4 764.6L1618.9 764.6L1619.4 764.6L1619.9 764.6L1620.4 764.6L1620.9 764.6L1621.4 764.6L1621.9 764.6L1622.4 764.6L1622.9 764.6L1623.4 764.6L1623.9 764.6L1624.4 764.6L1624.9 764.6L1625.4 764.6L1625.9 764.6L1626.4 764.6L1626.9 764.6L1627.4 764.6L1627.9 764.6L1628.4 764.6L1628.9 764.6L1629.4 764.6L1629.9 764.6L1630.4 764.6L1630.9 764.6L1631.4 764.6L1631.9 764.6L1632.4 764.6L1632.9 764.6L1633.4 764.6L1633.9 764.6L1634.4 764.6L1634.9 764.6L1635.4 764.6L1635.9 764.6L1636.4 764.6L1636.9 764.6L1637.4 764.6L1637.9 764.6L1638.4 764.6L1638.9 764.6L1639.4 764.6L1639.9 764.6L1640.4 764.6L1640.9 764.6L1641.4 764.6L1641.9 764.6L1642.4 764.6L1642.9 764.6L1643.4 764.6L1643.9 764.6L1644.4 764.6L1644.9 764.6L1645.4 764.6L1645.9 764.6L1646.4 764.6L1646.9 764.6L1647.4 764.6L1647.9 764.6L1648.4 764.6L1648.9 764.6L1649.4 764.6L1649.9 764.6L1650.4 764.6L1650.9 764.6L1651.4 764.6L1651.9 764.6L1652.4 764.6L1652.9 764.6L1653.4 764.6L1653.9 764.6L1654.4 764.6L1654.9 764.6L1655.4 764.6L1655.9 764.6L1656.4 764.6L1656.9 764.6L1657.4 764.6L1657.9 764.6L1658.4 764.6L1658.9 764.6L1659.4 764.6L1659.9 764.6L1660.4 764.6L1660.9 764.6L1661.4 764.6L1661.9 764.6L1662.4 764.6L1662.9 764.6L1663.4 764.6L1663.9 764.6L1664.4 764.6L1664.9 764.6L1665.4 764.6L1665.9 764.6L1666.4 764.6L1666.9 764.6L1667.4 764.6L1667.9 764.6L1668.4 764.6L1668.9 764.6L1669.4 764.6L1669.9 764.6L1670.4 764.6L1670.9 764.6L1671.4 764.6L1671.9 764.6L1672.4 764.6L1672.9 764.6L1673.4 764.6L1673.9 764.6L1674.4 764.6L1674.9 764.6L1675.4 764.6L1675.9 764.6L1676.4 764.6L1676.9 764.6L1677.4 764.6L1677.9 764.6L1678.4 764.6L1678.9 764.6L1679.4 764.6L1679.9 764.6L1680.4 764.6L1680.9 764.6L1681.4 764.6L1681.9 764.6L1682.4 764.6L1682.9 764.6L1683.4 764.6L1683.9 764.6L1684.4 764.6L1684.9 764.6L1685.4 764.6L1685.9 764.6L1686.4 764.6L1686.9 764.6L1687.4 764.6L1687.9 764.6L1688.4 764.6L1688.9 764.6L1689.4 764.6L1689.9 764.6L1690.4 764.6L1690.9 764.7L1691.4 764.7L1691.9 764.9L1692.4 765.0L1692.9 765.2L1693.4 765.4L1693.9 765.7L1694.4 765.9L1694.9 766.2L1695.4 766.5L1695.9 766.8L1696.4 767.1L1696.9 767.3L1697.4 767.6L1697.9 767.9L1698.4 768.1L1698.9 768.4L1699.4 768.6L1699.9 768.7L1700.4 768.9L1700.9 769.0L1701.4 769.0L1701.9 769.1L1702.4 769.0L1702.9 768.7L1703.4 768.2L1703.9 767.5L1704.4 766.6L1704.9 765.5L1705.4 764.3L1705.9 762.9L1706.4 761.4L1706.9 759.7L1707.4 757.9L1707.9 756.1L1708.4 754.2L1708.9 752.4L1709.4 750.5L1709.9 748.6L1710.4 746.8L1710.9 745.0L1711.4 743.4L1711.9 741.8L1712.4 740.4L1712.9 739.2L1713.4 738.1L1713.9 737.2L1714.4 736.5L1714.9 736.0L1715.4 735.7L1715.9 735.7L1716.4 736.2L1716.9 737.4L1717.4 739.3L1717.9 741.9L1718.4 745.1L1718.9 748.9L1719.4 753.3L1719.9 758.2L1720.4 763.5L1720.9 769.1L1721.4 775.1L1721.9 781.2L1722.4 787.5L1722.9 793.9L1723.4 800.2L1723.9 806.3L1724.4 812.3L1724.9 818.1L1725.4 823.4L1725.9 828.4L1726.4 832.9L1726.9 836.8L1727.4 840.2L1727.9 842.9L1728.4 844.9L1728.9 846.3L1729.4 846.9L1729.9 846.7L1730.4 845.2L1730.9 842.3L1731.4 838.1L1731.9 832.6L1732.4 825.9L1732.9 818.0L1733.4 809.1L1733.9 799.3L1734.4 788.6L1734.9 777.3L1735.4 765.4L1735.9 753.1L1736.4 740.6L1736.9 728.0L1737.4 715.4L1737.9 702.9L1738.4 690.9L1738.9 679.3L1739.4 668.4L1739.9 658.2L1740.4 648.9L1740.9 640.6L1741.4 633.5L1741.9 627.5L1742.4 622.7L1742.9 619.3L1743.4 617.2L1743.9 616.5L1744.4 618.1L1744.9 622.8L1745.4 630.5L1745.9 641.1L1746.4 654.3L1746.9 670.0L1747.4 687.8L1747.9 707.4L1748.4 728.4L1748.9 750.3L1749.4 772.8L1749.9 795.5L1750.4 817.8L1750.9 839.4L1751.4 859.9L1751.9 878.8L1752.4 895.8L1752.9 910.5L1753.4 922.8L1753.9 932.2L1754.4 938.7L1754.9 942.2L1755.4 942.5L1755.9 940.1L1756.4 935.0L1756.9 927.3L1757.4 917.2L1757.9 904.8L1758.4 890.3L1758.9 873.9L1759.4 856.0L1759.9 836.8L1760.4 816.7L1760.9 795.9L1761.4 774.9L1761.9 753.9L1762.4 733.3L1762.9 713.5L1763.4 694.8L1763.9 677.5L1764.4 661.9L1764.9 648.2L1765.4 636.6L1765.9 627.5L1766.4 620.8L1766.9 616.7L1767.4 615.4L1767.9 616.5L1768.4 619.7L1768.9 625.1L1769.4 632.4L1769.9 641.7L1770.4 652.6L1770.9 665.0L1771.4 678.7L1771.9 693.4L1772.4 708.9L1772.9 724.9L1773.4 741.0L1773.9 757.0L1774.4 772.6L1774.9 787.5L1775.4 801.4L1775.9 814.1L1776.4 825.3L1776.9 834.9L1777.4 842.7L1777.9 848.4L1778.4 852.1L1778.9 853.6L1779.4 853.2L1779.9 851.4L1780.4 848.2L1780.9 843.7L1781.4 838.1L1781.9 831.3L1782.4 823.7L1782.9 815.3L1783.4 806.3L1783.9 796.9L1784.4 787.4L1784.9 777.9L1785.4 768.7L1785.9 759.9L1786.4 751.8L1786.9 744.5L1787.4 738.2L1787.9 733.0L1788.4 729.0L1788.9 726.3L1789.4 725.1L1789.9 725.1L1790.4 725.8L1790.9 727.1L1791.4 729.0L1791.9 731.5L1792.4 734.4L1792.9 737.8L1793.4 741.5L1793.9 745.4L1794.4 749.5L1794.9 753.6L1795.4 757.7L1795.9 761.7L1796.4 765.4L1796.9 768.7L1797.4 771.7L1797.9 774.1L1798.4 776.0L1798.9 777.4L1799.4 778.1L1799.9 778.2L1800.4 778.0L1800.9 777.6L1801.4 777.1L1801.9 776.3L1802.4 775.5L1802.9 774.4L1803.4 773.3L1803.9 772.1L1804.4 770.9L1804.9 769.6L1805.4 768.3L1805.9 767.1L1806.4 765.9L1806.9 764.8L1807.4 763.8L1807.9 763.0L1808.4 762.4L1808.9 761.9L1809.4 761.6L1809.9 761.5L1810.4 761.5L1810.9 761.5L1811.4 761.6L1811.9 761.6L1812.4 761.7L1812.9 761.9L1813.4 762.0L1813.9 762.1L1814.4 762.3L1814.9 762.5L1815.4 762.6L1815.9 762.8L1816.4 763.0L1816.9 763.3L1817.4 763.5L1817.9 763.7L1818.4 763.9L1818.9 764.1L1819.4 764.3L1819.9 764.5L1820.4 764.7L1820.9 764.9L1821.4 765.1L1821.9 765.3L1822.4 765.4L1822.9 765.5L1823.4 765.7L1823.9 765.8L1824.4 765.8L1824.9 765.9L1825.4 765.9L1825.9 765.9L1826.4 765.9L1826.9 765.9L1827.4 765.9L1827.9 765.8L1828.4 765.8L1828.9 765.7L1829.4 765.6L1829.9 765.5L1830.4 765.4L1830.9 765.2L1831.4 765.1L1831.9 765.0L1832.4 764.8L1832.9 764.7L1833.4 764.5L1833.9 764.3L1834.4 764.1L1834.9 764.0L1835.4 763.8L1835.9 763.6L1836.4 763.4L1836.9 763.3L1837.4 763.1L1837.9 763.0L1838.4 762.8L1838.9 762.7L1839.4 762.5L1839.9 762.4L1840.4 762.3L1840.9 762.2L1841.4 762.1L1841.9 762.1L1842.4 762.0L1842.9 762.0L1843.4 761.9L1843.9 761.9L1844.4 761.9L1844.9 762.0L1845.4 762.1L1845.9 762.2L1846.4 762.4L1846.9 762.6L1847.4 762.8L1847.9 763.0L1848.4 763.3L1848.9 763.6L1849.4 763.9L1849.9 764.2L1850.4 764.5L1850.9 764.8L1851.4 765.1L1851.9 765.4L1852.4 765.7L1852.9 766.0L1853.4 766.2L1853.9 766.4L1854.4 766.5L1854.9 766.7L1855.4 766.8L1855.9 766.8L1856.4 766.8L1856.9 766.8L1857.4 766.8L1857.9 766.7L1858.4 766.6L1858.9 766.5L1859.4 766.3L1859.9 766.2L1860.4 766.0L1860.9 765.8L1861.4 765.6L1861.9 765.4L1862.4 765.2L1862.9 764.9L1863.4 764.7L1863.9 764.5L1864.4 764.3L1864.9 764.0L1865.4 763.8L1865.9 763.6L1866.4 763.5L1866.9 763.3L1867.4 763.2L1867.9 763.0L1868.4 763.0L1868.9 762.9L1869.4 762.8L1869.9 762.8L1870.4 762.8L1870.9 762.8L1871.4 762.9L1871.9 763.0L1872.4 763.0L1872.9 763.1L1873.4 763.3L1873.9 763.4L1874.4 763.5L1874.9 763.7L1875.4 763.8L1875.9 764.0L1876.4 764.2L1876.9 764.4L1877.4 764.6L1877.9 764.7L1878.4 764.9L1878.9 765.1L1879.4 765.3L1879.9 765.5L1880.4 765.6L1880.9 765.8L1881.4 765.9L1881.9 766.0L1882.4 766.1L1882.9 766.2L1883.4 766.3L1883.9 766.3L1884.4 766.4L1884.9 766.4L1885.4 766.4L1885.9 766.4L1886.4 766.3L1886.9 766.2L1887.4 766.2L1887.9 766.1L1888.4 765.9L1888.9 765.8L1889.4 765.7L1889.9 765.5L1890.4 765.4L1890.9 765.2L1891.4 765.0L1891.9 764.8L1892.4 764.6L1892.9 764.5L1893.4 764.3L1893.9 764.1L1894.4 763.9L1894.9 763.7L1895.4 763.6L1895.9 763.4L1896.4 763.3L1896.9 763.2L1897.4 763.1L1897.9 763.0L1898.4 762.9L1898.9 762.9L1899.4 762.8L1899.9 762.8L1900.4 762.8L1900.9 762.8L1901.4 762.9L1901.9 762.9L1902.4 763.0L1902.9 763.1L1903.4 763.2L1903.9 763.3L1904.4 763.4L1904.9 763.6L1905.4 763.7L1905.9 763.9L1906.4 764.0L1906.9 764.2L1907.4 764.3L1907.9 764.5L1908.4 764.7L1908.9 764.8L1909.4 765.0L1909.9 765.1L1910.4 765.3L1910.9 765.4L1911.4 765.5L1911.9 765.6L1912.4 765.7L1912.9 765.8L1913.4 765.8L1913.9 765.9L1914.4 765.9L1914.9 765.9L1915.4 765.9L1915.9 765.9L1916.4 765.9L1916.9 765.9L1917.4 765.8L1917.9 765.8L1918.4 765.7L1918.9 765.7L1919.4 765.6L1919.9 765.6L1920.4 765.5L1920.9 765.4L1921.4 765.3L1921.9 765.2L1922.4 765.1L1922.9 765.0L1923.4 764.9L1923.9 764.9L1924.4 764.8L1924.9 764.7L1925.4 764.6L1925.9 764.5L1926.4 764.4L1926.9 764.3L1927.4 764.2L1927.9 764.1L1928.4 764.1L1928.9 764.0L1929.4 763.9L1929.9 763.9L1930.4 763.8L1930.9 763.8L1931.4 763.8L1931.9 763.7L1932.4 763.7L1932.9 763.7" stroke="#e2183a" stroke-width="3.4"/>
<path d="M1610.4 764.6L1610.9 764.6L1611.4 764.6L1611.9 764.6L1612.4 764.6L1612.9 764.6L1613.4 764.6L1613.9 764.6L1614.4 764.6L1614.9 764.6L1615.4 764.6L1615.9 764.6L1616.4 764.6L1616.9 764.6L1617.4 764.6L1617.9 764.6L1618.4 764.6L1618.9 764.6L1619.4 764.6L1619.9 764.6L1620.4 764.6L1620.9 764.6L1621.4 764.6L1621.9 764.6L1622.4 764.6L1622.9 764.6L1623.4 764.6L1623.9 764.6L1624.4 764.6L1624.9 764.6L1625.4 764.6L1625.9 764.6L1626.4 764.6L1626.9 764.6L1627.4 764.6L1627.9 764.6L1628.4 764.6L1628.9 764.6L1629.4 764.6L1629.9 764.6L1630.4 764.6L1630.9 764.6L1631.4 764.6L1631.9 764.6L1632.4 764.6L1632.9 764.6L1633.4 764.7L1633.9 764.8L1634.4 764.9L1634.9 765.0L1635.4 765.2L1635.9 765.3L1636.4 765.5L1636.9 765.6L1637.4 765.8L1637.9 765.9L1638.4 766.1L1638.9 766.2L1639.4 766.3L1639.9 766.3L1640.4 766.4L1640.9 766.4L1641.4 766.4L1641.9 766.3L1642.4 766.1L1642.9 765.9L1643.4 765.7L1643.9 765.4L1644.4 765.0L1644.9 764.7L1645.4 764.3L1645.9 763.9L1646.4 763.4L1646.9 763.0L1647.4 762.6L1647.9 762.2L1648.4 761.9L1648.9 761.5L1649.4 761.3L1649.9 761.0L1650.4 760.8L1650.9 760.7L1651.4 760.6L1651.9 760.6L1652.4 760.7L1652.9 760.9L1653.4 761.1L1653.9 761.5L1654.4 762.0L1654.9 762.5L1655.4 763.1L1655.9 763.8L1656.4 764.5L1656.9 765.2L1657.4 765.9L1657.9 766.6L1658.4 767.3L1658.9 767.9L1659.4 768.4L1659.9 768.9L1660.4 769.3L1660.9 769.6L1661.4 769.8L1661.9 769.9L1662.4 769.9L1662.9 769.7L1663.4 769.4L1663.9 768.8L1664.4 768.2L1664.9 767.4L1665.4 766.4L1665.9 765.4L1666.4 764.3L1666.9 763.1L1667.4 762.0L1667.9 760.8L1668.4 759.6L1668.9 758.4L1669.4 757.3L1669.9 756.4L1670.4 755.5L1670.9 754.7L1671.4 754.1L1671.9 753.7L1672.4 753.4L1672.9 753.2L1673.4 753.3L1673.9 753.7L1674.4 754.4L1674.9 755.4L1675.4 756.6L1675.9 758.0L1676.4 759.7L1676.9 761.5L1677.4 763.5L1677.9 765.5L1678.4 767.6L1678.9 769.7L1679.4 771.8L1679.9 773.7L1680.4 775.6L1680.9 777.3L1681.4 778.8L1681.9 780.1L1682.4 781.1L1682.9 781.8L1683.4 782.3L1683.9 782.4L1684.4 782.3L1684.9 781.8L1685.4 781.1L1685.9 780.2L1686.4 778.9L1686.9 777.5L1687.4 775.9L1687.9 774.1L1688.4 772.1L1688.9 770.1L1689.4 768.0L1689.9 765.9L1690.4 763.8L1690.9 761.8L1691.4 759.8L1691.9 758.0L1692.4 756.4L1692.9 754.9L1693.4 753.7L1693.9 752.7L1694.4 752.0L1694.9 751.6L1695.4 751.5L1695.9 751.6L1696.4 751.8L1696.9 752.3L1697.4 752.9L1697.9 753.6L1698.4 754.5L1698.9 755.6L1699.4 756.7L1699.9 757.8L1700.4 759.0L1700.9 760.2L1701.4 761.4L1701.9 762.5L1702.4 763.6L1702.9 764.6L1703.4 765.4L1703.9 766.1L1704.4 766.7L1704.9 767.0L1705.4 767.2L1705.9 767.3L1706.4 767.1L1706.9 766.8L1707.4 766.4L1707.9 765.9L1708.4 765.2L1708.9 764.4L1709.4 763.6L1709.9 762.7L1710.4 761.8L1710.9 760.8L1711.4 759.9L1711.9 759.0L1712.4 758.2L1712.9 757.5L1713.4 756.9L1713.9 756.4L1714.4 756.0L1714.9 755.8L1715.4 755.7L1715.9 755.8L1716.4 756.2L1716.9 756.7L1717.4 757.5L1717.9 758.5L1718.4 759.7L1718.9 761.1L1719.4 762.6L1719.9 764.3L1720.4 766.1L1720.9 768.0L1721.4 770.0L1721.9 772.0L1722.4 774.0L1722.9 776.1L1723.4 778.1L1723.9 780.1L1724.4 782.0L1724.9 783.7L1725.4 785.4L1725.9 786.9L1726.4 788.2L1726.9 789.4L1727.4 790.3L1727.9 791.1L1728.4 791.6L1728.9 791.9L1729.4 792.0L1729.9 791.5L1730.4 790.3L1730.9 788.5L1731.4 786.0L1731.9 783.0L1732.4 779.4L1732.9 775.4L1733.4 771.0L1733.9 766.3L1734.4 761.4L1734.9 756.3L1735.4 751.3L1735.9 746.2L1736.4 741.4L1736.9 736.8L1737.4 732.5L1737.9 728.7L1738.4 725.3L1738.9 722.5L1739.4 720.3L1739.9 718.7L1740.4 717.8L1740.9 717.6L1741.4 718.2L1741.9 719.6L1742.4 721.7L1742.9 724.6L1743.4 728.2L1743.9 732.5L1744.4 737.3L1744.9 742.6L1745.4 748.2L1745.9 754.2L1746.4 760.4L1746.9 766.7L1747.4 772.9L1747.9 779.1L1748.4 785.0L1748.9 790.6L1749.4 795.8L1749.9 800.5L1750.4 804.6L1750.9 808.1L1751.4 810.9L1751.9 812.9L1752.4 814.1L1752.9 814.5L1753.4 814.1L1753.9 812.9L1754.4 810.9L1754.9 808.2L1755.4 804.8L1755.9 800.7L1756.4 796.1L1756.9 791.1L1757.4 785.7L1757.9 780.0L1758.4 774.1L1758.9 768.2L1759.4 762.4L1759.9 756.7L1760.4 751.2L1760.9 746.2L1761.4 741.6L1761.9 737.6L1762.4 734.2L1762.9 731.4L1763.4 729.5L1763.9 728.3L1764.4 727.9L1764.9 728.1L1765.4 728.8L1765.9 729.9L1766.4 731.5L1766.9 733.4L1767.4 735.7L1767.9 738.4L1768.4 741.3L1768.9 744.5L1769.4 747.8L1769.9 751.3L1770.4 754.8L1770.9 758.3L1771.4 761.8L1771.9 765.2L1772.4 768.4L1772.9 771.3L1773.4 774.0L1773.9 776.4L1774.4 778.5L1774.9 780.1L1775.4 781.3L1775.9 782.1L1776.4 782.4L1776.9 782.4L1777.4 782.1L1777.9 781.7L1778.4 781.0L1778.9 780.2L1779.4 779.3L1779.9 778.2L1780.4 777.0L1780.9 775.6L1781.4 774.3L1781.9 772.8L1782.4 771.4L1782.9 769.9L1783.4 768.5L1783.9 767.1L1784.4 765.8L1784.9 764.6L1785.4 763.5L1785.9 762.6L1786.4 761.8L1786.9 761.2L1787.4 760.8L1787.9 760.6L1788.4 760.6L1788.9 760.6L1789.4 760.6L1789.9 760.6L1790.4 760.6L1790.9 760.5L1791.4 760.5L1791.9 760.5L1792.4 760.5L1792.9 760.4L1793.4 760.4L1793.9 760.4L1794.4 760.3L1794.9 760.3L1795.4 760.3L1795.9 760.3L1796.4 760.2L1796.9 760.2L1797.4 760.2L1797.9 760.2L1798.4 760.2L1798.9 760.2L1799.4 760.1L1799.9 760.2L1800.4 760.2L1800.9 760.4L1801.4 760.6L1801.9 760.9L1802.4 761.2L1802.9 761.6L1803.4 762.1L1803.9 762.6L1804.4 763.1L1804.9 763.7L1805.4 764.3L1805.9 764.9L1806.4 765.6L1806.9 766.2L1807.4 766.8L1807.9 767.4L1808.4 768.0L1808.9 768.5L1809.4 769.0L1809.9 769.4L1810.4 769.8L1810.9 770.1L1811.4 770.3L1811.9 770.5L1812.4 770.6L1812.9 770.6L1813.4 770.5L1813.9 770.4L1814.4 770.1L1814.9 769.7L1815.4 769.3L1815.9 768.8L1816.4 768.2L1816.9 767.5L1817.4 766.8L1817.9 766.1L1818.4 765.4L1818.9 764.6L1819.4 763.8L1819.9 763.1L1820.4 762.4L1820.9 761.7L1821.4 761.1L1821.9 760.5L1822.4 760.1L1822.9 759.7L1823.4 759.4L1823.9 759.2L1824.4 759.1L1824.9 759.0L1825.4 759.1L1825.9 759.3L1826.4 759.5L1826.9 759.9L1827.4 760.3L1827.9 760.7L1828.4 761.3L1828.9 761.8L1829.4 762.4L1829.9 763.0L1830.4 763.7L1830.9 764.3L1831.4 764.9L1831.9 765.5L1832.4 766.0L1832.9 766.5L1833.4 767.0L1833.9 767.3L1834.4 767.6L1834.9 767.8L1835.4 767.9L1835.9 767.9L1836.4 767.9L1836.9 767.8L1837.4 767.7L1837.9 767.5L1838.4 767.2L1838.9 767.0L1839.4 766.6L1839.9 766.3L1840.4 765.9L1840.9 765.5L1841.4 765.2L1841.9 764.8L1842.4 764.4L1842.9 764.0L1843.4 763.7L1843.9 763.4L1844.4 763.1L1844.9 762.8L1845.4 762.6L1845.9 762.5L1846.4 762.4L1846.9 762.4L1847.4 762.4L1847.9 762.4L1848.4 762.3L1848.9 762.3L1849.4 762.3L1849.9 762.3L1850.4 762.2L1850.9 762.2L1851.4 762.1L1851.9 762.1L1852.4 762.0L1852.9 762.0L1853.4 761.9L1853.9 761.8L1854.4 761.8L1854.9 761.7L1855.4 761.7L1855.9 761.6L1856.4 761.6L1856.9 761.6L1857.4 761.5L1857.9 761.5L1858.4 761.5L1858.9 761.5L1859.4 761.5L1859.9 761.5L1860.4 761.6L1860.9 761.8L1861.4 762.0L1861.9 762.2L1862.4 762.5L1862.9 762.8L1863.4 763.2L1863.9 763.6L1864.4 764.0L1864.9 764.4L1865.4 764.8L1865.9 765.2L1866.4 765.7L1866.9 766.1L1867.4 766.5L1867.9 766.8L1868.4 767.2L1868.9 767.5L1869.4 767.7L1869.9 768.0L1870.4 768.2L1870.9 768.3L1871.4 768.4L1871.9 768.4L1872.4 768.4L1872.9 768.3L1873.4 768.2L1873.9 768.1L1874.4 767.9L1874.9 767.7L1875.4 767.4L1875.9 767.2L1876.4 766.9L1876.9 766.5L1877.4 766.2L1877.9 765.9L1878.4 765.5L1878.9 765.2L1879.4 764.8L1879.9 764.5L1880.4 764.2L1880.9 763.9L1881.4 763.6L1881.9 763.4L1882.4 763.1L1882.9 763.0L1883.4 762.8L1883.9 762.7L1884.4 762.6L1884.9 762.6L1885.4 762.6L1885.9 762.6L1886.4 762.7L1886.9 762.7L1887.4 762.8L1887.9 762.8L1888.4 762.9L1888.9 763.0L1889.4 763.1L1889.9 763.3L1890.4 763.4L1890.9 763.5L1891.4 763.7L1891.9 763.8L1892.4 763.9L1892.9 764.1L1893.4 764.2L1893.9 764.4L1894.4 764.5L1894.9 764.6L1895.4 764.7L1895.9 764.8L1896.4 764.9L1896.9 765.0L1897.4 765.1L1897.9 765.2L1898.4 765.2L1898.9 765.2L1899.4 765.3L1899.9 765.3L1900.4 765.3L1900.9 765.2L1901.4 765.2L1901.9 765.2L1902.4 765.1L1902.9 765.1L1903.4 765.0L1903.9 764.9L1904.4 764.8L1904.9 764.8L1905.4 764.7L1905.9 764.6L1906.4 764.5L1906.9 764.4L1907.4 764.3L1907.9 764.2L1908.4 764.1L1908.9 764.0L1909.4 763.9L1909.9 763.8L1910.4 763.7L1910.9 763.6L1911.4 763.5L1911.9 763.5L1912.4 763.4L1912.9 763.4L1913.4 763.3L1913.9 763.3L1914.4 763.3L1914.9 763.3L1915.4 763.3L1915.9 763.3L1916.4 763.3L1916.9 763.3L1917.4 763.3L1917.9 763.3L1918.4 763.3L1918.9 763.3L1919.4 763.3L1919.9 763.3L1920.4 763.3L1920.9 763.3L1921.4 763.3L1921.9 763.3L1922.4 763.3L1922.9 763.4L1923.4 763.4L1923.9 763.4L1924.4 763.4L1924.9 763.4L1925.4 763.4L1925.9 763.4L1926.4 763.4L1926.9 763.4L1927.4 763.4L1927.9 763.4L1928.4 763.5L1928.9 763.5L1929.4 763.5L1929.9 763.5L1930.4 763.5L1930.9 763.5L1931.4 763.5L1931.9 763.5L1932.4 763.5L1932.9 763.5" stroke="#50c087" stroke-width="3.4"/>
</g>
<rect x="1610.4" y="541.9" width="322.7" height="445.4" fill="none" stroke="#000" stroke-width="2.2"/>
<path d="M1663.8 980.3v14M1772.1 980.3v14M1879.6 980.3v14" stroke="#000" stroke-width="2.2"/>
<path d="M1673 686.5V729" stroke="#000" stroke-width="4.3"/>
<path d="M1665.1 724L1673 743L1680.9 724L1673 730Z" fill="#000"/>
<text x="1585" y="550.1" font-size="29.5" textLength="9.5" lengthAdjust="spacingAndGlyphs">1</text>
<text x="1582.5" y="774.8" font-size="29.5" textLength="15.5" lengthAdjust="spacingAndGlyphs">0</text>
<text x="1572.5" y="997.8" font-size="29.5" textLength="22" lengthAdjust="spacingAndGlyphs">-1</text>
<g transform="translate(1568 808) rotate(-90)"><text x="-2" y="0" font-size="29.5" textLength="15.2" lengthAdjust="spacingAndGlyphs">E</text><text x="13.6" y="3.1" font-size="17.5" textLength="8" lengthAdjust="spacingAndGlyphs">x</text><text x="25.7" y="0" font-size="29.5" textLength="62" lengthAdjust="spacingAndGlyphs">(a.u.)</text></g>
<text x="1537.5" y="557.7" font-size="38" font-weight="bold">f</text>
<text x="1663.8" y="1025.5" font-size="29.5" text-anchor="middle" textLength="46.5" lengthAdjust="spacingAndGlyphs">400</text>
<text x="1772.1" y="1025.5" font-size="29.5" text-anchor="middle" textLength="46.5" lengthAdjust="spacingAndGlyphs">500</text>
<text x="1879.6" y="1025.5" font-size="29.5" text-anchor="middle" textLength="46.5" lengthAdjust="spacingAndGlyphs">600</text>
<text x="1716.5" y="1057.1" font-size="29.5" textLength="109" lengthAdjust="spacingAndGlyphs">Time (fs)</text>
</svg>
</body></html>
